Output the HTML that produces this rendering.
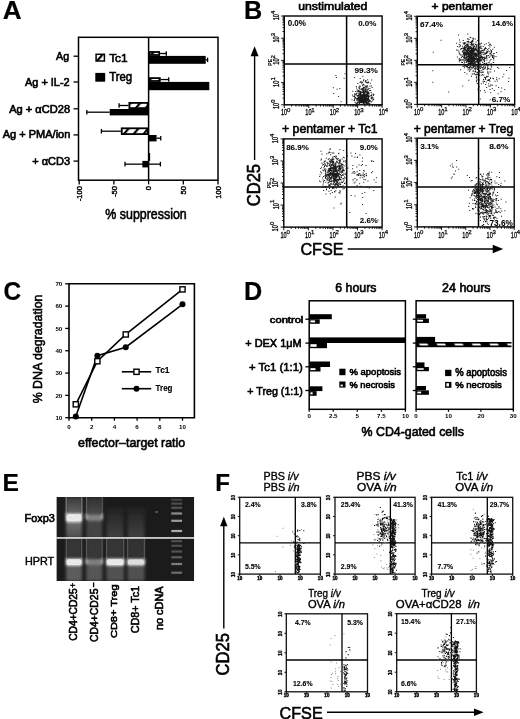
<!DOCTYPE html>
<html><head><meta charset="utf-8"><style>
html,body{margin:0;padding:0;background:#fff;}
svg{display:block;filter:blur(0.35px);}
text{font-family:"Liberation Sans", sans-serif;fill:#000;}
</style></head><body>
<svg width="520" height="719" viewBox="0 0 520 719">
<rect width="520" height="719" fill="#fff"/>
<defs>
<pattern id="hat" width="7.5" height="7.5" patternUnits="userSpaceOnUse" patternTransform="rotate(40)">
<rect width="7.5" height="7.5" fill="#fff"/><rect width="2.2" height="7.5" fill="#000"/></pattern>
<pattern id="hat2" x="415.6" y="342.0" width="17.6" height="5.2" patternUnits="userSpaceOnUse">
<rect width="17.6" height="5.2" fill="#000"/><path d="M3.2 1.5H11.5L13 3.4H4.5Z" fill="#fff"/></pattern>
</defs>
<text x="2.65" y="19.20" font-size="25.80" textLength="18.86" lengthAdjust="spacingAndGlyphs" font-weight="bold" stroke="#000" stroke-width="0.2">A</text>
<text x="244.06" y="18.80" font-size="25.22" textLength="18.23" lengthAdjust="spacingAndGlyphs" font-weight="bold" stroke="#000" stroke-width="0.2">B</text>
<text x="3.42" y="300.20" font-size="25.29" textLength="17.64" lengthAdjust="spacingAndGlyphs" font-weight="bold" stroke="#000" stroke-width="0.2">C</text>
<text x="244.06" y="299.80" font-size="26.23" textLength="18.20" lengthAdjust="spacingAndGlyphs" font-weight="bold" stroke="#000" stroke-width="0.2">D</text>
<text x="2.50" y="491.40" font-size="24.20" textLength="16.41" lengthAdjust="spacingAndGlyphs" font-weight="bold" stroke="#000" stroke-width="0.2">E</text>
<text x="215.33" y="490.60" font-size="23.04" textLength="14.73" lengthAdjust="spacingAndGlyphs" font-weight="bold" stroke="#000" stroke-width="0.2">F</text>
<rect x="78.5" y="37.3" width="139.5" height="142.89999999999998" fill="none" stroke="#000" stroke-width="1.5"/>
<line x1="148.60" y1="37.30" x2="148.60" y2="180.20" stroke="#000" stroke-width="1.5"/>
<line x1="73.50" y1="56.20" x2="78.50" y2="56.20" stroke="#000" stroke-width="1.3"/>
<text x="56.10" y="60.10" font-size="11.16" textLength="13.13" lengthAdjust="spacingAndGlyphs" stroke="#000" stroke-width="0.6">Ag</text>
<line x1="73.50" y1="82.00" x2="78.50" y2="82.00" stroke="#000" stroke-width="1.3"/>
<text x="25.00" y="86.20" font-size="10.86" textLength="44.66" lengthAdjust="spacingAndGlyphs" stroke="#000" stroke-width="0.6">Ag + IL-2</text>
<line x1="73.50" y1="108.80" x2="78.50" y2="108.80" stroke="#000" stroke-width="1.3"/>
<text x="9.20" y="112.60" font-size="10.29" textLength="60.87" lengthAdjust="spacingAndGlyphs" stroke="#000" stroke-width="0.6">Ag + αCD28</text>
<line x1="73.50" y1="134.90" x2="78.50" y2="134.90" stroke="#000" stroke-width="1.3"/>
<text x="2.70" y="138.30" font-size="10.43" textLength="67.64" lengthAdjust="spacingAndGlyphs" stroke="#000" stroke-width="0.6">Ag + PMA/ion</text>
<line x1="73.50" y1="161.10" x2="78.50" y2="161.10" stroke="#000" stroke-width="1.3"/>
<text x="32.15" y="164.50" font-size="10.29" textLength="37.90" lengthAdjust="spacingAndGlyphs" stroke="#000" stroke-width="0.6">+ αCD3</text>
<line x1="79.20" y1="180.20" x2="79.20" y2="184.40" stroke="#000" stroke-width="1.3"/>
<text x="82.00" y="186.00" font-size="7.6" text-anchor="end" transform="rotate(-90 81.99999999999999 186.0)" stroke="#000" stroke-width="0.4">-100</text>
<line x1="113.90" y1="180.20" x2="113.90" y2="184.40" stroke="#000" stroke-width="1.3"/>
<text x="116.70" y="186.00" font-size="7.6" text-anchor="end" transform="rotate(-90 116.69999999999999 186.0)" stroke="#000" stroke-width="0.4">-50</text>
<line x1="148.60" y1="180.20" x2="148.60" y2="184.40" stroke="#000" stroke-width="1.3"/>
<text x="151.40" y="186.00" font-size="7.6" text-anchor="end" transform="rotate(-90 151.4 186.0)" stroke="#000" stroke-width="0.4">0</text>
<line x1="183.30" y1="180.20" x2="183.30" y2="184.40" stroke="#000" stroke-width="1.3"/>
<text x="186.10" y="186.00" font-size="7.6" text-anchor="end" transform="rotate(-90 186.10000000000002 186.0)" stroke="#000" stroke-width="0.4">50</text>
<line x1="218.00" y1="180.20" x2="218.00" y2="184.40" stroke="#000" stroke-width="1.3"/>
<text x="220.80" y="186.00" font-size="7.6" text-anchor="end" transform="rotate(-90 220.8 186.0)" stroke="#000" stroke-width="0.4">100</text>
<text x="105.37" y="219.20" font-size="14.53" textLength="81.33" lengthAdjust="spacingAndGlyphs" stroke="#000" stroke-width="0.6">% suppression</text>
<rect x="149.50" y="52.00" width="9.65" height="3.00" fill="url(#hat)" stroke="#000" stroke-width="1.8"/>
<line x1="160.05" y1="53.50" x2="166.30" y2="53.50" stroke="#000" stroke-width="1.3"/>
<line x1="166.30" y1="51.20" x2="166.30" y2="55.80" stroke="#000" stroke-width="1.3"/>
<rect x="148.60" y="55.90" width="57.12" height="7.90" fill="#000"/>
<line x1="205.72" y1="59.85" x2="207.59" y2="59.85" stroke="#000" stroke-width="1.3"/>
<line x1="207.59" y1="57.55" x2="207.59" y2="62.15" stroke="#000" stroke-width="1.3"/>
<rect x="149.50" y="78.10" width="10.35" height="2.90" fill="url(#hat)" stroke="#000" stroke-width="1.8"/>
<line x1="160.75" y1="79.55" x2="168.73" y2="79.55" stroke="#000" stroke-width="1.3"/>
<line x1="168.73" y1="77.25" x2="168.73" y2="81.85" stroke="#000" stroke-width="1.3"/>
<rect x="148.60" y="81.90" width="60.72" height="8.30" fill="#000"/>
<rect x="129.37" y="102.90" width="18.33" height="5.20" fill="url(#hat)" stroke="#000" stroke-width="1.8"/>
<line x1="128.47" y1="105.50" x2="119.10" y2="105.50" stroke="#000" stroke-width="1.3"/>
<line x1="119.10" y1="103.20" x2="119.10" y2="107.80" stroke="#000" stroke-width="1.3"/>
<rect x="109.74" y="109.00" width="38.86" height="6.40" fill="#000"/>
<line x1="109.74" y1="112.20" x2="86.83" y2="112.20" stroke="#000" stroke-width="1.3"/>
<line x1="86.83" y1="109.90" x2="86.83" y2="114.50" stroke="#000" stroke-width="1.3"/>
<rect x="121.74" y="128.30" width="25.96" height="5.80" fill="url(#hat)" stroke="#000" stroke-width="1.8"/>
<line x1="120.84" y1="131.20" x2="101.41" y2="131.20" stroke="#000" stroke-width="1.3"/>
<line x1="101.41" y1="128.90" x2="101.41" y2="133.50" stroke="#000" stroke-width="1.3"/>
<rect x="148.60" y="135.00" width="7.98" height="6.40" fill="#000"/>
<line x1="156.58" y1="138.20" x2="160.75" y2="138.20" stroke="#000" stroke-width="1.3"/>
<line x1="160.75" y1="135.90" x2="160.75" y2="140.50" stroke="#000" stroke-width="1.3"/>
<rect x="148.60" y="153.00" width="1.53" height="7.90" fill="#000"/>
<rect x="142.35" y="160.90" width="6.25" height="6.50" fill="#000"/>
<line x1="142.35" y1="164.15" x2="125.00" y2="164.15" stroke="#000" stroke-width="1.3"/>
<line x1="125.00" y1="161.85" x2="125.00" y2="166.45" stroke="#000" stroke-width="1.3"/>
<line x1="142.35" y1="164.15" x2="160.40" y2="164.15" stroke="#000" stroke-width="1.3"/>
<line x1="160.40" y1="161.85" x2="160.40" y2="166.45" stroke="#000" stroke-width="1.3"/>
<rect x="96.10" y="54.30" width="8.30" height="6.70" fill="url(#hat)" stroke="#000" stroke-width="1.5"/>
<text x="109.16" y="61.50" font-size="11.74" textLength="18.49" lengthAdjust="spacingAndGlyphs" stroke="#000" stroke-width="0.6">Tc1</text>
<rect x="95.30" y="72.90" width="9.90" height="8.80" fill="#000"/>
<text x="109.17" y="81.30" font-size="12.17" textLength="22.96" lengthAdjust="spacingAndGlyphs" stroke="#000" stroke-width="0.6">Treg</text>
<rect x="284.3" y="16.0" width="97.80000000000001" height="88.8" fill="none" stroke="#000" stroke-width="1.4"/>
<line x1="346.60" y1="16.00" x2="346.60" y2="104.80" stroke="#000" stroke-width="1.5"/>
<line x1="284.30" y1="64.00" x2="382.10" y2="64.00" stroke="#000" stroke-width="1.5"/>
<path d="M284.30 104.8v3.2M284.3 104.80h-3.2M291.66 104.8v1.8M284.3 98.12h-1.8M295.97 104.8v1.8M284.3 94.21h-1.8M299.02 104.8v1.8M284.3 91.43h-1.8M301.39 104.8v1.8M284.3 89.28h-1.8M303.33 104.8v1.8M284.3 87.53h-1.8M304.96 104.8v1.8M284.3 86.04h-1.8M306.38 104.8v1.8M284.3 84.75h-1.8M307.63 104.8v1.8M284.3 83.62h-1.8M308.75 104.8v3.2M284.3 82.60h-3.2M316.11 104.8v1.8M284.3 75.92h-1.8M320.42 104.8v1.8M284.3 72.01h-1.8M323.47 104.8v1.8M284.3 69.23h-1.8M325.84 104.8v1.8M284.3 67.08h-1.8M327.78 104.8v1.8M284.3 65.33h-1.8M329.41 104.8v1.8M284.3 63.84h-1.8M330.83 104.8v1.8M284.3 62.55h-1.8M332.08 104.8v1.8M284.3 61.42h-1.8M333.20 104.8v3.2M284.3 60.40h-3.2M340.56 104.8v1.8M284.3 53.72h-1.8M344.87 104.8v1.8M284.3 49.81h-1.8M347.92 104.8v1.8M284.3 47.03h-1.8M350.29 104.8v1.8M284.3 44.88h-1.8M352.23 104.8v1.8M284.3 43.13h-1.8M353.86 104.8v1.8M284.3 41.64h-1.8M355.28 104.8v1.8M284.3 40.35h-1.8M356.53 104.8v1.8M284.3 39.22h-1.8M357.65 104.8v3.2M284.3 38.20h-3.2M365.01 104.8v1.8M284.3 31.52h-1.8M369.32 104.8v1.8M284.3 27.61h-1.8M372.37 104.8v1.8M284.3 24.83h-1.8M374.74 104.8v1.8M284.3 22.68h-1.8M376.68 104.8v1.8M284.3 20.93h-1.8M378.31 104.8v1.8M284.3 19.44h-1.8M379.73 104.8v1.8M284.3 18.15h-1.8M380.98 104.8v1.8M284.3 17.02h-1.8M382.1 104.8v3.2M284.3 16.0h-3.2" stroke="#000" stroke-width="0.9" fill="none"/>
<text x="284.00" y="115.40" font-size="8.4" text-anchor="middle" textLength="6.2" lengthAdjust="spacingAndGlyphs" stroke="#000" stroke-width="0.3">10</text>
<text x="286.90" y="111.80" font-size="6" stroke="#000" stroke-width="0.25">0</text>
<text x="279.00" y="106.00" font-size="8.4" text-anchor="middle" textLength="6.2" lengthAdjust="spacingAndGlyphs" transform="rotate(-90 279.00 106.00)" stroke="#000" stroke-width="0.3">10</text>
<text x="274.80" y="102.80" font-size="6" transform="rotate(-90 274.80 102.80)" stroke="#000" stroke-width="0.25">0</text>
<text x="308.45" y="115.40" font-size="8.4" text-anchor="middle" textLength="6.2" lengthAdjust="spacingAndGlyphs" stroke="#000" stroke-width="0.3">10</text>
<text x="311.35" y="111.80" font-size="6" stroke="#000" stroke-width="0.25">1</text>
<text x="279.00" y="83.80" font-size="8.4" text-anchor="middle" textLength="6.2" lengthAdjust="spacingAndGlyphs" transform="rotate(-90 279.00 83.80)" stroke="#000" stroke-width="0.3">10</text>
<text x="274.80" y="80.60" font-size="6" transform="rotate(-90 274.80 80.60)" stroke="#000" stroke-width="0.25">1</text>
<text x="332.90" y="115.40" font-size="8.4" text-anchor="middle" textLength="6.2" lengthAdjust="spacingAndGlyphs" stroke="#000" stroke-width="0.3">10</text>
<text x="335.80" y="111.80" font-size="6" stroke="#000" stroke-width="0.25">2</text>
<text x="279.00" y="61.60" font-size="8.4" text-anchor="middle" textLength="6.2" lengthAdjust="spacingAndGlyphs" transform="rotate(-90 279.00 61.60)" stroke="#000" stroke-width="0.3">10</text>
<text x="274.80" y="58.40" font-size="6" transform="rotate(-90 274.80 58.40)" stroke="#000" stroke-width="0.25">2</text>
<text x="357.35" y="115.40" font-size="8.4" text-anchor="middle" textLength="6.2" lengthAdjust="spacingAndGlyphs" stroke="#000" stroke-width="0.3">10</text>
<text x="360.25" y="111.80" font-size="6" stroke="#000" stroke-width="0.25">3</text>
<text x="279.00" y="39.40" font-size="8.4" text-anchor="middle" textLength="6.2" lengthAdjust="spacingAndGlyphs" transform="rotate(-90 279.00 39.40)" stroke="#000" stroke-width="0.3">10</text>
<text x="274.80" y="36.20" font-size="6" transform="rotate(-90 274.80 36.20)" stroke="#000" stroke-width="0.25">3</text>
<text x="381.80" y="115.40" font-size="8.4" text-anchor="middle" textLength="6.2" lengthAdjust="spacingAndGlyphs" stroke="#000" stroke-width="0.3">10</text>
<text x="384.70" y="111.80" font-size="6" stroke="#000" stroke-width="0.25">4</text>
<text x="279.00" y="17.20" font-size="8.4" text-anchor="middle" textLength="6.2" lengthAdjust="spacingAndGlyphs" transform="rotate(-90 279.00 17.20)" stroke="#000" stroke-width="0.3">10</text>
<text x="274.80" y="14.00" font-size="6" transform="rotate(-90 274.80 14.00)" stroke="#000" stroke-width="0.25">4</text>
<text x="271.70" y="62.20" font-size="5.2" font-weight="bold" text-anchor="middle" transform="rotate(-90 271.70 62.20)">PE</text>
<text x="298.31" y="9.60" font-size="10.62" textLength="69.08" lengthAdjust="spacingAndGlyphs" stroke="#000" stroke-width="0.6">unstimulated</text>
<path d="M362.0 100.5h1.0v1.0h-1.0zM362.1 96.5h1.0v1.0h-1.0zM359.5 97.0h1.0v1.0h-1.0zM367.2 100.0h1.0v1.0h-1.0zM366.9 99.2h1.0v1.0h-1.0zM364.5 98.9h1.0v1.0h-1.0zM356.7 102.1h1.0v1.0h-1.0zM364.9 100.4h1.0v1.0h-1.0zM356.6 89.6h1.0v1.0h-1.0zM359.6 95.8h1.0v1.0h-1.0zM364.2 97.8h1.0v1.0h-1.0zM365.0 94.9h1.0v1.0h-1.0zM364.2 99.9h1.0v1.0h-1.0zM358.3 94.6h1.0v1.0h-1.0zM359.7 102.3h1.0v1.0h-1.0zM364.2 98.6h1.0v1.0h-1.0zM359.9 99.2h1.0v1.0h-1.0zM364.6 90.8h1.0v1.0h-1.0zM367.3 92.5h1.0v1.0h-1.0zM357.4 102.0h1.0v1.0h-1.0zM365.5 102.5h1.0v1.0h-1.0zM368.5 99.7h1.0v1.0h-1.0zM363.5 91.8h1.0v1.0h-1.0zM365.3 95.1h1.0v1.0h-1.0zM361.3 91.9h1.0v1.0h-1.0zM359.3 95.5h1.0v1.0h-1.0zM367.9 88.2h1.0v1.0h-1.0zM357.5 99.1h1.0v1.0h-1.0zM368.5 100.8h1.0v1.0h-1.0zM355.8 85.9h1.0v1.0h-1.0zM364.4 94.5h1.0v1.0h-1.0zM358.7 102.7h1.0v1.0h-1.0zM367.2 98.8h1.0v1.0h-1.0zM363.9 100.1h1.0v1.0h-1.0zM369.1 101.0h1.0v1.0h-1.0zM365.0 100.6h1.0v1.0h-1.0zM358.4 99.9h1.0v1.0h-1.0zM368.2 92.1h1.0v1.0h-1.0zM365.0 95.1h1.0v1.0h-1.0zM359.9 100.3h1.0v1.0h-1.0zM370.1 90.0h1.0v1.0h-1.0zM364.4 100.4h1.0v1.0h-1.0zM363.3 101.5h1.0v1.0h-1.0zM358.0 98.6h1.0v1.0h-1.0zM363.0 98.4h1.0v1.0h-1.0zM359.8 100.2h1.0v1.0h-1.0zM354.4 93.2h1.0v1.0h-1.0zM361.3 92.6h1.0v1.0h-1.0zM358.8 93.1h1.0v1.0h-1.0zM370.7 101.4h1.0v1.0h-1.0zM364.4 88.4h1.0v1.0h-1.0zM364.1 93.4h1.0v1.0h-1.0zM361.6 99.3h1.0v1.0h-1.0zM362.1 96.7h1.0v1.0h-1.0zM365.4 99.3h1.0v1.0h-1.0zM364.8 101.7h1.0v1.0h-1.0zM363.1 98.0h1.0v1.0h-1.0zM364.0 99.8h1.0v1.0h-1.0zM362.4 98.8h1.0v1.0h-1.0zM366.7 93.3h1.0v1.0h-1.0zM364.7 100.9h1.0v1.0h-1.0zM360.9 101.7h1.0v1.0h-1.0zM368.3 102.5h1.0v1.0h-1.0zM358.7 99.2h1.0v1.0h-1.0zM364.5 99.1h1.0v1.0h-1.0zM361.4 101.1h1.0v1.0h-1.0zM364.1 95.5h1.0v1.0h-1.0zM372.2 99.7h1.0v1.0h-1.0zM360.9 97.5h1.0v1.0h-1.0zM362.1 97.7h1.0v1.0h-1.0zM352.6 95.7h1.0v1.0h-1.0zM366.8 92.4h1.0v1.0h-1.0zM362.7 102.6h1.0v1.0h-1.0zM363.6 93.8h1.0v1.0h-1.0zM364.2 102.5h1.0v1.0h-1.0zM367.1 91.1h1.0v1.0h-1.0zM365.6 90.8h1.0v1.0h-1.0zM362.4 98.9h1.0v1.0h-1.0zM366.0 98.7h1.0v1.0h-1.0zM362.7 102.6h1.0v1.0h-1.0zM354.6 101.7h1.0v1.0h-1.0zM372.4 97.1h1.0v1.0h-1.0zM361.2 100.5h1.0v1.0h-1.0zM363.4 101.1h1.0v1.0h-1.0zM364.5 102.6h1.0v1.0h-1.0zM365.3 93.4h1.0v1.0h-1.0zM359.1 90.9h1.0v1.0h-1.0zM367.8 101.6h1.0v1.0h-1.0zM368.6 93.5h1.0v1.0h-1.0zM363.0 92.5h1.0v1.0h-1.0zM366.2 85.8h1.0v1.0h-1.0zM359.9 101.0h1.0v1.0h-1.0zM368.8 95.5h1.0v1.0h-1.0zM364.0 100.2h1.0v1.0h-1.0zM367.8 102.8h1.0v1.0h-1.0zM367.3 102.5h1.0v1.0h-1.0zM361.1 94.3h1.0v1.0h-1.0zM361.1 97.2h1.0v1.0h-1.0zM373.1 99.1h1.0v1.0h-1.0zM360.3 93.3h1.0v1.0h-1.0zM366.7 95.9h1.0v1.0h-1.0zM367.9 91.5h1.0v1.0h-1.0zM363.7 101.5h1.0v1.0h-1.0zM362.2 101.4h1.0v1.0h-1.0zM360.5 96.1h1.0v1.0h-1.0zM361.2 99.2h1.0v1.0h-1.0zM366.0 95.6h1.0v1.0h-1.0zM358.1 99.7h1.0v1.0h-1.0zM366.3 95.2h1.0v1.0h-1.0zM366.9 95.2h1.0v1.0h-1.0zM358.5 96.8h1.0v1.0h-1.0zM367.1 98.6h1.0v1.0h-1.0zM363.1 98.4h1.0v1.0h-1.0zM363.7 95.2h1.0v1.0h-1.0zM357.0 99.3h1.0v1.0h-1.0zM359.8 96.5h1.0v1.0h-1.0zM358.2 97.3h1.0v1.0h-1.0zM363.4 95.8h1.0v1.0h-1.0zM360.3 96.7h1.0v1.0h-1.0zM357.1 94.9h1.0v1.0h-1.0zM366.5 95.3h1.0v1.0h-1.0zM359.6 94.3h1.0v1.0h-1.0zM357.2 97.4h1.0v1.0h-1.0zM358.5 99.7h1.0v1.0h-1.0zM354.0 99.6h1.0v1.0h-1.0zM360.6 88.7h1.0v1.0h-1.0zM365.8 96.7h1.0v1.0h-1.0zM354.5 93.8h1.0v1.0h-1.0zM364.1 95.8h1.0v1.0h-1.0zM366.0 101.6h1.0v1.0h-1.0zM365.5 99.6h1.0v1.0h-1.0zM368.1 101.2h1.0v1.0h-1.0zM364.7 88.0h1.0v1.0h-1.0zM367.9 102.5h1.0v1.0h-1.0zM351.5 99.2h1.0v1.0h-1.0zM364.1 95.5h1.0v1.0h-1.0zM358.8 100.4h1.0v1.0h-1.0zM361.7 100.7h1.0v1.0h-1.0zM359.1 96.3h1.0v1.0h-1.0zM366.4 98.5h1.0v1.0h-1.0zM359.8 94.0h1.0v1.0h-1.0zM365.4 85.6h1.0v1.0h-1.0zM365.4 100.3h1.0v1.0h-1.0zM369.4 100.1h1.0v1.0h-1.0zM362.7 100.5h1.0v1.0h-1.0zM355.6 103.0h1.0v1.0h-1.0zM364.2 94.6h1.0v1.0h-1.0zM362.5 96.0h1.0v1.0h-1.0zM368.4 100.6h1.0v1.0h-1.0zM361.7 98.8h1.0v1.0h-1.0zM368.0 95.4h1.0v1.0h-1.0zM363.5 96.1h1.0v1.0h-1.0zM363.9 96.6h1.0v1.0h-1.0zM365.7 94.0h1.0v1.0h-1.0zM365.7 96.3h1.0v1.0h-1.0zM366.2 102.3h1.0v1.0h-1.0zM363.1 100.3h1.0v1.0h-1.0zM363.6 99.3h1.0v1.0h-1.0zM364.0 102.0h1.0v1.0h-1.0zM360.6 98.0h1.0v1.0h-1.0zM362.6 98.8h1.0v1.0h-1.0zM363.0 98.8h1.0v1.0h-1.0zM362.5 92.0h1.0v1.0h-1.0zM364.7 97.1h1.0v1.0h-1.0zM364.7 93.4h1.0v1.0h-1.0zM355.8 98.3h1.0v1.0h-1.0zM359.5 101.6h1.0v1.0h-1.0zM358.9 85.4h1.0v1.0h-1.0zM359.0 102.9h1.0v1.0h-1.0zM360.5 94.3h1.0v1.0h-1.0zM362.3 99.3h1.0v1.0h-1.0zM364.0 99.3h1.0v1.0h-1.0zM362.8 94.3h1.0v1.0h-1.0zM363.8 99.7h1.0v1.0h-1.0zM367.2 89.8h1.0v1.0h-1.0zM361.5 94.6h1.0v1.0h-1.0zM363.2 102.0h1.0v1.0h-1.0zM360.8 98.7h1.0v1.0h-1.0zM360.2 99.3h1.0v1.0h-1.0zM372.9 94.9h1.0v1.0h-1.0zM360.3 97.0h1.0v1.0h-1.0zM366.2 97.1h1.0v1.0h-1.0zM362.9 98.2h1.0v1.0h-1.0zM359.8 101.7h1.0v1.0h-1.0zM360.5 97.9h1.0v1.0h-1.0zM362.6 98.0h1.0v1.0h-1.0zM362.9 100.1h1.0v1.0h-1.0zM362.1 98.8h1.0v1.0h-1.0zM366.2 98.6h1.0v1.0h-1.0zM363.0 91.0h1.0v1.0h-1.0zM361.3 88.4h1.0v1.0h-1.0zM360.4 100.7h1.0v1.0h-1.0zM365.2 97.7h1.0v1.0h-1.0zM362.1 91.2h1.0v1.0h-1.0zM369.9 100.5h1.0v1.0h-1.0zM367.2 93.8h1.0v1.0h-1.0zM362.3 89.3h1.0v1.0h-1.0zM366.0 102.5h1.0v1.0h-1.0zM355.8 97.7h1.0v1.0h-1.0zM365.4 89.5h1.0v1.0h-1.0zM356.1 92.9h1.0v1.0h-1.0zM360.6 91.3h1.0v1.0h-1.0zM363.1 99.2h1.0v1.0h-1.0zM365.4 101.4h1.0v1.0h-1.0zM358.0 95.6h1.0v1.0h-1.0zM359.0 92.8h1.0v1.0h-1.0zM362.7 98.0h1.0v1.0h-1.0zM364.9 90.4h1.0v1.0h-1.0zM358.3 97.9h1.0v1.0h-1.0zM362.2 96.5h1.0v1.0h-1.0zM362.8 94.4h1.0v1.0h-1.0zM365.7 99.7h1.0v1.0h-1.0zM362.7 94.8h1.0v1.0h-1.0zM362.3 84.9h1.0v1.0h-1.0zM359.3 98.2h1.0v1.0h-1.0zM357.3 99.0h1.0v1.0h-1.0zM363.6 91.4h1.0v1.0h-1.0zM362.0 96.5h1.0v1.0h-1.0zM364.7 100.9h1.0v1.0h-1.0zM362.9 93.9h1.0v1.0h-1.0zM362.5 97.7h1.0v1.0h-1.0zM365.8 99.4h1.0v1.0h-1.0zM360.3 91.5h1.0v1.0h-1.0zM361.6 94.4h1.0v1.0h-1.0zM358.8 97.4h1.0v1.0h-1.0zM361.1 98.5h1.0v1.0h-1.0zM365.0 96.0h1.0v1.0h-1.0zM371.8 96.5h1.0v1.0h-1.0zM367.2 98.6h1.0v1.0h-1.0zM367.2 86.6h1.0v1.0h-1.0zM360.1 99.2h1.0v1.0h-1.0zM361.2 96.7h1.0v1.0h-1.0zM353.7 96.2h1.0v1.0h-1.0zM367.5 93.1h1.0v1.0h-1.0zM363.3 98.1h1.0v1.0h-1.0zM358.8 98.3h1.0v1.0h-1.0zM362.3 100.5h1.0v1.0h-1.0zM361.2 101.5h1.0v1.0h-1.0zM363.1 97.8h1.0v1.0h-1.0zM363.0 88.8h1.0v1.0h-1.0zM369.3 102.9h1.0v1.0h-1.0zM365.6 95.7h1.0v1.0h-1.0zM360.4 101.4h1.0v1.0h-1.0zM368.1 98.0h1.0v1.0h-1.0zM360.4 101.9h1.0v1.0h-1.0zM362.8 99.5h1.0v1.0h-1.0zM364.4 102.3h1.0v1.0h-1.0zM370.6 95.3h1.0v1.0h-1.0zM365.0 91.7h1.0v1.0h-1.0zM370.7 92.1h1.0v1.0h-1.0zM357.2 95.7h1.0v1.0h-1.0zM368.9 100.4h1.0v1.0h-1.0zM356.9 100.4h1.0v1.0h-1.0zM361.1 94.9h1.0v1.0h-1.0zM371.3 101.3h1.0v1.0h-1.0zM366.0 101.9h1.0v1.0h-1.0zM361.2 101.4h1.0v1.0h-1.0zM362.3 84.9h1.0v1.0h-1.0zM359.4 96.3h1.0v1.0h-1.0zM364.1 100.5h1.0v1.0h-1.0zM364.5 102.5h1.0v1.0h-1.0zM361.0 98.8h1.0v1.0h-1.0zM363.6 100.0h1.0v1.0h-1.0zM362.1 99.8h1.0v1.0h-1.0zM363.2 101.7h1.0v1.0h-1.0zM355.8 93.8h1.0v1.0h-1.0zM363.0 93.0h1.0v1.0h-1.0zM359.0 101.0h1.0v1.0h-1.0zM360.5 101.0h1.0v1.0h-1.0zM365.8 99.5h1.0v1.0h-1.0zM364.9 97.5h1.0v1.0h-1.0zM357.6 97.9h1.0v1.0h-1.0zM364.7 95.5h1.0v1.0h-1.0zM362.6 101.6h1.0v1.0h-1.0zM359.7 101.1h1.0v1.0h-1.0zM370.1 95.3h1.0v1.0h-1.0zM363.6 97.3h1.0v1.0h-1.0zM368.9 99.5h1.0v1.0h-1.0zM366.4 94.7h1.0v1.0h-1.0zM362.9 98.0h1.0v1.0h-1.0zM356.3 102.8h1.0v1.0h-1.0zM369.3 87.9h1.0v1.0h-1.0zM363.0 100.3h1.0v1.0h-1.0zM365.6 102.8h1.0v1.0h-1.0zM359.3 87.6h1.0v1.0h-1.0zM362.0 91.2h1.0v1.0h-1.0zM363.4 92.7h1.0v1.0h-1.0zM362.0 97.6h1.0v1.0h-1.0zM363.6 94.6h1.0v1.0h-1.0zM367.8 94.7h1.0v1.0h-1.0zM362.3 100.4h1.0v1.0h-1.0zM362.9 103.0h1.0v1.0h-1.0zM364.1 99.2h1.0v1.0h-1.0zM358.0 97.0h1.0v1.0h-1.0zM360.9 100.2h1.0v1.0h-1.0zM362.6 97.6h1.0v1.0h-1.0zM368.3 96.2h1.0v1.0h-1.0zM366.2 94.4h1.0v1.0h-1.0zM363.3 101.6h1.0v1.0h-1.0zM368.8 96.2h1.0v1.0h-1.0zM362.7 98.9h1.0v1.0h-1.0zM357.3 98.1h1.0v1.0h-1.0zM360.4 99.8h1.0v1.0h-1.0zM358.7 88.5h1.0v1.0h-1.0zM363.1 99.3h1.0v1.0h-1.0zM360.9 102.3h1.0v1.0h-1.0zM362.0 95.1h1.0v1.0h-1.0zM364.8 90.5h1.0v1.0h-1.0zM360.4 97.9h1.0v1.0h-1.0zM366.2 97.2h1.0v1.0h-1.0zM364.2 94.9h1.0v1.0h-1.0zM367.2 96.3h1.0v1.0h-1.0zM364.0 101.2h1.0v1.0h-1.0zM358.1 101.5h1.0v1.0h-1.0zM365.0 97.1h1.0v1.0h-1.0zM360.9 100.1h1.0v1.0h-1.0zM365.1 97.6h1.0v1.0h-1.0zM364.3 98.5h1.0v1.0h-1.0zM356.6 102.7h1.0v1.0h-1.0zM361.6 81.5h1.0v1.0h-1.0zM366.1 96.2h1.0v1.0h-1.0zM366.5 102.9h1.0v1.0h-1.0zM368.5 99.4h1.0v1.0h-1.0zM360.3 101.2h1.0v1.0h-1.0zM361.9 100.5h1.0v1.0h-1.0zM366.1 98.1h1.0v1.0h-1.0zM365.5 97.3h1.0v1.0h-1.0zM358.6 102.8h1.0v1.0h-1.0zM361.9 98.6h1.0v1.0h-1.0zM359.4 98.8h1.0v1.0h-1.0zM365.2 96.5h1.0v1.0h-1.0zM357.1 102.7h1.0v1.0h-1.0zM363.1 96.6h1.0v1.0h-1.0zM364.3 98.4h1.0v1.0h-1.0zM365.6 96.2h1.0v1.0h-1.0zM362.9 87.7h1.0v1.0h-1.0zM361.4 101.2h1.0v1.0h-1.0zM368.1 96.3h1.0v1.0h-1.0zM362.9 98.4h1.0v1.0h-1.0zM363.3 87.3h1.0v1.0h-1.0zM356.9 89.4h1.0v1.0h-1.0zM365.7 98.5h1.0v1.0h-1.0zM353.6 99.9h1.0v1.0h-1.0zM366.6 96.6h1.0v1.0h-1.0zM354.3 98.5h1.0v1.0h-1.0zM365.8 102.9h1.0v1.0h-1.0zM365.9 90.6h1.0v1.0h-1.0zM360.4 95.3h1.0v1.0h-1.0zM361.5 102.1h1.0v1.0h-1.0zM363.3 96.1h1.0v1.0h-1.0zM363.9 98.5h1.0v1.0h-1.0zM359.8 96.6h1.0v1.0h-1.0zM370.8 96.8h1.0v1.0h-1.0zM366.0 97.7h1.0v1.0h-1.0zM364.5 99.1h1.0v1.0h-1.0zM357.0 98.1h1.0v1.0h-1.0zM360.4 99.1h1.0v1.0h-1.0zM358.4 101.3h1.0v1.0h-1.0zM360.1 90.9h1.0v1.0h-1.0zM366.2 92.2h1.0v1.0h-1.0zM359.6 96.1h1.0v1.0h-1.0zM362.8 94.8h1.0v1.0h-1.0zM363.0 101.6h1.0v1.0h-1.0zM361.2 102.3h1.0v1.0h-1.0zM367.5 97.7h1.0v1.0h-1.0zM364.8 97.9h1.0v1.0h-1.0zM356.1 99.4h1.0v1.0h-1.0zM367.5 89.0h1.0v1.0h-1.0zM366.1 99.0h1.0v1.0h-1.0zM364.8 100.1h1.0v1.0h-1.0zM368.0 96.9h1.0v1.0h-1.0zM366.3 96.0h1.0v1.0h-1.0zM365.8 94.1h1.0v1.0h-1.0zM362.6 102.6h1.0v1.0h-1.0zM367.0 102.0h1.0v1.0h-1.0zM361.1 95.7h1.0v1.0h-1.0zM361.6 99.9h1.0v1.0h-1.0zM363.8 101.5h1.0v1.0h-1.0zM358.5 93.9h1.0v1.0h-1.0zM363.2 98.7h1.0v1.0h-1.0zM362.0 101.0h1.0v1.0h-1.0zM364.3 92.2h1.0v1.0h-1.0zM364.6 98.9h1.0v1.0h-1.0zM359.2 101.7h1.0v1.0h-1.0zM361.9 96.4h1.0v1.0h-1.0zM362.3 102.0h1.0v1.0h-1.0zM366.1 96.8h1.0v1.0h-1.0zM359.7 96.2h1.0v1.0h-1.0zM356.4 102.8h1.0v1.0h-1.0zM366.6 97.9h1.0v1.0h-1.0zM371.2 98.4h1.0v1.0h-1.0zM356.8 102.1h1.0v1.0h-1.0zM360.8 98.7h1.0v1.0h-1.0zM367.8 98.6h1.0v1.0h-1.0zM357.7 89.9h1.0v1.0h-1.0zM367.5 101.6h1.0v1.0h-1.0zM359.9 102.1h1.0v1.0h-1.0zM364.9 101.1h1.0v1.0h-1.0zM354.4 96.5h1.0v1.0h-1.0zM366.4 101.5h1.0v1.0h-1.0zM366.3 86.2h1.0v1.0h-1.0zM363.6 100.4h1.0v1.0h-1.0zM372.7 93.4h1.0v1.0h-1.0zM361.7 98.2h1.0v1.0h-1.0zM366.4 95.9h1.0v1.0h-1.0zM367.4 94.2h1.0v1.0h-1.0zM364.0 95.5h1.0v1.0h-1.0zM363.6 94.7h1.0v1.0h-1.0zM364.2 95.3h1.0v1.0h-1.0zM363.8 102.8h1.0v1.0h-1.0zM359.3 97.5h1.0v1.0h-1.0zM365.0 100.5h1.0v1.0h-1.0zM361.7 87.9h1.0v1.0h-1.0zM367.7 99.6h1.0v1.0h-1.0zM363.0 96.7h1.0v1.0h-1.0zM364.0 96.0h1.0v1.0h-1.0zM359.1 94.4h1.0v1.0h-1.0zM360.7 95.1h1.0v1.0h-1.0zM358.6 101.1h1.0v1.0h-1.0zM358.0 101.2h1.0v1.0h-1.0zM359.1 99.7h1.0v1.0h-1.0zM368.2 99.0h1.0v1.0h-1.0zM360.2 98.2h1.0v1.0h-1.0zM363.6 89.7h1.0v1.0h-1.0zM360.7 98.8h1.0v1.0h-1.0zM361.2 98.4h1.0v1.0h-1.0zM365.8 101.7h1.0v1.0h-1.0zM366.4 100.8h1.0v1.0h-1.0zM361.9 97.9h1.0v1.0h-1.0zM362.0 96.5h1.0v1.0h-1.0zM362.3 89.7h1.0v1.0h-1.0zM361.7 97.9h1.0v1.0h-1.0zM359.3 97.9h1.0v1.0h-1.0zM365.0 97.2h1.0v1.0h-1.0zM370.9 85.5h1.0v1.0h-1.0zM362.2 89.2h1.0v1.0h-1.0zM371.1 95.1h1.0v1.0h-1.0zM366.4 102.6h1.0v1.0h-1.0zM366.2 99.8h1.0v1.0h-1.0zM363.1 95.2h1.0v1.0h-1.0zM365.4 95.7h1.0v1.0h-1.0zM363.8 95.6h1.0v1.0h-1.0zM354.5 97.8h1.0v1.0h-1.0zM363.8 101.6h1.0v1.0h-1.0zM359.7 97.8h1.0v1.0h-1.0zM365.3 98.7h1.0v1.0h-1.0zM367.7 103.0h1.0v1.0h-1.0zM364.8 96.2h1.0v1.0h-1.0zM363.4 95.7h1.0v1.0h-1.0zM357.7 96.7h1.0v1.0h-1.0zM356.1 93.2h1.0v1.0h-1.0zM364.2 94.7h1.0v1.0h-1.0zM356.0 87.4h1.0v1.0h-1.0zM358.2 94.4h1.0v1.0h-1.0zM362.9 98.3h1.0v1.0h-1.0zM365.1 98.6h1.0v1.0h-1.0zM360.0 94.6h1.0v1.0h-1.0zM354.9 97.2h1.0v1.0h-1.0zM364.8 100.5h1.0v1.0h-1.0zM362.5 97.2h1.0v1.0h-1.0zM366.6 98.1h1.0v1.0h-1.0zM365.8 100.8h1.0v1.0h-1.0zM364.0 99.7h1.0v1.0h-1.0zM358.0 90.6h1.0v1.0h-1.0zM363.8 93.2h1.0v1.0h-1.0zM362.9 98.7h1.0v1.0h-1.0zM360.0 93.1h1.0v1.0h-1.0zM354.6 101.9h1.0v1.0h-1.0zM362.7 94.4h1.0v1.0h-1.0zM363.9 97.2h1.0v1.0h-1.0zM359.2 97.0h1.0v1.0h-1.0zM363.1 99.7h1.0v1.0h-1.0zM363.1 97.3h1.0v1.0h-1.0zM354.4 94.4h1.0v1.0h-1.0zM364.6 100.5h1.0v1.0h-1.0zM359.5 94.4h1.0v1.0h-1.0zM358.6 91.2h1.0v1.0h-1.0zM364.5 101.7h1.0v1.0h-1.0zM362.6 99.4h1.0v1.0h-1.0zM368.1 92.6h1.0v1.0h-1.0zM362.9 90.2h1.0v1.0h-1.0zM368.1 81.4h1.0v1.0h-1.0zM354.2 93.5h1.0v1.0h-1.0zM359.2 92.5h1.0v1.0h-1.0zM366.2 94.1h1.0v1.0h-1.0zM367.8 92.5h1.0v1.0h-1.0zM363.0 80.2h1.0v1.0h-1.0zM367.9 81.9h1.0v1.0h-1.0zM362.3 99.8h1.0v1.0h-1.0zM354.1 95.8h1.0v1.0h-1.0zM358.7 90.2h1.0v1.0h-1.0zM354.1 76.9h1.0v1.0h-1.0zM367.3 91.5h1.0v1.0h-1.0zM363.8 102.5h1.0v1.0h-1.0zM371.6 87.1h1.0v1.0h-1.0zM361.1 95.6h1.0v1.0h-1.0zM369.5 85.6h1.0v1.0h-1.0zM360.1 81.3h1.0v1.0h-1.0zM369.1 90.0h1.0v1.0h-1.0zM367.5 81.8h1.0v1.0h-1.0zM366.7 85.1h1.0v1.0h-1.0zM361.9 82.0h1.0v1.0h-1.0zM361.7 95.5h1.0v1.0h-1.0zM361.4 89.0h1.0v1.0h-1.0zM365.6 88.9h1.0v1.0h-1.0zM365.6 91.6h1.0v1.0h-1.0zM367.6 88.2h1.0v1.0h-1.0zM363.8 92.3h1.0v1.0h-1.0zM371.2 93.8h1.0v1.0h-1.0zM357.3 82.9h1.0v1.0h-1.0zM362.8 88.4h1.0v1.0h-1.0zM358.6 87.4h1.0v1.0h-1.0zM367.2 79.2h1.0v1.0h-1.0zM364.6 89.4h1.0v1.0h-1.0zM371.2 79.5h1.0v1.0h-1.0zM365.5 89.9h1.0v1.0h-1.0zM363.7 94.3h1.0v1.0h-1.0zM373.4 93.9h1.0v1.0h-1.0zM366.0 81.8h1.0v1.0h-1.0zM366.5 82.2h1.0v1.0h-1.0zM362.4 94.1h1.0v1.0h-1.0zM370.6 97.8h1.0v1.0h-1.0zM364.3 96.9h1.0v1.0h-1.0zM362.0 91.7h1.0v1.0h-1.0zM362.8 96.7h1.0v1.0h-1.0zM361.9 84.4h1.0v1.0h-1.0zM352.3 90.7h1.0v1.0h-1.0zM362.0 89.8h1.0v1.0h-1.0zM358.0 94.9h1.0v1.0h-1.0zM363.7 84.6h1.0v1.0h-1.0zM361.1 82.7h1.0v1.0h-1.0zM371.6 98.0h1.0v1.0h-1.0zM363.1 91.3h1.0v1.0h-1.0zM365.8 102.3h1.0v1.0h-1.0zM363.5 90.9h1.0v1.0h-1.0zM356.6 91.5h1.0v1.0h-1.0zM364.0 86.7h1.0v1.0h-1.0zM357.9 91.2h1.0v1.0h-1.0zM365.1 86.3h1.0v1.0h-1.0zM367.2 89.0h1.0v1.0h-1.0zM364.9 101.6h1.0v1.0h-1.0zM360.3 91.0h1.0v1.0h-1.0zM361.5 88.8h1.0v1.0h-1.0zM365.0 80.5h1.0v1.0h-1.0zM364.8 81.4h1.0v1.0h-1.0zM359.6 96.6h1.0v1.0h-1.0zM353.9 100.1h1.0v1.0h-1.0zM372.9 98.6h1.0v1.0h-1.0zM366.7 91.7h1.0v1.0h-1.0zM357.6 90.9h1.0v1.0h-1.0zM366.0 87.6h1.0v1.0h-1.0zM356.4 93.1h1.0v1.0h-1.0zM363.3 79.3h1.0v1.0h-1.0zM359.9 85.8h1.0v1.0h-1.0zM361.5 94.6h1.0v1.0h-1.0zM367.5 82.4h1.0v1.0h-1.0zM362.8 86.7h1.0v1.0h-1.0zM354.2 95.5h1.0v1.0h-1.0zM360.5 89.3h1.0v1.0h-1.0zM351.9 94.4h1.0v1.0h-1.0zM363.3 95.6h1.0v1.0h-1.0zM360.3 101.3h1.0v1.0h-1.0zM364.8 87.6h1.0v1.0h-1.0zM365.3 95.4h1.0v1.0h-1.0zM359.9 98.5h1.0v1.0h-1.0zM365.6 96.3h1.0v1.0h-1.0zM362.7 87.8h1.0v1.0h-1.0zM365.5 90.2h1.0v1.0h-1.0zM365.5 80.1h1.0v1.0h-1.0zM359.7 92.8h1.0v1.0h-1.0zM361.3 88.5h1.0v1.0h-1.0zM364.5 97.7h1.0v1.0h-1.0zM368.4 92.5h1.0v1.0h-1.0zM365.2 80.6h1.0v1.0h-1.0zM355.2 91.0h1.0v1.0h-1.0zM360.0 91.9h1.0v1.0h-1.0zM358.5 86.7h1.0v1.0h-1.0zM362.3 75.7h1.0v1.0h-1.0zM356.5 94.9h1.0v1.0h-1.0zM363.0 83.7h1.0v1.0h-1.0zM364.2 102.1h1.0v1.0h-1.0zM369.9 82.7h1.0v1.0h-1.0zM359.7 78.0h1.0v1.0h-1.0zM359.6 81.9h1.0v1.0h-1.0zM358.4 92.7h1.0v1.0h-1.0zM361.3 88.7h1.0v1.0h-1.0zM354.6 96.9h1.0v1.0h-1.0zM361.2 81.4h1.0v1.0h-1.0zM363.0 98.3h1.0v1.0h-1.0zM355.6 93.7h1.0v1.0h-1.0zM333.2 92.9h1.0v1.0h-1.0zM343.6 77.7h1.0v1.0h-1.0zM338.1 96.1h1.0v1.0h-1.0zM332.8 87.2h1.0v1.0h-1.0zM344.5 73.2h1.0v1.0h-1.0zM335.9 77.0h1.0v1.0h-1.0zM340.6 101.2h1.0v1.0h-1.0zM335.4 75.1h1.0v1.0h-1.0zM336.5 88.8h1.0v1.0h-1.0zM339.3 87.9h1.0v1.0h-1.0z" fill="#1a1a1a"/>
<rect x="417.3" y="16.3" width="97.40000000000003" height="88.10000000000001" fill="none" stroke="#000" stroke-width="1.4"/>
<line x1="478.70" y1="16.30" x2="478.70" y2="104.40" stroke="#000" stroke-width="1.5"/>
<line x1="417.30" y1="64.70" x2="514.70" y2="64.70" stroke="#000" stroke-width="1.5"/>
<path d="M417.30 104.4v3.2M417.3 104.40h-3.2M424.63 104.4v1.8M417.3 97.77h-1.8M428.92 104.4v1.8M417.3 93.89h-1.8M431.96 104.4v1.8M417.3 91.14h-1.8M434.32 104.4v1.8M417.3 89.01h-1.8M436.25 104.4v1.8M417.3 87.26h-1.8M437.88 104.4v1.8M417.3 85.79h-1.8M439.29 104.4v1.8M417.3 84.51h-1.8M440.54 104.4v1.8M417.3 83.38h-1.8M441.65 104.4v3.2M417.3 82.38h-3.2M448.98 104.4v1.8M417.3 75.74h-1.8M453.27 104.4v1.8M417.3 71.87h-1.8M456.31 104.4v1.8M417.3 69.11h-1.8M458.67 104.4v1.8M417.3 66.98h-1.8M460.60 104.4v1.8M417.3 65.24h-1.8M462.23 104.4v1.8M417.3 63.76h-1.8M463.64 104.4v1.8M417.3 62.48h-1.8M464.89 104.4v1.8M417.3 61.36h-1.8M466.00 104.4v3.2M417.3 60.35h-3.2M473.33 104.4v1.8M417.3 53.72h-1.8M477.62 104.4v1.8M417.3 49.84h-1.8M480.66 104.4v1.8M417.3 47.09h-1.8M483.02 104.4v1.8M417.3 44.96h-1.8M484.95 104.4v1.8M417.3 43.21h-1.8M486.58 104.4v1.8M417.3 41.74h-1.8M487.99 104.4v1.8M417.3 40.46h-1.8M489.24 104.4v1.8M417.3 39.33h-1.8M490.35 104.4v3.2M417.3 38.33h-3.2M497.68 104.4v1.8M417.3 31.69h-1.8M501.97 104.4v1.8M417.3 27.82h-1.8M505.01 104.4v1.8M417.3 25.06h-1.8M507.37 104.4v1.8M417.3 22.93h-1.8M509.30 104.4v1.8M417.3 21.19h-1.8M510.93 104.4v1.8M417.3 19.71h-1.8M512.34 104.4v1.8M417.3 18.43h-1.8M513.59 104.4v1.8M417.3 17.31h-1.8M514.7 104.4v3.2M417.3 16.3h-3.2" stroke="#000" stroke-width="0.9" fill="none"/>
<text x="417.00" y="115.00" font-size="8.4" text-anchor="middle" textLength="6.2" lengthAdjust="spacingAndGlyphs" stroke="#000" stroke-width="0.3">10</text>
<text x="419.90" y="111.40" font-size="6" stroke="#000" stroke-width="0.25">0</text>
<text x="412.00" y="105.60" font-size="8.4" text-anchor="middle" textLength="6.2" lengthAdjust="spacingAndGlyphs" transform="rotate(-90 412.00 105.60)" stroke="#000" stroke-width="0.3">10</text>
<text x="407.80" y="102.40" font-size="6" transform="rotate(-90 407.80 102.40)" stroke="#000" stroke-width="0.25">0</text>
<text x="441.35" y="115.00" font-size="8.4" text-anchor="middle" textLength="6.2" lengthAdjust="spacingAndGlyphs" stroke="#000" stroke-width="0.3">10</text>
<text x="444.25" y="111.40" font-size="6" stroke="#000" stroke-width="0.25">1</text>
<text x="412.00" y="83.58" font-size="8.4" text-anchor="middle" textLength="6.2" lengthAdjust="spacingAndGlyphs" transform="rotate(-90 412.00 83.58)" stroke="#000" stroke-width="0.3">10</text>
<text x="407.80" y="80.38" font-size="6" transform="rotate(-90 407.80 80.38)" stroke="#000" stroke-width="0.25">1</text>
<text x="465.70" y="115.00" font-size="8.4" text-anchor="middle" textLength="6.2" lengthAdjust="spacingAndGlyphs" stroke="#000" stroke-width="0.3">10</text>
<text x="468.60" y="111.40" font-size="6" stroke="#000" stroke-width="0.25">2</text>
<text x="412.00" y="61.55" font-size="8.4" text-anchor="middle" textLength="6.2" lengthAdjust="spacingAndGlyphs" transform="rotate(-90 412.00 61.55)" stroke="#000" stroke-width="0.3">10</text>
<text x="407.80" y="58.35" font-size="6" transform="rotate(-90 407.80 58.35)" stroke="#000" stroke-width="0.25">2</text>
<text x="490.05" y="115.00" font-size="8.4" text-anchor="middle" textLength="6.2" lengthAdjust="spacingAndGlyphs" stroke="#000" stroke-width="0.3">10</text>
<text x="492.95" y="111.40" font-size="6" stroke="#000" stroke-width="0.25">3</text>
<text x="412.00" y="39.53" font-size="8.4" text-anchor="middle" textLength="6.2" lengthAdjust="spacingAndGlyphs" transform="rotate(-90 412.00 39.53)" stroke="#000" stroke-width="0.3">10</text>
<text x="407.80" y="36.33" font-size="6" transform="rotate(-90 407.80 36.33)" stroke="#000" stroke-width="0.25">3</text>
<text x="514.40" y="115.00" font-size="8.4" text-anchor="middle" textLength="6.2" lengthAdjust="spacingAndGlyphs" stroke="#000" stroke-width="0.3">10</text>
<text x="517.30" y="111.40" font-size="6" stroke="#000" stroke-width="0.25">4</text>
<text x="412.00" y="17.50" font-size="8.4" text-anchor="middle" textLength="6.2" lengthAdjust="spacingAndGlyphs" transform="rotate(-90 412.00 17.50)" stroke="#000" stroke-width="0.3">10</text>
<text x="407.80" y="14.30" font-size="6" transform="rotate(-90 407.80 14.30)" stroke="#000" stroke-width="0.25">4</text>
<text x="404.70" y="62.15" font-size="5.2" font-weight="bold" text-anchor="middle" transform="rotate(-90 404.70 62.15)">PE</text>
<text x="431.60" y="9.60" font-size="10.77" textLength="60.90" lengthAdjust="spacingAndGlyphs" stroke="#000" stroke-width="0.6">+ pentamer</text>
<path d="M464.0 42.4h1.0v1.0h-1.0zM465.0 52.3h1.0v1.0h-1.0zM473.7 53.6h1.0v1.0h-1.0zM468.2 47.3h1.0v1.0h-1.0zM470.5 50.8h1.0v1.0h-1.0zM475.2 54.9h1.0v1.0h-1.0zM474.2 57.4h1.0v1.0h-1.0zM469.6 55.1h1.0v1.0h-1.0zM465.6 57.3h1.0v1.0h-1.0zM468.8 47.6h1.0v1.0h-1.0zM469.9 59.7h1.0v1.0h-1.0zM469.6 36.8h1.0v1.0h-1.0zM466.7 52.8h1.0v1.0h-1.0zM471.9 47.8h1.0v1.0h-1.0zM470.9 58.4h1.0v1.0h-1.0zM471.9 41.5h1.0v1.0h-1.0zM466.4 47.4h1.0v1.0h-1.0zM466.9 51.7h1.0v1.0h-1.0zM475.0 54.0h1.0v1.0h-1.0zM464.1 42.7h1.0v1.0h-1.0zM472.7 47.4h1.0v1.0h-1.0zM468.5 63.1h1.0v1.0h-1.0zM477.3 65.9h1.0v1.0h-1.0zM464.1 64.6h1.0v1.0h-1.0zM469.7 61.5h1.0v1.0h-1.0zM470.2 62.3h1.0v1.0h-1.0zM470.4 55.0h1.0v1.0h-1.0zM469.6 48.4h1.0v1.0h-1.0zM470.4 60.8h1.0v1.0h-1.0zM464.8 54.3h1.0v1.0h-1.0zM465.3 45.2h1.0v1.0h-1.0zM462.5 65.8h1.0v1.0h-1.0zM471.4 52.7h1.0v1.0h-1.0zM475.6 41.4h1.0v1.0h-1.0zM470.9 50.6h1.0v1.0h-1.0zM473.9 46.1h1.0v1.0h-1.0zM471.1 54.8h1.0v1.0h-1.0zM477.6 52.8h1.0v1.0h-1.0zM470.3 57.9h1.0v1.0h-1.0zM472.7 59.2h1.0v1.0h-1.0zM471.1 47.9h1.0v1.0h-1.0zM476.8 69.0h1.0v1.0h-1.0zM471.1 50.3h1.0v1.0h-1.0zM475.8 49.3h1.0v1.0h-1.0zM471.8 44.0h1.0v1.0h-1.0zM477.5 48.0h1.0v1.0h-1.0zM472.1 50.7h1.0v1.0h-1.0zM468.0 45.5h1.0v1.0h-1.0zM470.0 46.5h1.0v1.0h-1.0zM475.2 49.2h1.0v1.0h-1.0zM470.0 59.8h1.0v1.0h-1.0zM474.2 62.0h1.0v1.0h-1.0zM475.7 58.7h1.0v1.0h-1.0zM474.0 62.1h1.0v1.0h-1.0zM463.8 53.2h1.0v1.0h-1.0zM470.7 53.9h1.0v1.0h-1.0zM473.5 48.2h1.0v1.0h-1.0zM463.2 48.8h1.0v1.0h-1.0zM473.0 49.0h1.0v1.0h-1.0zM458.8 61.2h1.0v1.0h-1.0zM476.9 60.7h1.0v1.0h-1.0zM469.5 53.0h1.0v1.0h-1.0zM464.2 46.0h1.0v1.0h-1.0zM474.5 52.6h1.0v1.0h-1.0zM476.5 54.8h1.0v1.0h-1.0zM459.3 53.6h1.0v1.0h-1.0zM478.4 58.7h1.0v1.0h-1.0zM467.0 49.0h1.0v1.0h-1.0zM473.5 49.8h1.0v1.0h-1.0zM464.0 54.6h1.0v1.0h-1.0zM470.8 49.5h1.0v1.0h-1.0zM465.3 56.5h1.0v1.0h-1.0zM461.1 47.9h1.0v1.0h-1.0zM467.7 67.3h1.0v1.0h-1.0zM465.2 58.4h1.0v1.0h-1.0zM469.5 63.0h1.0v1.0h-1.0zM477.8 54.4h1.0v1.0h-1.0zM471.5 48.3h1.0v1.0h-1.0zM468.5 59.8h1.0v1.0h-1.0zM464.0 47.7h1.0v1.0h-1.0zM470.6 52.5h1.0v1.0h-1.0zM468.5 38.9h1.0v1.0h-1.0zM468.7 53.5h1.0v1.0h-1.0zM470.1 55.2h1.0v1.0h-1.0zM474.6 71.0h1.0v1.0h-1.0zM464.4 46.4h1.0v1.0h-1.0zM473.1 39.3h1.0v1.0h-1.0zM464.8 46.7h1.0v1.0h-1.0zM464.7 45.1h1.0v1.0h-1.0zM463.8 46.7h1.0v1.0h-1.0zM472.1 65.6h1.0v1.0h-1.0zM461.8 55.9h1.0v1.0h-1.0zM472.9 57.9h1.0v1.0h-1.0zM479.0 59.3h1.0v1.0h-1.0zM476.8 50.3h1.0v1.0h-1.0zM463.7 63.2h1.0v1.0h-1.0zM471.8 45.5h1.0v1.0h-1.0zM470.1 60.7h1.0v1.0h-1.0zM466.3 56.7h1.0v1.0h-1.0zM463.5 57.5h1.0v1.0h-1.0zM471.9 53.8h1.0v1.0h-1.0zM469.0 53.3h1.0v1.0h-1.0zM477.3 65.2h1.0v1.0h-1.0zM459.9 44.7h1.0v1.0h-1.0zM469.5 54.7h1.0v1.0h-1.0zM465.0 59.8h1.0v1.0h-1.0zM483.8 49.5h1.0v1.0h-1.0zM465.0 54.5h1.0v1.0h-1.0zM476.3 62.2h1.0v1.0h-1.0zM471.0 58.8h1.0v1.0h-1.0zM470.8 54.7h1.0v1.0h-1.0zM469.2 50.8h1.0v1.0h-1.0zM472.5 54.3h1.0v1.0h-1.0zM472.2 52.1h1.0v1.0h-1.0zM478.5 57.6h1.0v1.0h-1.0zM470.7 66.6h1.0v1.0h-1.0zM470.9 56.8h1.0v1.0h-1.0zM471.5 43.2h1.0v1.0h-1.0zM475.5 46.2h1.0v1.0h-1.0zM476.6 61.1h1.0v1.0h-1.0zM468.8 46.2h1.0v1.0h-1.0zM473.9 52.9h1.0v1.0h-1.0zM478.4 53.6h1.0v1.0h-1.0zM471.2 54.8h1.0v1.0h-1.0zM464.7 42.2h1.0v1.0h-1.0zM474.2 58.4h1.0v1.0h-1.0zM469.9 50.0h1.0v1.0h-1.0zM474.2 48.8h1.0v1.0h-1.0zM474.9 58.1h1.0v1.0h-1.0zM465.3 49.8h1.0v1.0h-1.0zM469.0 50.5h1.0v1.0h-1.0zM471.7 48.1h1.0v1.0h-1.0zM465.8 45.3h1.0v1.0h-1.0zM465.8 57.1h1.0v1.0h-1.0zM473.1 37.7h1.0v1.0h-1.0zM471.8 45.4h1.0v1.0h-1.0zM469.8 56.9h1.0v1.0h-1.0zM478.3 54.3h1.0v1.0h-1.0zM472.5 49.1h1.0v1.0h-1.0zM459.0 39.5h1.0v1.0h-1.0zM473.7 46.5h1.0v1.0h-1.0zM468.3 61.4h1.0v1.0h-1.0zM474.2 50.7h1.0v1.0h-1.0zM467.5 44.7h1.0v1.0h-1.0zM477.8 47.9h1.0v1.0h-1.0zM470.2 54.9h1.0v1.0h-1.0zM469.9 62.1h1.0v1.0h-1.0zM462.1 45.7h1.0v1.0h-1.0zM471.5 53.3h1.0v1.0h-1.0zM475.0 43.8h1.0v1.0h-1.0zM474.8 48.3h1.0v1.0h-1.0zM468.8 68.5h1.0v1.0h-1.0zM473.1 44.5h1.0v1.0h-1.0zM474.4 51.9h1.0v1.0h-1.0zM476.0 60.5h1.0v1.0h-1.0zM471.3 50.0h1.0v1.0h-1.0zM470.3 37.3h1.0v1.0h-1.0zM471.0 64.7h1.0v1.0h-1.0zM467.7 46.5h1.0v1.0h-1.0zM471.4 60.2h1.0v1.0h-1.0zM470.4 41.4h1.0v1.0h-1.0zM468.1 54.8h1.0v1.0h-1.0zM473.4 43.2h1.0v1.0h-1.0zM471.0 64.4h1.0v1.0h-1.0zM478.9 47.1h1.0v1.0h-1.0zM464.4 52.1h1.0v1.0h-1.0zM467.4 51.3h1.0v1.0h-1.0zM471.5 59.1h1.0v1.0h-1.0zM468.8 47.5h1.0v1.0h-1.0zM465.4 50.5h1.0v1.0h-1.0zM467.4 53.4h1.0v1.0h-1.0zM487.4 65.2h1.0v1.0h-1.0zM468.6 56.6h1.0v1.0h-1.0zM464.2 43.5h1.0v1.0h-1.0zM474.2 63.7h1.0v1.0h-1.0zM466.8 61.2h1.0v1.0h-1.0zM471.6 55.0h1.0v1.0h-1.0zM480.7 55.9h1.0v1.0h-1.0zM463.6 53.9h1.0v1.0h-1.0zM469.6 67.2h1.0v1.0h-1.0zM459.1 60.1h1.0v1.0h-1.0zM471.3 41.1h1.0v1.0h-1.0zM474.2 54.0h1.0v1.0h-1.0zM473.7 56.4h1.0v1.0h-1.0zM471.2 57.5h1.0v1.0h-1.0zM476.6 58.8h1.0v1.0h-1.0zM474.3 49.4h1.0v1.0h-1.0zM481.1 51.5h1.0v1.0h-1.0zM476.8 59.8h1.0v1.0h-1.0zM468.2 56.3h1.0v1.0h-1.0zM474.2 53.9h1.0v1.0h-1.0zM463.5 48.8h1.0v1.0h-1.0zM477.8 53.1h1.0v1.0h-1.0zM465.9 58.6h1.0v1.0h-1.0zM477.6 72.3h1.0v1.0h-1.0zM474.0 55.0h1.0v1.0h-1.0zM474.2 56.7h1.0v1.0h-1.0zM463.6 65.9h1.0v1.0h-1.0zM478.5 48.3h1.0v1.0h-1.0zM479.0 60.2h1.0v1.0h-1.0zM468.4 43.7h1.0v1.0h-1.0zM472.1 54.6h1.0v1.0h-1.0zM475.7 65.5h1.0v1.0h-1.0zM477.6 51.9h1.0v1.0h-1.0zM468.2 63.5h1.0v1.0h-1.0zM470.4 51.0h1.0v1.0h-1.0zM468.5 59.2h1.0v1.0h-1.0zM474.5 61.4h1.0v1.0h-1.0zM472.2 59.7h1.0v1.0h-1.0zM475.2 64.3h1.0v1.0h-1.0zM478.5 57.2h1.0v1.0h-1.0zM470.8 56.5h1.0v1.0h-1.0zM473.6 52.9h1.0v1.0h-1.0zM479.9 50.6h1.0v1.0h-1.0zM472.5 52.4h1.0v1.0h-1.0zM468.1 55.1h1.0v1.0h-1.0zM479.3 50.3h1.0v1.0h-1.0zM466.4 47.8h1.0v1.0h-1.0zM465.1 65.0h1.0v1.0h-1.0zM463.1 54.4h1.0v1.0h-1.0zM472.6 59.1h1.0v1.0h-1.0zM478.0 60.3h1.0v1.0h-1.0zM467.6 52.5h1.0v1.0h-1.0zM473.1 50.9h1.0v1.0h-1.0zM467.7 56.2h1.0v1.0h-1.0zM469.0 68.3h1.0v1.0h-1.0zM468.7 58.0h1.0v1.0h-1.0zM465.8 53.9h1.0v1.0h-1.0zM472.4 52.9h1.0v1.0h-1.0zM472.1 54.5h1.0v1.0h-1.0zM476.4 49.1h1.0v1.0h-1.0zM471.7 63.0h1.0v1.0h-1.0zM469.4 59.9h1.0v1.0h-1.0zM471.8 61.6h1.0v1.0h-1.0zM488.7 57.0h1.0v1.0h-1.0zM472.4 53.4h1.0v1.0h-1.0zM467.6 69.2h1.0v1.0h-1.0zM478.1 60.4h1.0v1.0h-1.0zM466.4 73.5h1.0v1.0h-1.0zM479.7 57.9h1.0v1.0h-1.0zM468.8 57.6h1.0v1.0h-1.0zM480.1 56.8h1.0v1.0h-1.0zM467.0 53.0h1.0v1.0h-1.0zM459.8 58.7h1.0v1.0h-1.0zM471.6 64.3h1.0v1.0h-1.0zM472.4 58.5h1.0v1.0h-1.0zM471.4 43.1h1.0v1.0h-1.0zM471.0 57.5h1.0v1.0h-1.0zM476.4 61.1h1.0v1.0h-1.0zM466.1 53.8h1.0v1.0h-1.0zM472.3 64.7h1.0v1.0h-1.0zM467.8 40.9h1.0v1.0h-1.0zM467.3 51.4h1.0v1.0h-1.0zM478.0 61.0h1.0v1.0h-1.0zM463.3 59.5h1.0v1.0h-1.0zM479.2 61.0h1.0v1.0h-1.0zM465.2 65.6h1.0v1.0h-1.0zM474.3 48.9h1.0v1.0h-1.0zM481.7 58.5h1.0v1.0h-1.0zM459.9 54.4h1.0v1.0h-1.0zM470.0 59.2h1.0v1.0h-1.0zM472.7 48.8h1.0v1.0h-1.0zM472.9 61.2h1.0v1.0h-1.0zM469.9 54.0h1.0v1.0h-1.0zM464.7 52.3h1.0v1.0h-1.0zM467.7 53.6h1.0v1.0h-1.0zM468.2 40.7h1.0v1.0h-1.0zM473.3 50.3h1.0v1.0h-1.0zM469.1 47.2h1.0v1.0h-1.0zM470.3 51.9h1.0v1.0h-1.0zM479.3 43.3h1.0v1.0h-1.0zM464.1 53.4h1.0v1.0h-1.0zM464.0 51.4h1.0v1.0h-1.0zM483.8 59.9h1.0v1.0h-1.0zM470.8 59.3h1.0v1.0h-1.0zM473.5 58.6h1.0v1.0h-1.0zM470.8 52.9h1.0v1.0h-1.0zM476.9 62.5h1.0v1.0h-1.0zM470.6 55.9h1.0v1.0h-1.0zM464.8 47.6h1.0v1.0h-1.0zM462.3 51.1h1.0v1.0h-1.0zM478.7 65.3h1.0v1.0h-1.0zM470.0 52.2h1.0v1.0h-1.0zM474.6 61.5h1.0v1.0h-1.0zM466.1 53.6h1.0v1.0h-1.0zM474.1 60.6h1.0v1.0h-1.0zM474.8 63.0h1.0v1.0h-1.0zM472.2 51.7h1.0v1.0h-1.0zM462.6 47.4h1.0v1.0h-1.0zM475.3 67.5h1.0v1.0h-1.0zM475.1 52.7h1.0v1.0h-1.0zM461.6 59.4h1.0v1.0h-1.0zM465.1 52.2h1.0v1.0h-1.0zM478.7 51.7h1.0v1.0h-1.0zM468.3 58.7h1.0v1.0h-1.0zM467.5 60.7h1.0v1.0h-1.0zM479.6 54.9h1.0v1.0h-1.0zM478.5 49.2h1.0v1.0h-1.0zM471.3 52.7h1.0v1.0h-1.0zM457.3 49.7h1.0v1.0h-1.0zM473.9 53.0h1.0v1.0h-1.0zM463.8 58.0h1.0v1.0h-1.0zM466.1 60.5h1.0v1.0h-1.0zM475.3 58.9h1.0v1.0h-1.0zM469.2 54.2h1.0v1.0h-1.0zM479.1 71.5h1.0v1.0h-1.0zM472.3 37.7h1.0v1.0h-1.0zM464.0 43.1h1.0v1.0h-1.0zM478.4 46.0h1.0v1.0h-1.0zM477.6 58.4h1.0v1.0h-1.0zM469.5 65.4h1.0v1.0h-1.0zM469.3 63.5h1.0v1.0h-1.0zM476.7 51.2h1.0v1.0h-1.0zM470.3 63.5h1.0v1.0h-1.0zM458.6 59.3h1.0v1.0h-1.0zM469.3 60.4h1.0v1.0h-1.0zM468.7 51.2h1.0v1.0h-1.0zM459.5 41.8h1.0v1.0h-1.0zM466.2 53.1h1.0v1.0h-1.0zM464.0 55.1h1.0v1.0h-1.0zM471.9 57.9h1.0v1.0h-1.0zM473.2 59.7h1.0v1.0h-1.0zM466.7 57.1h1.0v1.0h-1.0zM470.4 57.7h1.0v1.0h-1.0zM460.8 48.4h1.0v1.0h-1.0zM465.1 47.2h1.0v1.0h-1.0zM468.3 50.0h1.0v1.0h-1.0zM468.9 46.2h1.0v1.0h-1.0zM463.5 50.0h1.0v1.0h-1.0zM465.9 54.8h1.0v1.0h-1.0zM470.5 59.8h1.0v1.0h-1.0zM465.2 52.8h1.0v1.0h-1.0zM469.6 53.8h1.0v1.0h-1.0zM464.1 64.9h1.0v1.0h-1.0zM470.8 64.0h1.0v1.0h-1.0zM466.0 53.9h1.0v1.0h-1.0zM474.6 55.0h1.0v1.0h-1.0zM470.7 50.3h1.0v1.0h-1.0zM479.9 62.7h1.0v1.0h-1.0zM468.6 55.1h1.0v1.0h-1.0zM466.0 58.7h1.0v1.0h-1.0zM470.1 50.9h1.0v1.0h-1.0zM472.3 73.5h1.0v1.0h-1.0zM470.1 50.2h1.0v1.0h-1.0zM467.8 59.9h1.0v1.0h-1.0zM467.0 44.6h1.0v1.0h-1.0zM476.0 44.6h1.0v1.0h-1.0zM461.8 51.3h1.0v1.0h-1.0zM469.9 41.9h1.0v1.0h-1.0zM461.3 54.6h1.0v1.0h-1.0zM467.3 38.0h1.0v1.0h-1.0zM477.6 66.8h1.0v1.0h-1.0zM479.2 56.8h1.0v1.0h-1.0zM465.1 48.9h1.0v1.0h-1.0zM476.9 53.7h1.0v1.0h-1.0zM462.4 59.2h1.0v1.0h-1.0zM475.3 48.3h1.0v1.0h-1.0zM466.2 59.2h1.0v1.0h-1.0zM462.3 55.9h1.0v1.0h-1.0zM468.9 61.3h1.0v1.0h-1.0zM465.5 51.0h1.0v1.0h-1.0zM466.3 65.4h1.0v1.0h-1.0zM473.9 48.2h1.0v1.0h-1.0zM467.2 55.5h1.0v1.0h-1.0zM469.3 58.2h1.0v1.0h-1.0zM464.2 48.7h1.0v1.0h-1.0zM480.3 65.4h1.0v1.0h-1.0zM465.8 66.3h1.0v1.0h-1.0zM477.2 40.1h1.0v1.0h-1.0zM471.9 62.3h1.0v1.0h-1.0zM470.9 54.1h1.0v1.0h-1.0zM476.7 58.7h1.0v1.0h-1.0zM458.6 52.2h1.0v1.0h-1.0zM471.3 45.6h1.0v1.0h-1.0zM476.6 55.8h1.0v1.0h-1.0zM462.4 51.6h1.0v1.0h-1.0zM466.5 58.2h1.0v1.0h-1.0zM466.3 49.8h1.0v1.0h-1.0zM477.7 52.5h1.0v1.0h-1.0zM468.0 53.5h1.0v1.0h-1.0zM466.6 59.0h1.0v1.0h-1.0zM464.0 49.5h1.0v1.0h-1.0zM480.1 43.5h1.0v1.0h-1.0zM464.7 54.0h1.0v1.0h-1.0zM458.0 34.4h1.0v1.0h-1.0zM466.8 61.3h1.0v1.0h-1.0zM471.6 50.6h1.0v1.0h-1.0zM464.3 71.9h1.0v1.0h-1.0zM473.2 47.2h1.0v1.0h-1.0zM478.8 66.4h1.0v1.0h-1.0zM466.7 41.0h1.0v1.0h-1.0zM481.2 55.9h1.0v1.0h-1.0zM467.6 56.0h1.0v1.0h-1.0zM468.8 62.8h1.0v1.0h-1.0zM466.9 53.6h1.0v1.0h-1.0zM473.3 64.7h1.0v1.0h-1.0zM466.4 49.5h1.0v1.0h-1.0zM477.7 55.7h1.0v1.0h-1.0zM475.5 57.6h1.0v1.0h-1.0zM471.3 48.6h1.0v1.0h-1.0zM470.1 53.9h1.0v1.0h-1.0zM466.9 67.2h1.0v1.0h-1.0zM463.7 47.4h1.0v1.0h-1.0zM472.3 63.2h1.0v1.0h-1.0zM466.4 51.7h1.0v1.0h-1.0zM466.4 46.4h1.0v1.0h-1.0zM477.1 55.8h1.0v1.0h-1.0zM468.1 56.0h1.0v1.0h-1.0zM475.2 66.0h1.0v1.0h-1.0zM472.2 57.0h1.0v1.0h-1.0zM473.3 63.1h1.0v1.0h-1.0zM473.5 46.0h1.0v1.0h-1.0zM470.9 52.2h1.0v1.0h-1.0zM479.2 57.4h1.0v1.0h-1.0zM466.7 64.3h1.0v1.0h-1.0zM468.4 57.7h1.0v1.0h-1.0zM470.1 57.8h1.0v1.0h-1.0zM476.0 50.2h1.0v1.0h-1.0zM467.0 60.4h1.0v1.0h-1.0zM469.0 55.9h1.0v1.0h-1.0zM475.6 49.4h1.0v1.0h-1.0zM475.7 53.7h1.0v1.0h-1.0zM467.4 50.0h1.0v1.0h-1.0zM481.9 61.7h1.0v1.0h-1.0zM473.1 50.0h1.0v1.0h-1.0zM478.0 48.1h1.0v1.0h-1.0zM468.0 63.5h1.0v1.0h-1.0zM476.2 53.6h1.0v1.0h-1.0zM474.0 53.6h1.0v1.0h-1.0zM463.9 60.7h1.0v1.0h-1.0zM471.1 60.9h1.0v1.0h-1.0zM474.5 49.4h1.0v1.0h-1.0zM471.3 49.4h1.0v1.0h-1.0zM472.6 61.2h1.0v1.0h-1.0zM475.7 73.9h1.0v1.0h-1.0zM468.6 63.3h1.0v1.0h-1.0zM475.1 61.6h1.0v1.0h-1.0zM466.3 58.6h1.0v1.0h-1.0zM472.7 56.5h1.0v1.0h-1.0zM472.5 48.9h1.0v1.0h-1.0zM470.4 59.4h1.0v1.0h-1.0zM469.5 59.7h1.0v1.0h-1.0zM477.8 58.5h1.0v1.0h-1.0zM468.7 57.8h1.0v1.0h-1.0zM469.7 51.2h1.0v1.0h-1.0zM469.1 68.2h1.0v1.0h-1.0zM474.2 61.1h1.0v1.0h-1.0zM475.2 44.1h1.0v1.0h-1.0zM472.9 60.9h1.0v1.0h-1.0zM469.4 47.2h1.0v1.0h-1.0zM473.7 53.9h1.0v1.0h-1.0zM476.2 53.1h1.0v1.0h-1.0zM471.1 62.7h1.0v1.0h-1.0zM475.8 64.2h1.0v1.0h-1.0zM469.5 70.2h1.0v1.0h-1.0zM466.1 49.9h1.0v1.0h-1.0zM470.5 64.7h1.0v1.0h-1.0zM472.8 69.7h1.0v1.0h-1.0zM474.8 61.7h1.0v1.0h-1.0zM466.3 52.1h1.0v1.0h-1.0zM471.0 47.4h1.0v1.0h-1.0zM466.6 45.7h1.0v1.0h-1.0zM468.4 60.9h1.0v1.0h-1.0zM473.1 57.5h1.0v1.0h-1.0zM473.0 49.8h1.0v1.0h-1.0zM469.0 51.2h1.0v1.0h-1.0zM465.7 50.8h1.0v1.0h-1.0zM465.9 53.5h1.0v1.0h-1.0zM474.4 58.0h1.0v1.0h-1.0zM470.7 58.4h1.0v1.0h-1.0zM469.4 48.4h1.0v1.0h-1.0zM461.0 61.7h1.0v1.0h-1.0zM472.0 39.7h1.0v1.0h-1.0zM472.1 51.9h1.0v1.0h-1.0zM470.1 56.2h1.0v1.0h-1.0zM467.0 43.9h1.0v1.0h-1.0zM467.1 60.0h1.0v1.0h-1.0zM465.9 43.9h1.0v1.0h-1.0zM470.4 68.9h1.0v1.0h-1.0zM465.9 61.9h1.0v1.0h-1.0zM471.4 58.1h1.0v1.0h-1.0zM477.5 49.8h1.0v1.0h-1.0zM470.0 52.4h1.0v1.0h-1.0zM473.3 56.2h1.0v1.0h-1.0zM471.7 60.8h1.0v1.0h-1.0zM469.2 55.7h1.0v1.0h-1.0zM467.5 63.7h1.0v1.0h-1.0zM474.6 68.2h1.0v1.0h-1.0zM462.8 47.9h1.0v1.0h-1.0zM470.1 62.4h1.0v1.0h-1.0zM468.4 47.8h1.0v1.0h-1.0zM480.2 56.7h1.0v1.0h-1.0zM471.0 48.6h1.0v1.0h-1.0zM480.1 60.5h1.0v1.0h-1.0zM469.0 52.8h1.0v1.0h-1.0zM470.4 58.1h1.0v1.0h-1.0zM471.2 49.8h1.0v1.0h-1.0zM477.7 49.8h1.0v1.0h-1.0zM477.2 61.9h1.0v1.0h-1.0zM463.5 60.7h1.0v1.0h-1.0zM472.3 49.6h1.0v1.0h-1.0zM480.9 66.4h1.0v1.0h-1.0zM459.6 60.1h1.0v1.0h-1.0zM467.2 42.5h1.0v1.0h-1.0zM473.8 46.1h1.0v1.0h-1.0zM468.6 54.9h1.0v1.0h-1.0zM468.5 46.7h1.0v1.0h-1.0zM458.4 50.7h1.0v1.0h-1.0zM476.4 64.9h1.0v1.0h-1.0zM478.1 59.3h1.0v1.0h-1.0zM471.7 49.4h1.0v1.0h-1.0zM457.1 46.0h1.0v1.0h-1.0zM466.1 46.5h1.0v1.0h-1.0zM470.3 57.1h1.0v1.0h-1.0zM466.9 59.7h1.0v1.0h-1.0zM471.6 60.9h1.0v1.0h-1.0zM475.6 64.4h1.0v1.0h-1.0zM468.5 49.3h1.0v1.0h-1.0zM470.6 63.5h1.0v1.0h-1.0zM458.8 57.9h1.0v1.0h-1.0zM467.7 59.0h1.0v1.0h-1.0zM472.5 52.2h1.0v1.0h-1.0zM466.0 51.0h1.0v1.0h-1.0zM472.9 46.5h1.0v1.0h-1.0zM470.5 50.0h1.0v1.0h-1.0zM466.8 45.1h1.0v1.0h-1.0zM461.7 55.7h1.0v1.0h-1.0zM471.6 51.6h1.0v1.0h-1.0zM469.1 61.0h1.0v1.0h-1.0zM470.8 57.1h1.0v1.0h-1.0zM469.6 59.2h1.0v1.0h-1.0zM468.6 46.4h1.0v1.0h-1.0zM473.8 59.5h1.0v1.0h-1.0zM465.5 54.8h1.0v1.0h-1.0zM471.3 57.2h1.0v1.0h-1.0zM486.4 59.6h1.0v1.0h-1.0zM470.3 51.4h1.0v1.0h-1.0zM467.3 33.5h1.0v1.0h-1.0zM468.0 52.6h1.0v1.0h-1.0zM464.8 53.9h1.0v1.0h-1.0zM472.7 63.6h1.0v1.0h-1.0zM482.0 57.9h1.0v1.0h-1.0zM465.8 45.3h1.0v1.0h-1.0zM477.2 51.7h1.0v1.0h-1.0zM470.3 60.1h1.0v1.0h-1.0zM471.1 56.0h1.0v1.0h-1.0zM471.8 40.8h1.0v1.0h-1.0zM469.3 58.8h1.0v1.0h-1.0zM463.8 42.2h1.0v1.0h-1.0zM473.1 53.1h1.0v1.0h-1.0zM472.4 41.3h1.0v1.0h-1.0zM470.1 47.9h1.0v1.0h-1.0zM474.2 68.0h1.0v1.0h-1.0zM468.2 60.5h1.0v1.0h-1.0zM465.6 51.2h1.0v1.0h-1.0zM472.2 50.1h1.0v1.0h-1.0zM476.8 58.4h1.0v1.0h-1.0zM463.6 43.2h1.0v1.0h-1.0zM467.2 38.4h1.0v1.0h-1.0zM476.0 52.8h1.0v1.0h-1.0zM467.3 53.9h1.0v1.0h-1.0zM468.2 63.4h1.0v1.0h-1.0zM477.2 61.5h1.0v1.0h-1.0zM473.2 62.0h1.0v1.0h-1.0zM472.5 54.4h1.0v1.0h-1.0zM475.7 57.7h1.0v1.0h-1.0zM473.3 66.2h1.0v1.0h-1.0zM480.3 56.9h1.0v1.0h-1.0zM475.9 45.4h1.0v1.0h-1.0zM466.5 56.4h1.0v1.0h-1.0zM467.0 46.2h1.0v1.0h-1.0zM466.1 56.8h1.0v1.0h-1.0zM463.2 57.1h1.0v1.0h-1.0zM475.5 41.4h1.0v1.0h-1.0zM472.5 60.3h1.0v1.0h-1.0zM464.0 56.5h1.0v1.0h-1.0zM468.3 58.1h1.0v1.0h-1.0zM474.3 58.7h1.0v1.0h-1.0zM456.9 56.5h1.0v1.0h-1.0zM479.0 48.3h1.0v1.0h-1.0zM483.4 54.3h1.0v1.0h-1.0zM463.4 43.7h1.0v1.0h-1.0zM477.6 60.2h1.0v1.0h-1.0zM466.9 49.8h1.0v1.0h-1.0zM458.7 44.1h1.0v1.0h-1.0zM462.8 54.2h1.0v1.0h-1.0zM468.8 60.7h1.0v1.0h-1.0zM471.2 53.5h1.0v1.0h-1.0zM473.2 65.5h1.0v1.0h-1.0zM468.2 55.1h1.0v1.0h-1.0zM467.6 47.9h1.0v1.0h-1.0zM465.6 49.7h1.0v1.0h-1.0zM463.7 51.3h1.0v1.0h-1.0zM468.3 56.3h1.0v1.0h-1.0zM474.9 69.6h1.0v1.0h-1.0zM467.9 52.9h1.0v1.0h-1.0zM472.9 50.7h1.0v1.0h-1.0zM475.6 60.8h1.0v1.0h-1.0zM470.2 63.1h1.0v1.0h-1.0zM466.8 52.0h1.0v1.0h-1.0zM468.0 52.4h1.0v1.0h-1.0zM463.4 52.2h1.0v1.0h-1.0zM475.0 59.2h1.0v1.0h-1.0zM475.3 59.1h1.0v1.0h-1.0zM474.6 48.3h1.0v1.0h-1.0zM468.4 41.9h1.0v1.0h-1.0zM482.3 72.0h1.0v1.0h-1.0zM469.9 51.0h1.0v1.0h-1.0zM472.8 48.6h1.0v1.0h-1.0zM476.6 72.4h1.0v1.0h-1.0zM462.0 47.8h1.0v1.0h-1.0zM476.2 65.5h1.0v1.0h-1.0zM473.9 57.2h1.0v1.0h-1.0zM469.7 55.3h1.0v1.0h-1.0zM467.3 51.0h1.0v1.0h-1.0zM467.8 65.0h1.0v1.0h-1.0zM460.6 59.4h1.0v1.0h-1.0zM462.7 42.5h1.0v1.0h-1.0zM459.6 45.8h1.0v1.0h-1.0zM472.5 51.7h1.0v1.0h-1.0zM470.2 47.7h1.0v1.0h-1.0zM471.0 43.5h1.0v1.0h-1.0zM471.5 51.4h1.0v1.0h-1.0zM464.4 61.9h1.0v1.0h-1.0zM478.2 52.4h1.0v1.0h-1.0zM477.1 58.7h1.0v1.0h-1.0zM475.6 61.1h1.0v1.0h-1.0zM471.1 51.2h1.0v1.0h-1.0zM477.3 51.0h1.0v1.0h-1.0zM470.2 59.3h1.0v1.0h-1.0zM460.9 57.1h1.0v1.0h-1.0zM468.1 52.2h1.0v1.0h-1.0zM472.8 55.5h1.0v1.0h-1.0zM471.3 50.2h1.0v1.0h-1.0zM466.2 51.6h1.0v1.0h-1.0zM468.3 47.4h1.0v1.0h-1.0zM476.8 67.8h1.0v1.0h-1.0zM462.6 50.1h1.0v1.0h-1.0zM474.8 38.6h1.0v1.0h-1.0zM475.0 56.1h1.0v1.0h-1.0zM473.9 62.4h1.0v1.0h-1.0zM476.8 46.4h1.0v1.0h-1.0zM473.5 56.2h1.0v1.0h-1.0zM473.6 45.0h1.0v1.0h-1.0zM465.7 58.8h1.0v1.0h-1.0zM475.8 67.7h1.0v1.0h-1.0zM462.0 62.1h1.0v1.0h-1.0zM468.7 52.3h1.0v1.0h-1.0zM468.6 58.7h1.0v1.0h-1.0zM475.8 49.6h1.0v1.0h-1.0zM473.4 56.4h1.0v1.0h-1.0zM466.5 60.1h1.0v1.0h-1.0zM465.7 50.1h1.0v1.0h-1.0zM470.0 55.1h1.0v1.0h-1.0zM466.2 50.4h1.0v1.0h-1.0zM476.0 56.8h1.0v1.0h-1.0zM471.9 54.6h1.0v1.0h-1.0zM475.0 64.3h1.0v1.0h-1.0zM469.7 60.2h1.0v1.0h-1.0zM466.2 53.6h1.0v1.0h-1.0zM464.5 49.4h1.0v1.0h-1.0zM485.9 51.7h1.0v1.0h-1.0zM476.8 57.9h1.0v1.0h-1.0zM471.7 39.9h1.0v1.0h-1.0zM471.4 44.4h1.0v1.0h-1.0zM467.0 48.5h1.0v1.0h-1.0zM468.5 67.1h1.0v1.0h-1.0zM478.9 43.8h1.0v1.0h-1.0zM468.4 48.4h1.0v1.0h-1.0zM471.0 42.5h1.0v1.0h-1.0zM462.9 52.3h1.0v1.0h-1.0zM466.4 61.2h1.0v1.0h-1.0zM468.8 55.6h1.0v1.0h-1.0zM467.9 59.6h1.0v1.0h-1.0zM476.2 55.2h1.0v1.0h-1.0zM467.7 58.0h1.0v1.0h-1.0zM470.8 61.4h1.0v1.0h-1.0zM470.7 55.3h1.0v1.0h-1.0zM474.2 49.4h1.0v1.0h-1.0zM463.9 56.4h1.0v1.0h-1.0zM469.3 58.5h1.0v1.0h-1.0zM474.3 57.9h1.0v1.0h-1.0zM467.3 65.0h1.0v1.0h-1.0zM458.7 46.5h1.0v1.0h-1.0zM464.0 67.2h1.0v1.0h-1.0zM468.5 52.6h1.0v1.0h-1.0zM473.3 64.0h1.0v1.0h-1.0zM475.2 55.0h1.0v1.0h-1.0zM471.1 46.9h1.0v1.0h-1.0zM471.6 52.7h1.0v1.0h-1.0zM459.2 53.6h1.0v1.0h-1.0zM469.7 60.0h1.0v1.0h-1.0zM473.4 55.8h1.0v1.0h-1.0zM469.4 65.8h1.0v1.0h-1.0zM471.3 62.1h1.0v1.0h-1.0zM472.5 64.6h1.0v1.0h-1.0zM475.2 47.5h1.0v1.0h-1.0zM473.1 66.5h1.0v1.0h-1.0zM477.2 53.7h1.0v1.0h-1.0zM478.6 62.8h1.0v1.0h-1.0zM473.7 50.5h1.0v1.0h-1.0zM472.5 58.6h1.0v1.0h-1.0zM460.0 48.8h1.0v1.0h-1.0zM462.8 39.9h1.0v1.0h-1.0zM471.4 61.1h1.0v1.0h-1.0zM470.3 43.8h1.0v1.0h-1.0zM463.8 59.4h1.0v1.0h-1.0zM469.4 56.5h1.0v1.0h-1.0zM468.9 55.4h1.0v1.0h-1.0zM467.0 49.0h1.0v1.0h-1.0zM463.3 53.3h1.0v1.0h-1.0zM470.0 62.7h1.0v1.0h-1.0zM482.1 58.5h1.0v1.0h-1.0zM456.1 42.8h1.0v1.0h-1.0zM477.0 59.5h1.0v1.0h-1.0zM469.5 47.8h1.0v1.0h-1.0zM472.8 57.4h1.0v1.0h-1.0zM475.8 65.6h1.0v1.0h-1.0zM478.4 63.5h1.0v1.0h-1.0zM464.6 57.5h1.0v1.0h-1.0zM464.7 48.3h1.0v1.0h-1.0zM466.4 45.3h1.0v1.0h-1.0zM466.1 64.3h1.0v1.0h-1.0zM469.9 66.1h1.0v1.0h-1.0zM471.1 41.9h1.0v1.0h-1.0zM467.0 65.7h1.0v1.0h-1.0zM476.0 54.6h1.0v1.0h-1.0zM469.2 63.1h1.0v1.0h-1.0zM472.9 53.6h1.0v1.0h-1.0zM476.2 56.3h1.0v1.0h-1.0zM465.3 42.8h1.0v1.0h-1.0zM460.1 69.3h1.0v1.0h-1.0zM471.5 67.1h1.0v1.0h-1.0zM471.3 55.7h1.0v1.0h-1.0zM471.5 56.7h1.0v1.0h-1.0zM463.7 53.0h1.0v1.0h-1.0zM475.4 71.6h1.0v1.0h-1.0zM468.3 57.2h1.0v1.0h-1.0zM474.0 66.2h1.0v1.0h-1.0zM473.0 53.0h1.0v1.0h-1.0zM479.2 58.8h1.0v1.0h-1.0zM471.0 75.7h1.0v1.0h-1.0zM462.9 53.0h1.0v1.0h-1.0zM465.1 64.4h1.0v1.0h-1.0zM465.8 55.2h1.0v1.0h-1.0zM472.3 52.9h1.0v1.0h-1.0zM470.1 51.7h1.0v1.0h-1.0zM467.1 47.9h1.0v1.0h-1.0zM471.5 52.8h1.0v1.0h-1.0zM465.4 50.4h1.0v1.0h-1.0zM481.2 48.2h1.0v1.0h-1.0zM467.7 50.2h1.0v1.0h-1.0zM470.3 60.3h1.0v1.0h-1.0zM466.8 55.9h1.0v1.0h-1.0zM472.8 67.0h1.0v1.0h-1.0zM467.6 49.0h1.0v1.0h-1.0zM473.9 55.1h1.0v1.0h-1.0zM467.5 52.1h1.0v1.0h-1.0zM477.1 44.6h1.0v1.0h-1.0zM469.4 66.6h1.0v1.0h-1.0zM472.2 49.5h1.0v1.0h-1.0zM467.4 61.3h1.0v1.0h-1.0zM472.7 52.2h1.0v1.0h-1.0zM467.4 44.8h1.0v1.0h-1.0zM463.8 55.9h1.0v1.0h-1.0zM472.9 51.7h1.0v1.0h-1.0zM474.0 50.6h1.0v1.0h-1.0zM472.2 40.4h1.0v1.0h-1.0zM474.6 68.9h1.0v1.0h-1.0zM474.7 55.2h1.0v1.0h-1.0zM472.8 55.6h1.0v1.0h-1.0zM471.0 54.5h1.0v1.0h-1.0zM472.8 52.8h1.0v1.0h-1.0zM470.1 51.1h1.0v1.0h-1.0zM474.2 65.1h1.0v1.0h-1.0zM474.3 59.0h1.0v1.0h-1.0zM477.5 50.3h1.0v1.0h-1.0zM481.0 42.8h1.0v1.0h-1.0zM474.0 56.4h1.0v1.0h-1.0zM472.4 44.0h1.0v1.0h-1.0zM476.3 57.9h1.0v1.0h-1.0zM470.9 62.5h1.0v1.0h-1.0zM471.1 55.6h1.0v1.0h-1.0zM474.8 55.1h1.0v1.0h-1.0zM472.2 52.3h1.0v1.0h-1.0zM467.5 54.2h1.0v1.0h-1.0zM467.4 55.9h1.0v1.0h-1.0zM469.1 50.4h1.0v1.0h-1.0zM469.8 45.7h1.0v1.0h-1.0zM474.0 59.8h1.0v1.0h-1.0zM458.7 52.4h1.0v1.0h-1.0zM468.2 58.2h1.0v1.0h-1.0zM480.9 53.7h1.0v1.0h-1.0zM469.8 48.5h1.0v1.0h-1.0zM472.1 60.1h1.0v1.0h-1.0zM471.7 55.7h1.0v1.0h-1.0zM465.0 52.9h1.0v1.0h-1.0zM465.7 51.0h1.0v1.0h-1.0zM478.2 57.0h1.0v1.0h-1.0zM466.6 46.1h1.0v1.0h-1.0zM478.7 50.7h1.0v1.0h-1.0zM496.1 51.9h1.0v1.0h-1.0zM485.0 48.1h1.0v1.0h-1.0zM483.8 57.7h1.0v1.0h-1.0zM490.9 52.2h1.0v1.0h-1.0zM482.1 56.4h1.0v1.0h-1.0zM497.1 67.0h1.0v1.0h-1.0zM492.8 53.2h1.0v1.0h-1.0zM489.4 51.3h1.0v1.0h-1.0zM482.3 49.9h1.0v1.0h-1.0zM486.2 56.3h1.0v1.0h-1.0zM493.2 59.4h1.0v1.0h-1.0zM488.3 42.3h1.0v1.0h-1.0zM493.3 55.4h1.0v1.0h-1.0zM482.8 59.4h1.0v1.0h-1.0zM481.8 51.7h1.0v1.0h-1.0zM486.2 53.0h1.0v1.0h-1.0zM485.8 43.2h1.0v1.0h-1.0zM479.3 52.6h1.0v1.0h-1.0zM489.7 52.9h1.0v1.0h-1.0zM480.3 47.0h1.0v1.0h-1.0zM480.3 58.4h1.0v1.0h-1.0zM481.2 56.8h1.0v1.0h-1.0zM480.3 48.1h1.0v1.0h-1.0zM482.9 59.3h1.0v1.0h-1.0zM482.6 52.0h1.0v1.0h-1.0zM483.0 50.5h1.0v1.0h-1.0zM490.8 49.9h1.0v1.0h-1.0zM484.9 47.0h1.0v1.0h-1.0zM482.5 53.5h1.0v1.0h-1.0zM493.2 61.9h1.0v1.0h-1.0zM480.0 51.9h1.0v1.0h-1.0zM477.0 51.4h1.0v1.0h-1.0zM486.2 56.1h1.0v1.0h-1.0zM488.4 48.0h1.0v1.0h-1.0zM480.0 45.8h1.0v1.0h-1.0zM493.9 46.8h1.0v1.0h-1.0zM490.7 54.3h1.0v1.0h-1.0zM490.6 45.0h1.0v1.0h-1.0zM488.1 55.0h1.0v1.0h-1.0zM486.0 55.3h1.0v1.0h-1.0zM480.4 60.1h1.0v1.0h-1.0zM480.6 52.3h1.0v1.0h-1.0zM490.3 55.6h1.0v1.0h-1.0zM493.7 52.9h1.0v1.0h-1.0zM480.6 54.8h1.0v1.0h-1.0zM488.5 45.0h1.0v1.0h-1.0zM490.4 59.1h1.0v1.0h-1.0zM481.9 57.5h1.0v1.0h-1.0zM486.4 57.8h1.0v1.0h-1.0zM483.4 57.1h1.0v1.0h-1.0zM489.3 53.4h1.0v1.0h-1.0zM484.4 52.3h1.0v1.0h-1.0zM489.5 60.2h1.0v1.0h-1.0zM485.3 57.4h1.0v1.0h-1.0zM486.5 62.5h1.0v1.0h-1.0zM492.0 56.9h1.0v1.0h-1.0zM488.1 50.4h1.0v1.0h-1.0zM478.1 57.1h1.0v1.0h-1.0zM482.4 49.7h1.0v1.0h-1.0zM491.2 54.5h1.0v1.0h-1.0zM480.7 58.9h1.0v1.0h-1.0zM484.6 57.9h1.0v1.0h-1.0zM480.6 45.7h1.0v1.0h-1.0zM483.0 56.9h1.0v1.0h-1.0zM476.0 47.6h1.0v1.0h-1.0zM490.8 65.4h1.0v1.0h-1.0zM484.9 48.3h1.0v1.0h-1.0zM483.7 49.1h1.0v1.0h-1.0zM493.6 56.6h1.0v1.0h-1.0zM481.6 57.2h1.0v1.0h-1.0zM475.2 53.2h1.0v1.0h-1.0zM486.1 51.9h1.0v1.0h-1.0zM481.3 49.9h1.0v1.0h-1.0zM476.7 55.3h1.0v1.0h-1.0zM481.1 55.9h1.0v1.0h-1.0zM490.2 49.6h1.0v1.0h-1.0zM480.0 53.3h1.0v1.0h-1.0zM489.4 46.4h1.0v1.0h-1.0zM485.7 47.9h1.0v1.0h-1.0zM493.3 54.9h1.0v1.0h-1.0zM477.9 50.2h1.0v1.0h-1.0zM486.3 50.5h1.0v1.0h-1.0zM486.4 55.0h1.0v1.0h-1.0zM487.0 50.9h1.0v1.0h-1.0zM493.1 57.4h1.0v1.0h-1.0zM484.5 52.3h1.0v1.0h-1.0zM482.7 45.9h1.0v1.0h-1.0zM484.3 53.2h1.0v1.0h-1.0zM484.1 48.2h1.0v1.0h-1.0zM470.7 44.1h1.0v1.0h-1.0zM490.1 43.7h1.0v1.0h-1.0zM488.8 56.6h1.0v1.0h-1.0zM485.5 52.9h1.0v1.0h-1.0zM490.0 52.7h1.0v1.0h-1.0zM485.7 57.3h1.0v1.0h-1.0zM485.7 62.9h1.0v1.0h-1.0zM480.4 50.9h1.0v1.0h-1.0zM484.6 53.8h1.0v1.0h-1.0zM482.6 62.5h1.0v1.0h-1.0zM489.2 43.7h1.0v1.0h-1.0zM485.9 56.4h1.0v1.0h-1.0zM491.9 55.0h1.0v1.0h-1.0zM482.1 57.0h1.0v1.0h-1.0zM479.4 53.5h1.0v1.0h-1.0zM480.0 59.7h1.0v1.0h-1.0zM489.4 63.7h1.0v1.0h-1.0zM484.5 52.4h1.0v1.0h-1.0zM483.6 58.7h1.0v1.0h-1.0zM480.6 56.5h1.0v1.0h-1.0zM484.2 56.6h1.0v1.0h-1.0zM487.2 49.0h1.0v1.0h-1.0zM483.8 44.3h1.0v1.0h-1.0zM481.4 50.0h1.0v1.0h-1.0zM491.0 50.8h1.0v1.0h-1.0zM487.2 51.8h1.0v1.0h-1.0zM479.5 55.9h1.0v1.0h-1.0zM495.5 56.0h1.0v1.0h-1.0zM492.1 55.9h1.0v1.0h-1.0zM490.8 63.2h1.0v1.0h-1.0zM477.7 49.6h1.0v1.0h-1.0zM478.5 53.1h1.0v1.0h-1.0zM484.1 49.3h1.0v1.0h-1.0zM488.3 62.3h1.0v1.0h-1.0zM492.8 61.9h1.0v1.0h-1.0zM486.6 55.2h1.0v1.0h-1.0zM493.2 57.9h1.0v1.0h-1.0zM490.9 51.4h1.0v1.0h-1.0zM483.9 49.8h1.0v1.0h-1.0zM492.3 48.8h1.0v1.0h-1.0zM483.2 74.6h1.0v1.0h-1.0zM481.4 69.7h1.0v1.0h-1.0zM484.6 67.6h1.0v1.0h-1.0zM482.9 82.4h1.0v1.0h-1.0zM478.8 79.6h1.0v1.0h-1.0zM489.5 88.9h1.0v1.0h-1.0zM476.8 83.0h1.0v1.0h-1.0zM488.2 85.6h1.0v1.0h-1.0zM487.9 73.4h1.0v1.0h-1.0zM487.7 75.8h1.0v1.0h-1.0zM479.3 66.7h1.0v1.0h-1.0zM479.4 70.0h1.0v1.0h-1.0zM472.6 71.0h1.0v1.0h-1.0zM473.8 73.6h1.0v1.0h-1.0zM490.5 84.8h1.0v1.0h-1.0zM491.8 87.9h1.0v1.0h-1.0zM496.2 77.2h1.0v1.0h-1.0zM477.1 69.0h1.0v1.0h-1.0zM476.2 80.1h1.0v1.0h-1.0zM468.2 66.9h1.0v1.0h-1.0zM487.8 79.2h1.0v1.0h-1.0zM487.3 66.4h1.0v1.0h-1.0zM479.5 70.2h1.0v1.0h-1.0zM485.0 77.9h1.0v1.0h-1.0zM491.1 66.5h1.0v1.0h-1.0zM483.9 90.0h1.0v1.0h-1.0zM489.9 77.3h1.0v1.0h-1.0zM487.4 72.7h1.0v1.0h-1.0zM490.2 71.5h1.0v1.0h-1.0zM487.1 76.2h1.0v1.0h-1.0zM477.7 72.1h1.0v1.0h-1.0zM481.8 67.1h1.0v1.0h-1.0zM483.2 66.2h1.0v1.0h-1.0zM489.0 78.9h1.0v1.0h-1.0zM488.3 80.0h1.0v1.0h-1.0zM483.9 62.8h1.0v1.0h-1.0zM480.5 71.9h1.0v1.0h-1.0zM479.3 70.6h1.0v1.0h-1.0zM480.1 68.0h1.0v1.0h-1.0zM477.1 66.7h1.0v1.0h-1.0zM475.8 77.5h1.0v1.0h-1.0zM483.9 76.7h1.0v1.0h-1.0zM487.0 71.6h1.0v1.0h-1.0zM488.7 61.7h1.0v1.0h-1.0zM478.6 71.2h1.0v1.0h-1.0zM492.2 84.8h1.0v1.0h-1.0zM487.2 80.1h1.0v1.0h-1.0zM479.1 70.0h1.0v1.0h-1.0zM478.5 71.5h1.0v1.0h-1.0zM475.0 67.2h1.0v1.0h-1.0zM479.3 74.7h1.0v1.0h-1.0zM478.7 73.6h1.0v1.0h-1.0zM485.1 77.3h1.0v1.0h-1.0zM486.9 67.5h1.0v1.0h-1.0zM482.8 71.5h1.0v1.0h-1.0zM488.5 71.5h1.0v1.0h-1.0zM484.0 63.2h1.0v1.0h-1.0zM480.4 66.2h1.0v1.0h-1.0zM482.0 67.6h1.0v1.0h-1.0zM481.9 73.9h1.0v1.0h-1.0zM476.3 75.5h1.0v1.0h-1.0zM478.7 86.2h1.0v1.0h-1.0zM488.8 79.8h1.0v1.0h-1.0zM482.8 82.5h1.0v1.0h-1.0zM484.0 61.1h1.0v1.0h-1.0zM486.2 75.8h1.0v1.0h-1.0zM468.1 53.7h1.0v1.0h-1.0zM490.0 77.9h1.0v1.0h-1.0zM478.1 57.3h1.0v1.0h-1.0zM476.0 81.3h1.0v1.0h-1.0zM468.9 70.8h1.0v1.0h-1.0zM496.2 78.9h1.0v1.0h-1.0zM476.8 74.0h1.0v1.0h-1.0zM485.8 76.5h1.0v1.0h-1.0zM481.1 60.2h1.0v1.0h-1.0zM485.2 79.0h1.0v1.0h-1.0zM484.5 76.9h1.0v1.0h-1.0zM483.0 79.1h1.0v1.0h-1.0zM502.4 76.2h1.0v1.0h-1.0zM483.8 64.3h1.0v1.0h-1.0zM471.6 68.1h1.0v1.0h-1.0zM490.4 68.4h1.0v1.0h-1.0zM479.4 67.1h1.0v1.0h-1.0zM473.8 58.3h1.0v1.0h-1.0zM482.6 69.0h1.0v1.0h-1.0zM480.9 64.6h1.0v1.0h-1.0zM490.2 92.2h1.0v1.0h-1.0zM477.4 59.0h1.0v1.0h-1.0zM489.5 85.7h1.0v1.0h-1.0zM494.0 70.4h1.0v1.0h-1.0zM481.6 57.4h1.0v1.0h-1.0zM484.6 63.4h1.0v1.0h-1.0zM471.7 73.5h1.0v1.0h-1.0zM484.6 58.0h1.0v1.0h-1.0zM477.4 88.7h1.0v1.0h-1.0zM467.8 62.7h1.0v1.0h-1.0zM493.8 90.1h1.0v1.0h-1.0zM483.1 66.8h1.0v1.0h-1.0zM484.3 68.2h1.0v1.0h-1.0zM484.1 80.9h1.0v1.0h-1.0zM482.6 81.1h1.0v1.0h-1.0zM489.6 68.7h1.0v1.0h-1.0zM480.5 64.0h1.0v1.0h-1.0zM484.2 59.6h1.0v1.0h-1.0zM476.1 53.1h1.0v1.0h-1.0zM484.8 66.2h1.0v1.0h-1.0zM489.4 80.8h1.0v1.0h-1.0zM484.8 67.2h1.0v1.0h-1.0zM472.6 60.1h1.0v1.0h-1.0zM482.2 71.4h1.0v1.0h-1.0zM480.9 71.7h1.0v1.0h-1.0zM490.4 84.3h1.0v1.0h-1.0zM474.9 74.2h1.0v1.0h-1.0zM476.8 71.7h1.0v1.0h-1.0zM483.3 79.5h1.0v1.0h-1.0zM486.7 65.1h1.0v1.0h-1.0zM481.3 74.9h1.0v1.0h-1.0zM480.8 83.3h1.0v1.0h-1.0zM473.8 72.7h1.0v1.0h-1.0zM483.1 68.8h1.0v1.0h-1.0zM481.3 69.7h1.0v1.0h-1.0zM483.7 68.3h1.0v1.0h-1.0zM480.0 90.2h1.0v1.0h-1.0zM479.2 75.0h1.0v1.0h-1.0zM488.3 67.9h1.0v1.0h-1.0zM486.7 69.2h1.0v1.0h-1.0zM467.0 66.0h1.0v1.0h-1.0zM464.1 63.9h1.0v1.0h-1.0zM486.2 87.0h1.0v1.0h-1.0zM485.8 81.5h1.0v1.0h-1.0zM475.0 71.1h1.0v1.0h-1.0zM508.1 80.9h1.0v1.0h-1.0zM503.3 73.8h1.0v1.0h-1.0zM487.3 68.5h1.0v1.0h-1.0zM493.0 78.2h1.0v1.0h-1.0zM498.3 67.7h1.0v1.0h-1.0zM496.8 80.5h1.0v1.0h-1.0zM508.5 77.7h1.0v1.0h-1.0zM498.1 87.1h1.0v1.0h-1.0zM488.2 83.3h1.0v1.0h-1.0zM492.4 77.7h1.0v1.0h-1.0zM509.2 67.0h1.0v1.0h-1.0zM504.2 88.9h1.0v1.0h-1.0zM494.5 80.7h1.0v1.0h-1.0zM500.5 91.2h1.0v1.0h-1.0zM476.2 76.4h1.0v1.0h-1.0zM479.8 98.4h1.0v1.0h-1.0zM506.2 70.1h1.0v1.0h-1.0zM495.6 85.2h1.0v1.0h-1.0zM476.6 78.7h1.0v1.0h-1.0zM501.2 87.5h1.0v1.0h-1.0zM484.8 91.7h1.0v1.0h-1.0zM485.2 84.1h1.0v1.0h-1.0zM489.7 99.2h1.0v1.0h-1.0zM497.7 93.2h1.0v1.0h-1.0zM498.7 78.3h1.0v1.0h-1.0zM468.3 79.7h1.0v1.0h-1.0zM456.1 49.4h1.0v1.0h-1.0zM432.3 70.3h1.0v1.0h-1.0zM462.2 85.6h1.0v1.0h-1.0zM440.6 39.8h1.0v1.0h-1.0zM448.2 91.4h1.0v1.0h-1.0zM432.3 81.7h1.0v1.0h-1.0zM432.7 51.8h1.0v1.0h-1.0z" fill="#1a1a1a"/>
<rect x="283.8" y="138.9" width="98.30000000000001" height="88.19999999999999" fill="none" stroke="#000" stroke-width="1.4"/>
<line x1="346.70" y1="138.90" x2="346.70" y2="227.10" stroke="#000" stroke-width="1.5"/>
<line x1="283.80" y1="187.00" x2="382.10" y2="187.00" stroke="#000" stroke-width="1.5"/>
<path d="M283.80 227.1v3.2M283.8 227.10h-3.2M291.20 227.1v1.8M283.8 220.46h-1.8M295.53 227.1v1.8M283.8 216.58h-1.8M298.60 227.1v1.8M283.8 213.82h-1.8M300.98 227.1v1.8M283.8 211.69h-1.8M302.92 227.1v1.8M283.8 209.94h-1.8M304.57 227.1v1.8M283.8 208.47h-1.8M305.99 227.1v1.8M283.8 207.19h-1.8M307.25 227.1v1.8M283.8 206.06h-1.8M308.38 227.1v3.2M283.8 205.05h-3.2M315.77 227.1v1.8M283.8 198.41h-1.8M320.10 227.1v1.8M283.8 194.53h-1.8M323.17 227.1v1.8M283.8 191.77h-1.8M325.55 227.1v1.8M283.8 189.64h-1.8M327.50 227.1v1.8M283.8 187.89h-1.8M329.14 227.1v1.8M283.8 186.42h-1.8M330.57 227.1v1.8M283.8 185.14h-1.8M331.83 227.1v1.8M283.8 184.01h-1.8M332.95 227.1v3.2M283.8 183.00h-3.2M340.35 227.1v1.8M283.8 176.36h-1.8M344.68 227.1v1.8M283.8 172.48h-1.8M347.75 227.1v1.8M283.8 169.72h-1.8M350.13 227.1v1.8M283.8 167.59h-1.8M352.07 227.1v1.8M283.8 165.84h-1.8M353.72 227.1v1.8M283.8 164.37h-1.8M355.14 227.1v1.8M283.8 163.09h-1.8M356.40 227.1v1.8M283.8 161.96h-1.8M357.53 227.1v3.2M283.8 160.95h-3.2M364.92 227.1v1.8M283.8 154.31h-1.8M369.25 227.1v1.8M283.8 150.43h-1.8M372.32 227.1v1.8M283.8 147.67h-1.8M374.70 227.1v1.8M283.8 145.54h-1.8M376.65 227.1v1.8M283.8 143.79h-1.8M378.29 227.1v1.8M283.8 142.32h-1.8M379.72 227.1v1.8M283.8 141.04h-1.8M380.98 227.1v1.8M283.8 139.91h-1.8M382.1 227.1v3.2M283.8 138.9h-3.2" stroke="#000" stroke-width="0.9" fill="none"/>
<text x="283.50" y="237.70" font-size="8.4" text-anchor="middle" textLength="6.2" lengthAdjust="spacingAndGlyphs" stroke="#000" stroke-width="0.3">10</text>
<text x="286.40" y="234.10" font-size="6" stroke="#000" stroke-width="0.25">0</text>
<text x="278.50" y="228.30" font-size="8.4" text-anchor="middle" textLength="6.2" lengthAdjust="spacingAndGlyphs" transform="rotate(-90 278.50 228.30)" stroke="#000" stroke-width="0.3">10</text>
<text x="274.30" y="225.10" font-size="6" transform="rotate(-90 274.30 225.10)" stroke="#000" stroke-width="0.25">0</text>
<text x="308.07" y="237.70" font-size="8.4" text-anchor="middle" textLength="6.2" lengthAdjust="spacingAndGlyphs" stroke="#000" stroke-width="0.3">10</text>
<text x="310.98" y="234.10" font-size="6" stroke="#000" stroke-width="0.25">1</text>
<text x="278.50" y="206.25" font-size="8.4" text-anchor="middle" textLength="6.2" lengthAdjust="spacingAndGlyphs" transform="rotate(-90 278.50 206.25)" stroke="#000" stroke-width="0.3">10</text>
<text x="274.30" y="203.05" font-size="6" transform="rotate(-90 274.30 203.05)" stroke="#000" stroke-width="0.25">1</text>
<text x="332.65" y="237.70" font-size="8.4" text-anchor="middle" textLength="6.2" lengthAdjust="spacingAndGlyphs" stroke="#000" stroke-width="0.3">10</text>
<text x="335.55" y="234.10" font-size="6" stroke="#000" stroke-width="0.25">2</text>
<text x="278.50" y="184.20" font-size="8.4" text-anchor="middle" textLength="6.2" lengthAdjust="spacingAndGlyphs" transform="rotate(-90 278.50 184.20)" stroke="#000" stroke-width="0.3">10</text>
<text x="274.30" y="181.00" font-size="6" transform="rotate(-90 274.30 181.00)" stroke="#000" stroke-width="0.25">2</text>
<text x="357.23" y="237.70" font-size="8.4" text-anchor="middle" textLength="6.2" lengthAdjust="spacingAndGlyphs" stroke="#000" stroke-width="0.3">10</text>
<text x="360.13" y="234.10" font-size="6" stroke="#000" stroke-width="0.25">3</text>
<text x="278.50" y="162.15" font-size="8.4" text-anchor="middle" textLength="6.2" lengthAdjust="spacingAndGlyphs" transform="rotate(-90 278.50 162.15)" stroke="#000" stroke-width="0.3">10</text>
<text x="274.30" y="158.95" font-size="6" transform="rotate(-90 274.30 158.95)" stroke="#000" stroke-width="0.25">3</text>
<text x="381.80" y="237.70" font-size="8.4" text-anchor="middle" textLength="6.2" lengthAdjust="spacingAndGlyphs" stroke="#000" stroke-width="0.3">10</text>
<text x="384.70" y="234.10" font-size="6" stroke="#000" stroke-width="0.25">4</text>
<text x="278.50" y="140.10" font-size="8.4" text-anchor="middle" textLength="6.2" lengthAdjust="spacingAndGlyphs" transform="rotate(-90 278.50 140.10)" stroke="#000" stroke-width="0.3">10</text>
<text x="274.30" y="136.90" font-size="6" transform="rotate(-90 274.30 136.90)" stroke="#000" stroke-width="0.25">4</text>
<text x="271.20" y="184.80" font-size="5.2" font-weight="bold" text-anchor="middle" transform="rotate(-90 271.20 184.80)">PE</text>
<text x="281.98" y="133.10" font-size="12.17" textLength="95.56" lengthAdjust="spacingAndGlyphs" stroke="#000" stroke-width="0.6">+ pentamer + Tc1</text>
<path d="M338.1 174.8h1.0v1.0h-1.0zM322.3 186.9h1.0v1.0h-1.0zM337.1 171.3h1.0v1.0h-1.0zM328.4 190.8h1.0v1.0h-1.0zM335.2 179.3h1.0v1.0h-1.0zM330.9 174.0h1.0v1.0h-1.0zM333.1 180.7h1.0v1.0h-1.0zM322.3 186.4h1.0v1.0h-1.0zM333.1 178.0h1.0v1.0h-1.0zM338.8 167.6h1.0v1.0h-1.0zM337.8 162.5h1.0v1.0h-1.0zM334.4 165.5h1.0v1.0h-1.0zM339.1 183.8h1.0v1.0h-1.0zM326.2 174.5h1.0v1.0h-1.0zM328.9 160.5h1.0v1.0h-1.0zM332.6 180.2h1.0v1.0h-1.0zM339.7 167.5h1.0v1.0h-1.0zM331.5 183.7h1.0v1.0h-1.0zM332.9 186.6h1.0v1.0h-1.0zM344.0 176.4h1.0v1.0h-1.0zM328.5 169.4h1.0v1.0h-1.0zM337.7 170.1h1.0v1.0h-1.0zM333.6 175.6h1.0v1.0h-1.0zM324.2 168.4h1.0v1.0h-1.0zM330.9 164.9h1.0v1.0h-1.0zM334.5 168.8h1.0v1.0h-1.0zM330.6 183.6h1.0v1.0h-1.0zM341.5 170.1h1.0v1.0h-1.0zM329.9 159.3h1.0v1.0h-1.0zM322.6 184.5h1.0v1.0h-1.0zM333.2 165.0h1.0v1.0h-1.0zM325.3 181.8h1.0v1.0h-1.0zM331.3 176.8h1.0v1.0h-1.0zM338.4 165.2h1.0v1.0h-1.0zM324.9 170.9h1.0v1.0h-1.0zM336.0 170.0h1.0v1.0h-1.0zM332.4 175.1h1.0v1.0h-1.0zM327.6 177.5h1.0v1.0h-1.0zM338.6 162.7h1.0v1.0h-1.0zM328.3 168.6h1.0v1.0h-1.0zM329.3 169.6h1.0v1.0h-1.0zM339.2 160.5h1.0v1.0h-1.0zM335.3 168.5h1.0v1.0h-1.0zM328.9 160.4h1.0v1.0h-1.0zM321.1 172.4h1.0v1.0h-1.0zM341.2 164.5h1.0v1.0h-1.0zM337.1 161.8h1.0v1.0h-1.0zM335.7 169.5h1.0v1.0h-1.0zM330.9 160.2h1.0v1.0h-1.0zM330.0 168.2h1.0v1.0h-1.0zM340.7 177.1h1.0v1.0h-1.0zM335.6 166.7h1.0v1.0h-1.0zM334.4 178.2h1.0v1.0h-1.0zM340.7 179.3h1.0v1.0h-1.0zM343.8 170.2h1.0v1.0h-1.0zM327.8 182.3h1.0v1.0h-1.0zM343.5 179.4h1.0v1.0h-1.0zM333.3 173.1h1.0v1.0h-1.0zM331.3 169.2h1.0v1.0h-1.0zM333.2 175.3h1.0v1.0h-1.0zM326.5 176.0h1.0v1.0h-1.0zM334.1 170.3h1.0v1.0h-1.0zM334.8 169.0h1.0v1.0h-1.0zM334.8 183.9h1.0v1.0h-1.0zM330.7 178.7h1.0v1.0h-1.0zM329.8 170.1h1.0v1.0h-1.0zM334.6 167.1h1.0v1.0h-1.0zM339.1 159.9h1.0v1.0h-1.0zM332.1 172.0h1.0v1.0h-1.0zM333.7 170.6h1.0v1.0h-1.0zM327.4 172.2h1.0v1.0h-1.0zM341.0 177.0h1.0v1.0h-1.0zM332.3 161.8h1.0v1.0h-1.0zM327.9 178.3h1.0v1.0h-1.0zM330.0 169.4h1.0v1.0h-1.0zM346.4 152.5h1.0v1.0h-1.0zM338.4 152.8h1.0v1.0h-1.0zM325.4 193.6h1.0v1.0h-1.0zM339.5 176.6h1.0v1.0h-1.0zM337.8 179.2h1.0v1.0h-1.0zM329.8 160.8h1.0v1.0h-1.0zM328.4 174.6h1.0v1.0h-1.0zM335.7 180.2h1.0v1.0h-1.0zM332.7 177.8h1.0v1.0h-1.0zM332.9 162.7h1.0v1.0h-1.0zM329.9 174.5h1.0v1.0h-1.0zM332.4 167.3h1.0v1.0h-1.0zM332.8 183.0h1.0v1.0h-1.0zM328.8 151.5h1.0v1.0h-1.0zM333.3 152.5h1.0v1.0h-1.0zM341.6 166.2h1.0v1.0h-1.0zM333.1 169.6h1.0v1.0h-1.0zM333.8 173.8h1.0v1.0h-1.0zM339.6 162.6h1.0v1.0h-1.0zM330.4 167.8h1.0v1.0h-1.0zM331.4 176.4h1.0v1.0h-1.0zM321.4 153.8h1.0v1.0h-1.0zM332.9 174.8h1.0v1.0h-1.0zM336.0 179.3h1.0v1.0h-1.0zM341.9 163.7h1.0v1.0h-1.0zM330.9 173.6h1.0v1.0h-1.0zM336.1 175.4h1.0v1.0h-1.0zM334.6 163.4h1.0v1.0h-1.0zM346.3 171.4h1.0v1.0h-1.0zM335.3 163.5h1.0v1.0h-1.0zM334.8 168.6h1.0v1.0h-1.0zM339.3 179.2h1.0v1.0h-1.0zM329.5 172.2h1.0v1.0h-1.0zM333.5 174.2h1.0v1.0h-1.0zM341.2 165.5h1.0v1.0h-1.0zM332.9 164.5h1.0v1.0h-1.0zM337.7 157.9h1.0v1.0h-1.0zM334.1 173.5h1.0v1.0h-1.0zM335.2 183.1h1.0v1.0h-1.0zM332.9 173.3h1.0v1.0h-1.0zM338.4 159.9h1.0v1.0h-1.0zM331.8 173.1h1.0v1.0h-1.0zM339.0 166.0h1.0v1.0h-1.0zM338.1 175.6h1.0v1.0h-1.0zM324.9 160.5h1.0v1.0h-1.0zM325.3 173.6h1.0v1.0h-1.0zM334.7 178.4h1.0v1.0h-1.0zM338.2 168.0h1.0v1.0h-1.0zM339.7 179.2h1.0v1.0h-1.0zM336.2 176.4h1.0v1.0h-1.0zM326.1 175.4h1.0v1.0h-1.0zM327.5 162.8h1.0v1.0h-1.0zM331.5 173.6h1.0v1.0h-1.0zM333.2 169.8h1.0v1.0h-1.0zM327.7 174.0h1.0v1.0h-1.0zM329.2 161.0h1.0v1.0h-1.0zM334.0 184.4h1.0v1.0h-1.0zM331.2 163.8h1.0v1.0h-1.0zM341.5 186.5h1.0v1.0h-1.0zM331.8 170.8h1.0v1.0h-1.0zM334.7 196.6h1.0v1.0h-1.0zM334.3 180.6h1.0v1.0h-1.0zM336.1 157.7h1.0v1.0h-1.0zM327.1 162.4h1.0v1.0h-1.0zM336.0 173.4h1.0v1.0h-1.0zM343.8 170.3h1.0v1.0h-1.0zM335.3 173.1h1.0v1.0h-1.0zM334.3 191.4h1.0v1.0h-1.0zM335.1 184.5h1.0v1.0h-1.0zM341.0 167.5h1.0v1.0h-1.0zM337.5 169.4h1.0v1.0h-1.0zM334.1 173.8h1.0v1.0h-1.0zM333.6 168.7h1.0v1.0h-1.0zM342.5 170.3h1.0v1.0h-1.0zM337.6 186.2h1.0v1.0h-1.0zM337.1 180.9h1.0v1.0h-1.0zM341.5 181.4h1.0v1.0h-1.0zM343.4 160.8h1.0v1.0h-1.0zM344.8 172.7h1.0v1.0h-1.0zM323.4 167.3h1.0v1.0h-1.0zM325.4 172.3h1.0v1.0h-1.0zM324.9 164.3h1.0v1.0h-1.0zM335.2 173.8h1.0v1.0h-1.0zM328.9 170.6h1.0v1.0h-1.0zM332.9 173.1h1.0v1.0h-1.0zM333.5 170.7h1.0v1.0h-1.0zM338.6 159.4h1.0v1.0h-1.0zM330.6 173.6h1.0v1.0h-1.0zM331.2 168.0h1.0v1.0h-1.0zM331.0 174.2h1.0v1.0h-1.0zM340.7 171.0h1.0v1.0h-1.0zM332.0 175.4h1.0v1.0h-1.0zM332.1 156.7h1.0v1.0h-1.0zM335.1 169.4h1.0v1.0h-1.0zM330.2 177.6h1.0v1.0h-1.0zM333.8 167.9h1.0v1.0h-1.0zM320.9 158.4h1.0v1.0h-1.0zM333.6 171.5h1.0v1.0h-1.0zM336.0 174.3h1.0v1.0h-1.0zM330.7 162.1h1.0v1.0h-1.0zM327.2 171.4h1.0v1.0h-1.0zM326.8 178.7h1.0v1.0h-1.0zM325.8 157.8h1.0v1.0h-1.0zM332.4 158.0h1.0v1.0h-1.0zM342.9 164.4h1.0v1.0h-1.0zM333.2 170.5h1.0v1.0h-1.0zM328.7 158.0h1.0v1.0h-1.0zM322.7 179.6h1.0v1.0h-1.0zM339.4 190.2h1.0v1.0h-1.0zM325.0 177.1h1.0v1.0h-1.0zM333.4 179.4h1.0v1.0h-1.0zM330.5 178.4h1.0v1.0h-1.0zM338.7 177.5h1.0v1.0h-1.0zM341.9 171.1h1.0v1.0h-1.0zM342.5 166.8h1.0v1.0h-1.0zM343.2 150.0h1.0v1.0h-1.0zM333.6 165.9h1.0v1.0h-1.0zM333.5 181.0h1.0v1.0h-1.0zM337.7 173.3h1.0v1.0h-1.0zM343.4 160.4h1.0v1.0h-1.0zM328.8 184.9h1.0v1.0h-1.0zM335.4 155.5h1.0v1.0h-1.0zM335.5 162.8h1.0v1.0h-1.0zM342.1 181.9h1.0v1.0h-1.0zM330.3 183.1h1.0v1.0h-1.0zM328.7 180.0h1.0v1.0h-1.0zM336.9 171.5h1.0v1.0h-1.0zM325.3 170.2h1.0v1.0h-1.0zM320.2 167.9h1.0v1.0h-1.0zM322.8 182.5h1.0v1.0h-1.0zM327.9 152.6h1.0v1.0h-1.0zM336.9 175.5h1.0v1.0h-1.0zM330.6 189.9h1.0v1.0h-1.0zM338.0 173.0h1.0v1.0h-1.0zM329.8 148.3h1.0v1.0h-1.0zM336.3 180.4h1.0v1.0h-1.0zM330.1 160.9h1.0v1.0h-1.0zM333.3 158.8h1.0v1.0h-1.0zM333.5 178.8h1.0v1.0h-1.0zM342.3 174.7h1.0v1.0h-1.0zM334.6 178.6h1.0v1.0h-1.0zM341.6 169.9h1.0v1.0h-1.0zM326.4 166.0h1.0v1.0h-1.0zM326.2 165.2h1.0v1.0h-1.0zM332.8 175.3h1.0v1.0h-1.0zM334.4 173.1h1.0v1.0h-1.0zM331.4 176.0h1.0v1.0h-1.0zM338.6 178.7h1.0v1.0h-1.0zM342.2 170.1h1.0v1.0h-1.0zM332.0 186.4h1.0v1.0h-1.0zM334.7 175.9h1.0v1.0h-1.0zM331.5 180.4h1.0v1.0h-1.0zM331.2 164.2h1.0v1.0h-1.0zM333.1 168.9h1.0v1.0h-1.0zM338.3 169.4h1.0v1.0h-1.0zM334.2 170.7h1.0v1.0h-1.0zM335.5 167.3h1.0v1.0h-1.0zM339.9 160.8h1.0v1.0h-1.0zM331.3 166.7h1.0v1.0h-1.0zM337.3 172.8h1.0v1.0h-1.0zM336.3 169.8h1.0v1.0h-1.0zM329.3 163.3h1.0v1.0h-1.0zM331.6 168.1h1.0v1.0h-1.0zM335.1 175.4h1.0v1.0h-1.0zM339.2 171.6h1.0v1.0h-1.0zM329.2 163.8h1.0v1.0h-1.0zM333.9 175.5h1.0v1.0h-1.0zM344.8 174.0h1.0v1.0h-1.0zM343.7 187.9h1.0v1.0h-1.0zM327.4 182.4h1.0v1.0h-1.0zM340.1 183.5h1.0v1.0h-1.0zM333.4 180.3h1.0v1.0h-1.0zM330.7 171.9h1.0v1.0h-1.0zM333.6 187.1h1.0v1.0h-1.0zM332.3 180.3h1.0v1.0h-1.0zM333.9 166.7h1.0v1.0h-1.0zM334.9 177.9h1.0v1.0h-1.0zM329.4 177.7h1.0v1.0h-1.0zM329.4 165.3h1.0v1.0h-1.0zM334.8 170.6h1.0v1.0h-1.0zM327.8 159.1h1.0v1.0h-1.0zM333.6 174.5h1.0v1.0h-1.0zM330.8 174.0h1.0v1.0h-1.0zM324.6 175.7h1.0v1.0h-1.0zM335.9 174.8h1.0v1.0h-1.0zM329.9 173.2h1.0v1.0h-1.0zM334.3 181.3h1.0v1.0h-1.0zM335.1 174.6h1.0v1.0h-1.0zM329.3 179.6h1.0v1.0h-1.0zM340.3 168.5h1.0v1.0h-1.0zM337.2 175.0h1.0v1.0h-1.0zM333.2 162.0h1.0v1.0h-1.0zM343.7 157.2h1.0v1.0h-1.0zM335.3 169.4h1.0v1.0h-1.0zM340.1 169.0h1.0v1.0h-1.0zM333.7 177.5h1.0v1.0h-1.0zM336.1 168.2h1.0v1.0h-1.0zM337.4 175.7h1.0v1.0h-1.0zM339.2 168.3h1.0v1.0h-1.0zM333.2 169.3h1.0v1.0h-1.0zM328.6 174.6h1.0v1.0h-1.0zM335.9 184.1h1.0v1.0h-1.0zM331.6 175.7h1.0v1.0h-1.0zM340.1 171.6h1.0v1.0h-1.0zM333.9 173.6h1.0v1.0h-1.0zM329.5 164.4h1.0v1.0h-1.0zM340.0 173.9h1.0v1.0h-1.0zM333.1 162.3h1.0v1.0h-1.0zM334.2 182.1h1.0v1.0h-1.0zM326.8 165.2h1.0v1.0h-1.0zM339.9 184.2h1.0v1.0h-1.0zM342.5 168.0h1.0v1.0h-1.0zM337.0 166.4h1.0v1.0h-1.0zM336.5 169.5h1.0v1.0h-1.0zM334.6 183.5h1.0v1.0h-1.0zM335.5 170.5h1.0v1.0h-1.0zM333.8 174.7h1.0v1.0h-1.0zM330.5 174.2h1.0v1.0h-1.0zM337.0 185.2h1.0v1.0h-1.0zM321.6 162.8h1.0v1.0h-1.0zM326.4 179.6h1.0v1.0h-1.0zM326.6 173.9h1.0v1.0h-1.0zM339.9 169.5h1.0v1.0h-1.0zM341.6 171.9h1.0v1.0h-1.0zM335.8 187.7h1.0v1.0h-1.0zM340.3 203.4h1.0v1.0h-1.0zM329.5 174.1h1.0v1.0h-1.0zM338.5 170.8h1.0v1.0h-1.0zM329.1 176.6h1.0v1.0h-1.0zM332.9 171.0h1.0v1.0h-1.0zM331.1 176.0h1.0v1.0h-1.0zM333.5 172.4h1.0v1.0h-1.0zM330.0 168.5h1.0v1.0h-1.0zM326.4 175.5h1.0v1.0h-1.0zM332.7 168.2h1.0v1.0h-1.0zM333.7 176.6h1.0v1.0h-1.0zM336.7 171.3h1.0v1.0h-1.0zM338.1 180.1h1.0v1.0h-1.0zM322.9 164.1h1.0v1.0h-1.0zM337.5 174.6h1.0v1.0h-1.0zM337.3 182.0h1.0v1.0h-1.0zM327.8 175.0h1.0v1.0h-1.0zM340.0 164.7h1.0v1.0h-1.0zM342.8 156.7h1.0v1.0h-1.0zM331.9 191.9h1.0v1.0h-1.0zM331.9 174.0h1.0v1.0h-1.0zM335.8 170.5h1.0v1.0h-1.0zM338.3 173.2h1.0v1.0h-1.0zM329.8 193.3h1.0v1.0h-1.0zM337.7 166.3h1.0v1.0h-1.0zM322.4 169.6h1.0v1.0h-1.0zM336.5 161.3h1.0v1.0h-1.0zM330.6 172.2h1.0v1.0h-1.0zM333.8 184.5h1.0v1.0h-1.0zM324.6 164.9h1.0v1.0h-1.0zM345.5 160.0h1.0v1.0h-1.0zM334.3 175.6h1.0v1.0h-1.0zM339.5 166.1h1.0v1.0h-1.0zM337.2 183.9h1.0v1.0h-1.0zM333.3 178.5h1.0v1.0h-1.0zM328.8 179.9h1.0v1.0h-1.0zM332.5 169.6h1.0v1.0h-1.0zM333.1 161.0h1.0v1.0h-1.0zM325.0 174.7h1.0v1.0h-1.0zM333.7 171.4h1.0v1.0h-1.0zM324.9 174.4h1.0v1.0h-1.0zM331.4 161.0h1.0v1.0h-1.0zM339.7 191.2h1.0v1.0h-1.0zM334.4 166.7h1.0v1.0h-1.0zM320.3 181.2h1.0v1.0h-1.0zM335.1 180.6h1.0v1.0h-1.0zM345.6 168.3h1.0v1.0h-1.0zM334.5 185.8h1.0v1.0h-1.0zM328.1 181.8h1.0v1.0h-1.0zM333.8 168.2h1.0v1.0h-1.0zM334.2 178.1h1.0v1.0h-1.0zM333.3 174.7h1.0v1.0h-1.0zM337.4 178.8h1.0v1.0h-1.0zM331.4 174.1h1.0v1.0h-1.0zM321.5 162.8h1.0v1.0h-1.0zM328.7 168.9h1.0v1.0h-1.0zM331.7 164.1h1.0v1.0h-1.0zM336.5 180.9h1.0v1.0h-1.0zM342.2 173.9h1.0v1.0h-1.0zM336.5 179.2h1.0v1.0h-1.0zM343.1 169.2h1.0v1.0h-1.0zM337.8 162.4h1.0v1.0h-1.0zM327.5 162.9h1.0v1.0h-1.0zM337.2 171.4h1.0v1.0h-1.0zM334.0 165.6h1.0v1.0h-1.0zM333.1 187.7h1.0v1.0h-1.0zM324.4 163.0h1.0v1.0h-1.0zM339.0 164.8h1.0v1.0h-1.0zM333.8 173.9h1.0v1.0h-1.0zM324.4 169.6h1.0v1.0h-1.0zM333.2 175.6h1.0v1.0h-1.0zM337.1 172.7h1.0v1.0h-1.0zM333.3 171.8h1.0v1.0h-1.0zM334.1 178.9h1.0v1.0h-1.0zM329.4 149.0h1.0v1.0h-1.0zM336.3 173.0h1.0v1.0h-1.0zM329.9 181.1h1.0v1.0h-1.0zM330.9 180.2h1.0v1.0h-1.0zM329.1 173.3h1.0v1.0h-1.0zM335.8 173.7h1.0v1.0h-1.0zM334.8 175.6h1.0v1.0h-1.0zM327.1 163.6h1.0v1.0h-1.0zM332.7 187.0h1.0v1.0h-1.0zM332.8 165.1h1.0v1.0h-1.0zM329.8 172.8h1.0v1.0h-1.0zM340.2 168.0h1.0v1.0h-1.0zM336.7 174.0h1.0v1.0h-1.0zM331.5 164.9h1.0v1.0h-1.0zM332.6 166.7h1.0v1.0h-1.0zM336.5 158.4h1.0v1.0h-1.0zM339.9 178.6h1.0v1.0h-1.0zM336.8 184.5h1.0v1.0h-1.0zM336.9 158.8h1.0v1.0h-1.0zM333.8 176.1h1.0v1.0h-1.0zM329.6 163.4h1.0v1.0h-1.0zM336.0 176.6h1.0v1.0h-1.0zM331.1 170.6h1.0v1.0h-1.0zM330.6 168.0h1.0v1.0h-1.0zM333.2 181.1h1.0v1.0h-1.0zM324.4 169.8h1.0v1.0h-1.0zM342.6 175.0h1.0v1.0h-1.0zM334.4 179.2h1.0v1.0h-1.0zM327.8 162.8h1.0v1.0h-1.0zM324.1 160.8h1.0v1.0h-1.0zM334.9 179.3h1.0v1.0h-1.0zM331.1 167.1h1.0v1.0h-1.0zM335.8 177.4h1.0v1.0h-1.0zM335.0 157.3h1.0v1.0h-1.0zM330.4 152.3h1.0v1.0h-1.0zM334.9 165.7h1.0v1.0h-1.0zM329.8 184.5h1.0v1.0h-1.0zM341.0 176.4h1.0v1.0h-1.0zM335.1 173.9h1.0v1.0h-1.0zM330.2 172.1h1.0v1.0h-1.0zM344.3 165.5h1.0v1.0h-1.0zM329.8 173.8h1.0v1.0h-1.0zM338.5 179.2h1.0v1.0h-1.0zM328.0 171.5h1.0v1.0h-1.0zM332.0 162.7h1.0v1.0h-1.0zM333.9 168.7h1.0v1.0h-1.0zM338.7 176.0h1.0v1.0h-1.0zM329.1 173.1h1.0v1.0h-1.0zM331.5 167.4h1.0v1.0h-1.0zM330.8 181.0h1.0v1.0h-1.0zM331.2 158.8h1.0v1.0h-1.0zM329.1 178.9h1.0v1.0h-1.0zM345.6 164.1h1.0v1.0h-1.0zM331.5 169.9h1.0v1.0h-1.0zM325.6 175.7h1.0v1.0h-1.0zM333.2 174.7h1.0v1.0h-1.0zM346.1 170.4h1.0v1.0h-1.0zM338.0 179.2h1.0v1.0h-1.0zM329.9 167.8h1.0v1.0h-1.0zM342.3 178.2h1.0v1.0h-1.0zM334.3 163.8h1.0v1.0h-1.0zM338.5 176.7h1.0v1.0h-1.0zM345.9 184.3h1.0v1.0h-1.0zM338.0 174.6h1.0v1.0h-1.0zM333.9 168.1h1.0v1.0h-1.0zM335.2 174.4h1.0v1.0h-1.0zM337.2 181.2h1.0v1.0h-1.0zM335.3 168.2h1.0v1.0h-1.0zM338.1 184.9h1.0v1.0h-1.0zM328.8 175.8h1.0v1.0h-1.0zM336.6 176.8h1.0v1.0h-1.0zM336.3 171.8h1.0v1.0h-1.0zM332.9 185.9h1.0v1.0h-1.0zM343.3 161.3h1.0v1.0h-1.0zM319.2 176.0h1.0v1.0h-1.0zM329.7 168.4h1.0v1.0h-1.0zM324.5 175.3h1.0v1.0h-1.0zM333.2 168.2h1.0v1.0h-1.0zM338.6 191.9h1.0v1.0h-1.0zM341.8 181.9h1.0v1.0h-1.0zM331.2 177.8h1.0v1.0h-1.0zM333.3 181.7h1.0v1.0h-1.0zM336.8 172.2h1.0v1.0h-1.0zM336.6 166.8h1.0v1.0h-1.0zM338.0 184.5h1.0v1.0h-1.0zM331.5 176.9h1.0v1.0h-1.0zM324.1 180.0h1.0v1.0h-1.0zM338.4 164.4h1.0v1.0h-1.0zM343.3 173.4h1.0v1.0h-1.0zM323.8 161.6h1.0v1.0h-1.0zM338.4 170.3h1.0v1.0h-1.0zM339.7 160.2h1.0v1.0h-1.0zM332.9 180.3h1.0v1.0h-1.0zM329.7 177.9h1.0v1.0h-1.0zM331.5 175.2h1.0v1.0h-1.0zM335.3 190.3h1.0v1.0h-1.0zM326.5 178.7h1.0v1.0h-1.0zM340.9 163.5h1.0v1.0h-1.0zM334.0 190.9h1.0v1.0h-1.0zM339.4 148.9h1.0v1.0h-1.0zM332.2 158.9h1.0v1.0h-1.0zM335.2 166.7h1.0v1.0h-1.0zM330.3 165.8h1.0v1.0h-1.0zM335.2 168.8h1.0v1.0h-1.0zM328.4 170.7h1.0v1.0h-1.0zM335.8 165.7h1.0v1.0h-1.0zM339.8 159.3h1.0v1.0h-1.0zM335.8 169.4h1.0v1.0h-1.0zM342.4 167.4h1.0v1.0h-1.0zM329.8 161.8h1.0v1.0h-1.0zM344.7 177.4h1.0v1.0h-1.0zM327.4 169.8h1.0v1.0h-1.0zM328.1 184.6h1.0v1.0h-1.0zM335.9 156.3h1.0v1.0h-1.0zM334.7 179.8h1.0v1.0h-1.0zM333.5 176.3h1.0v1.0h-1.0zM332.9 174.2h1.0v1.0h-1.0zM334.7 166.9h1.0v1.0h-1.0zM335.5 173.8h1.0v1.0h-1.0zM333.3 167.1h1.0v1.0h-1.0zM327.8 174.5h1.0v1.0h-1.0zM338.2 153.2h1.0v1.0h-1.0zM330.5 183.3h1.0v1.0h-1.0zM338.7 166.8h1.0v1.0h-1.0zM341.1 164.6h1.0v1.0h-1.0zM329.0 188.0h1.0v1.0h-1.0zM331.0 170.8h1.0v1.0h-1.0zM324.2 164.4h1.0v1.0h-1.0zM326.9 171.4h1.0v1.0h-1.0zM323.2 181.0h1.0v1.0h-1.0zM331.5 167.7h1.0v1.0h-1.0zM329.9 178.4h1.0v1.0h-1.0zM342.1 169.3h1.0v1.0h-1.0zM342.6 185.3h1.0v1.0h-1.0zM341.1 174.9h1.0v1.0h-1.0zM325.1 177.9h1.0v1.0h-1.0zM331.2 174.1h1.0v1.0h-1.0zM322.9 170.2h1.0v1.0h-1.0zM334.8 165.0h1.0v1.0h-1.0zM335.2 185.8h1.0v1.0h-1.0zM334.8 167.0h1.0v1.0h-1.0zM347.0 155.3h1.0v1.0h-1.0zM328.3 175.8h1.0v1.0h-1.0zM330.2 154.2h1.0v1.0h-1.0zM335.0 179.1h1.0v1.0h-1.0zM329.0 184.2h1.0v1.0h-1.0zM336.3 182.0h1.0v1.0h-1.0zM324.9 172.5h1.0v1.0h-1.0zM342.5 188.6h1.0v1.0h-1.0zM340.9 172.5h1.0v1.0h-1.0zM334.5 167.5h1.0v1.0h-1.0zM339.7 166.9h1.0v1.0h-1.0zM334.2 156.0h1.0v1.0h-1.0zM325.0 186.7h1.0v1.0h-1.0zM333.8 174.2h1.0v1.0h-1.0zM321.1 172.2h1.0v1.0h-1.0zM345.2 160.5h1.0v1.0h-1.0zM320.1 171.2h1.0v1.0h-1.0zM330.5 170.8h1.0v1.0h-1.0zM326.4 161.7h1.0v1.0h-1.0zM326.5 177.6h1.0v1.0h-1.0zM333.2 179.1h1.0v1.0h-1.0zM327.4 177.2h1.0v1.0h-1.0zM331.0 173.2h1.0v1.0h-1.0zM338.8 172.8h1.0v1.0h-1.0zM331.5 159.2h1.0v1.0h-1.0zM333.9 178.8h1.0v1.0h-1.0zM329.9 172.0h1.0v1.0h-1.0zM323.5 161.8h1.0v1.0h-1.0zM335.8 182.9h1.0v1.0h-1.0zM331.7 159.1h1.0v1.0h-1.0zM331.3 160.0h1.0v1.0h-1.0zM331.9 188.0h1.0v1.0h-1.0zM335.2 171.3h1.0v1.0h-1.0zM339.4 169.5h1.0v1.0h-1.0zM335.4 174.1h1.0v1.0h-1.0zM336.0 160.7h1.0v1.0h-1.0zM337.5 179.6h1.0v1.0h-1.0zM320.5 150.7h1.0v1.0h-1.0zM328.4 184.5h1.0v1.0h-1.0zM333.6 178.0h1.0v1.0h-1.0zM336.7 179.6h1.0v1.0h-1.0zM329.9 167.8h1.0v1.0h-1.0zM335.6 177.4h1.0v1.0h-1.0zM336.8 175.2h1.0v1.0h-1.0zM330.7 181.4h1.0v1.0h-1.0zM336.2 181.1h1.0v1.0h-1.0zM319.0 180.6h1.0v1.0h-1.0zM319.6 174.2h1.0v1.0h-1.0zM329.7 173.5h1.0v1.0h-1.0zM330.8 170.0h1.0v1.0h-1.0zM334.6 175.3h1.0v1.0h-1.0zM328.9 152.1h1.0v1.0h-1.0zM329.0 176.9h1.0v1.0h-1.0zM328.7 176.0h1.0v1.0h-1.0zM331.4 164.9h1.0v1.0h-1.0zM340.2 185.9h1.0v1.0h-1.0zM332.9 172.1h1.0v1.0h-1.0zM339.0 161.8h1.0v1.0h-1.0zM328.5 181.7h1.0v1.0h-1.0zM338.7 168.5h1.0v1.0h-1.0zM329.1 175.3h1.0v1.0h-1.0zM325.4 168.5h1.0v1.0h-1.0zM332.2 152.6h1.0v1.0h-1.0zM336.9 178.7h1.0v1.0h-1.0zM339.6 160.8h1.0v1.0h-1.0zM326.1 165.9h1.0v1.0h-1.0zM326.0 189.2h1.0v1.0h-1.0zM327.9 170.0h1.0v1.0h-1.0zM334.7 176.2h1.0v1.0h-1.0zM341.8 163.7h1.0v1.0h-1.0zM338.6 173.7h1.0v1.0h-1.0zM326.8 173.7h1.0v1.0h-1.0zM325.4 185.7h1.0v1.0h-1.0zM329.3 180.7h1.0v1.0h-1.0zM341.0 167.5h1.0v1.0h-1.0zM328.3 173.6h1.0v1.0h-1.0zM327.5 179.8h1.0v1.0h-1.0zM334.5 166.3h1.0v1.0h-1.0zM329.6 178.4h1.0v1.0h-1.0zM325.2 186.3h1.0v1.0h-1.0zM329.0 170.9h1.0v1.0h-1.0zM328.2 185.7h1.0v1.0h-1.0zM338.2 183.1h1.0v1.0h-1.0zM337.3 173.2h1.0v1.0h-1.0zM343.3 177.9h1.0v1.0h-1.0zM336.0 177.2h1.0v1.0h-1.0zM337.7 174.8h1.0v1.0h-1.0zM332.5 159.5h1.0v1.0h-1.0zM345.4 161.9h1.0v1.0h-1.0zM321.1 166.7h1.0v1.0h-1.0zM344.7 182.5h1.0v1.0h-1.0zM330.0 174.7h1.0v1.0h-1.0zM333.4 156.3h1.0v1.0h-1.0zM331.6 174.9h1.0v1.0h-1.0zM340.3 162.7h1.0v1.0h-1.0zM320.5 159.6h1.0v1.0h-1.0zM335.4 173.2h1.0v1.0h-1.0zM334.4 173.7h1.0v1.0h-1.0zM331.4 161.3h1.0v1.0h-1.0zM336.1 175.7h1.0v1.0h-1.0zM336.8 182.7h1.0v1.0h-1.0zM326.3 153.3h1.0v1.0h-1.0zM323.2 190.0h1.0v1.0h-1.0zM328.2 175.8h1.0v1.0h-1.0zM333.4 178.5h1.0v1.0h-1.0zM352.1 168.3h1.0v1.0h-1.0zM335.2 177.1h1.0v1.0h-1.0zM336.6 178.7h1.0v1.0h-1.0zM333.3 169.7h1.0v1.0h-1.0zM324.9 170.2h1.0v1.0h-1.0zM339.6 174.3h1.0v1.0h-1.0zM335.4 162.1h1.0v1.0h-1.0zM322.1 177.6h1.0v1.0h-1.0zM329.3 168.1h1.0v1.0h-1.0zM322.5 184.5h1.0v1.0h-1.0zM341.7 158.4h1.0v1.0h-1.0zM330.5 170.8h1.0v1.0h-1.0zM336.1 179.7h1.0v1.0h-1.0zM333.3 171.8h1.0v1.0h-1.0zM336.8 158.9h1.0v1.0h-1.0zM332.9 172.4h1.0v1.0h-1.0zM335.3 164.4h1.0v1.0h-1.0zM329.8 163.2h1.0v1.0h-1.0zM332.7 164.2h1.0v1.0h-1.0zM347.5 167.4h1.0v1.0h-1.0zM329.7 167.8h1.0v1.0h-1.0zM330.2 177.0h1.0v1.0h-1.0zM342.0 164.2h1.0v1.0h-1.0zM336.1 157.7h1.0v1.0h-1.0zM342.3 171.8h1.0v1.0h-1.0zM329.4 185.1h1.0v1.0h-1.0zM332.9 183.7h1.0v1.0h-1.0zM339.7 186.1h1.0v1.0h-1.0zM328.9 173.0h1.0v1.0h-1.0zM335.6 170.9h1.0v1.0h-1.0zM342.3 166.6h1.0v1.0h-1.0zM339.3 183.7h1.0v1.0h-1.0zM322.2 164.6h1.0v1.0h-1.0zM328.3 168.0h1.0v1.0h-1.0zM335.8 171.1h1.0v1.0h-1.0zM334.0 168.7h1.0v1.0h-1.0zM333.0 176.5h1.0v1.0h-1.0zM337.8 166.1h1.0v1.0h-1.0zM332.8 166.3h1.0v1.0h-1.0zM332.5 160.7h1.0v1.0h-1.0zM339.0 178.0h1.0v1.0h-1.0zM332.8 166.9h1.0v1.0h-1.0zM330.9 167.0h1.0v1.0h-1.0zM324.5 185.9h1.0v1.0h-1.0zM324.0 166.0h1.0v1.0h-1.0zM333.8 163.5h1.0v1.0h-1.0zM337.3 166.2h1.0v1.0h-1.0zM339.7 169.6h1.0v1.0h-1.0zM340.6 181.7h1.0v1.0h-1.0zM338.9 182.3h1.0v1.0h-1.0zM333.3 168.2h1.0v1.0h-1.0zM329.8 166.5h1.0v1.0h-1.0zM333.6 187.6h1.0v1.0h-1.0zM340.0 174.4h1.0v1.0h-1.0zM343.2 180.8h1.0v1.0h-1.0zM334.7 171.2h1.0v1.0h-1.0zM327.1 174.5h1.0v1.0h-1.0zM331.7 159.5h1.0v1.0h-1.0zM326.0 188.4h1.0v1.0h-1.0zM334.7 176.6h1.0v1.0h-1.0zM334.7 168.7h1.0v1.0h-1.0zM336.2 181.4h1.0v1.0h-1.0zM331.7 176.7h1.0v1.0h-1.0zM339.4 168.5h1.0v1.0h-1.0zM334.5 166.4h1.0v1.0h-1.0zM337.0 169.5h1.0v1.0h-1.0zM340.1 166.2h1.0v1.0h-1.0zM343.3 170.0h1.0v1.0h-1.0zM328.6 165.1h1.0v1.0h-1.0zM337.3 165.5h1.0v1.0h-1.0zM344.0 183.0h1.0v1.0h-1.0zM336.5 160.8h1.0v1.0h-1.0zM333.4 166.5h1.0v1.0h-1.0zM323.0 176.0h1.0v1.0h-1.0zM346.3 168.1h1.0v1.0h-1.0zM338.2 183.0h1.0v1.0h-1.0zM327.9 169.7h1.0v1.0h-1.0zM335.1 176.4h1.0v1.0h-1.0zM326.9 174.3h1.0v1.0h-1.0zM332.9 180.3h1.0v1.0h-1.0zM353.6 172.7h1.0v1.0h-1.0zM358.0 173.7h1.0v1.0h-1.0zM362.9 172.5h1.0v1.0h-1.0zM371.0 172.2h1.0v1.0h-1.0zM363.4 179.1h1.0v1.0h-1.0zM363.9 174.2h1.0v1.0h-1.0zM356.7 174.0h1.0v1.0h-1.0zM362.7 175.5h1.0v1.0h-1.0zM362.3 177.3h1.0v1.0h-1.0zM356.5 171.3h1.0v1.0h-1.0zM365.8 173.1h1.0v1.0h-1.0zM353.7 182.4h1.0v1.0h-1.0zM356.7 171.3h1.0v1.0h-1.0zM363.9 170.5h1.0v1.0h-1.0zM356.5 179.2h1.0v1.0h-1.0zM356.7 185.0h1.0v1.0h-1.0zM360.4 185.7h1.0v1.0h-1.0zM360.5 175.2h1.0v1.0h-1.0zM357.4 174.1h1.0v1.0h-1.0zM358.0 174.9h1.0v1.0h-1.0zM363.1 169.9h1.0v1.0h-1.0zM356.3 166.6h1.0v1.0h-1.0zM366.0 174.7h1.0v1.0h-1.0zM359.9 174.8h1.0v1.0h-1.0zM364.0 176.3h1.0v1.0h-1.0zM363.4 174.3h1.0v1.0h-1.0zM359.5 174.8h1.0v1.0h-1.0zM352.6 179.4h1.0v1.0h-1.0zM353.7 171.0h1.0v1.0h-1.0zM362.7 175.2h1.0v1.0h-1.0zM363.3 181.8h1.0v1.0h-1.0zM367.4 180.5h1.0v1.0h-1.0zM359.1 183.2h1.0v1.0h-1.0zM356.5 174.7h1.0v1.0h-1.0zM364.0 174.1h1.0v1.0h-1.0zM359.5 173.6h1.0v1.0h-1.0zM365.5 165.1h1.0v1.0h-1.0zM365.1 179.2h1.0v1.0h-1.0zM359.7 177.2h1.0v1.0h-1.0zM356.1 179.4h1.0v1.0h-1.0zM372.2 171.3h1.0v1.0h-1.0zM365.6 174.8h1.0v1.0h-1.0zM358.6 173.1h1.0v1.0h-1.0zM359.2 170.0h1.0v1.0h-1.0zM354.6 181.6h1.0v1.0h-1.0zM357.1 156.4h1.0v1.0h-1.0zM354.4 156.7h1.0v1.0h-1.0zM366.5 186.0h1.0v1.0h-1.0zM354.5 172.6h1.0v1.0h-1.0zM366.1 175.2h1.0v1.0h-1.0zM361.6 174.5h1.0v1.0h-1.0zM350.4 152.6h1.0v1.0h-1.0zM361.8 160.7h1.0v1.0h-1.0zM371.2 160.9h1.0v1.0h-1.0zM373.1 160.9h1.0v1.0h-1.0zM352.6 171.5h1.0v1.0h-1.0zM360.9 165.1h1.0v1.0h-1.0zM371.4 160.0h1.0v1.0h-1.0zM368.8 187.6h1.0v1.0h-1.0zM362.7 172.6h1.0v1.0h-1.0zM375.9 177.2h1.0v1.0h-1.0zM355.1 153.1h1.0v1.0h-1.0zM352.3 164.9h1.0v1.0h-1.0zM352.5 179.2h1.0v1.0h-1.0zM361.9 163.9h1.0v1.0h-1.0zM364.3 192.1h1.0v1.0h-1.0zM356.8 157.0h1.0v1.0h-1.0zM358.5 164.6h1.0v1.0h-1.0zM375.5 181.8h1.0v1.0h-1.0zM362.0 157.5h1.0v1.0h-1.0zM351.3 155.5h1.0v1.0h-1.0zM373.7 179.2h1.0v1.0h-1.0zM354.4 178.1h1.0v1.0h-1.0zM351.6 172.8h1.0v1.0h-1.0zM359.4 154.6h1.0v1.0h-1.0zM365.6 212.9h1.0v1.0h-1.0zM354.5 195.4h1.0v1.0h-1.0zM362.1 203.9h1.0v1.0h-1.0zM361.7 192.9h1.0v1.0h-1.0zM373.3 190.1h1.0v1.0h-1.0zM340.7 202.7h1.0v1.0h-1.0zM339.5 192.8h1.0v1.0h-1.0zM363.0 221.8h1.0v1.0h-1.0zM346.1 198.5h1.0v1.0h-1.0zM362.2 197.1h1.0v1.0h-1.0zM349.2 212.0h1.0v1.0h-1.0zM350.7 195.0h1.0v1.0h-1.0zM333.4 207.4h1.0v1.0h-1.0zM377.5 219.4h1.0v1.0h-1.0z" fill="#1a1a1a"/>
<rect x="417.3" y="138.2" width="96.90000000000003" height="88.70000000000002" fill="none" stroke="#000" stroke-width="1.4"/>
<line x1="478.50" y1="138.20" x2="478.50" y2="226.90" stroke="#000" stroke-width="1.5"/>
<line x1="417.30" y1="187.10" x2="514.20" y2="187.10" stroke="#000" stroke-width="1.5"/>
<path d="M417.30 226.9v3.2M417.3 226.90h-3.2M424.59 226.9v1.8M417.3 220.22h-1.8M428.86 226.9v1.8M417.3 216.32h-1.8M431.88 226.9v1.8M417.3 213.55h-1.8M434.23 226.9v1.8M417.3 211.40h-1.8M436.15 226.9v1.8M417.3 209.64h-1.8M437.77 226.9v1.8M417.3 208.16h-1.8M439.18 226.9v1.8M417.3 206.87h-1.8M440.42 226.9v1.8M417.3 205.74h-1.8M441.53 226.9v3.2M417.3 204.72h-3.2M448.82 226.9v1.8M417.3 198.05h-1.8M453.08 226.9v1.8M417.3 194.14h-1.8M456.11 226.9v1.8M417.3 191.37h-1.8M458.46 226.9v1.8M417.3 189.23h-1.8M460.38 226.9v1.8M417.3 187.47h-1.8M462.00 226.9v1.8M417.3 185.98h-1.8M463.40 226.9v1.8M417.3 184.70h-1.8M464.64 226.9v1.8M417.3 183.56h-1.8M465.75 226.9v3.2M417.3 182.55h-3.2M473.04 226.9v1.8M417.3 175.87h-1.8M477.31 226.9v1.8M417.3 171.97h-1.8M480.33 226.9v1.8M417.3 169.20h-1.8M482.68 226.9v1.8M417.3 167.05h-1.8M484.60 226.9v1.8M417.3 165.29h-1.8M486.22 226.9v1.8M417.3 163.81h-1.8M487.63 226.9v1.8M417.3 162.52h-1.8M488.87 226.9v1.8M417.3 161.39h-1.8M489.98 226.9v3.2M417.3 160.38h-3.2M497.27 226.9v1.8M417.3 153.70h-1.8M501.53 226.9v1.8M417.3 149.79h-1.8M504.56 226.9v1.8M417.3 147.02h-1.8M506.91 226.9v1.8M417.3 144.88h-1.8M508.83 226.9v1.8M417.3 143.12h-1.8M510.45 226.9v1.8M417.3 141.63h-1.8M511.85 226.9v1.8M417.3 140.35h-1.8M513.09 226.9v1.8M417.3 139.21h-1.8M514.2 226.9v3.2M417.3 138.2h-3.2" stroke="#000" stroke-width="0.9" fill="none"/>
<text x="417.00" y="237.50" font-size="8.4" text-anchor="middle" textLength="6.2" lengthAdjust="spacingAndGlyphs" stroke="#000" stroke-width="0.3">10</text>
<text x="419.90" y="233.90" font-size="6" stroke="#000" stroke-width="0.25">0</text>
<text x="412.00" y="228.10" font-size="8.4" text-anchor="middle" textLength="6.2" lengthAdjust="spacingAndGlyphs" transform="rotate(-90 412.00 228.10)" stroke="#000" stroke-width="0.3">10</text>
<text x="407.80" y="224.90" font-size="6" transform="rotate(-90 407.80 224.90)" stroke="#000" stroke-width="0.25">0</text>
<text x="441.23" y="237.50" font-size="8.4" text-anchor="middle" textLength="6.2" lengthAdjust="spacingAndGlyphs" stroke="#000" stroke-width="0.3">10</text>
<text x="444.13" y="233.90" font-size="6" stroke="#000" stroke-width="0.25">1</text>
<text x="412.00" y="205.92" font-size="8.4" text-anchor="middle" textLength="6.2" lengthAdjust="spacingAndGlyphs" transform="rotate(-90 412.00 205.92)" stroke="#000" stroke-width="0.3">10</text>
<text x="407.80" y="202.72" font-size="6" transform="rotate(-90 407.80 202.72)" stroke="#000" stroke-width="0.25">1</text>
<text x="465.45" y="237.50" font-size="8.4" text-anchor="middle" textLength="6.2" lengthAdjust="spacingAndGlyphs" stroke="#000" stroke-width="0.3">10</text>
<text x="468.35" y="233.90" font-size="6" stroke="#000" stroke-width="0.25">2</text>
<text x="412.00" y="183.75" font-size="8.4" text-anchor="middle" textLength="6.2" lengthAdjust="spacingAndGlyphs" transform="rotate(-90 412.00 183.75)" stroke="#000" stroke-width="0.3">10</text>
<text x="407.80" y="180.55" font-size="6" transform="rotate(-90 407.80 180.55)" stroke="#000" stroke-width="0.25">2</text>
<text x="489.68" y="237.50" font-size="8.4" text-anchor="middle" textLength="6.2" lengthAdjust="spacingAndGlyphs" stroke="#000" stroke-width="0.3">10</text>
<text x="492.58" y="233.90" font-size="6" stroke="#000" stroke-width="0.25">3</text>
<text x="412.00" y="161.57" font-size="8.4" text-anchor="middle" textLength="6.2" lengthAdjust="spacingAndGlyphs" transform="rotate(-90 412.00 161.57)" stroke="#000" stroke-width="0.3">10</text>
<text x="407.80" y="158.38" font-size="6" transform="rotate(-90 407.80 158.38)" stroke="#000" stroke-width="0.25">3</text>
<text x="513.90" y="237.50" font-size="8.4" text-anchor="middle" textLength="6.2" lengthAdjust="spacingAndGlyphs" stroke="#000" stroke-width="0.3">10</text>
<text x="516.80" y="233.90" font-size="6" stroke="#000" stroke-width="0.25">4</text>
<text x="412.00" y="139.40" font-size="8.4" text-anchor="middle" textLength="6.2" lengthAdjust="spacingAndGlyphs" transform="rotate(-90 412.00 139.40)" stroke="#000" stroke-width="0.3">10</text>
<text x="407.80" y="136.20" font-size="6" transform="rotate(-90 407.80 136.20)" stroke="#000" stroke-width="0.25">4</text>
<text x="404.70" y="184.35" font-size="5.2" font-weight="bold" text-anchor="middle" transform="rotate(-90 404.70 184.35)">PE</text>
<text x="413.70" y="133.10" font-size="12.17" textLength="99.42" lengthAdjust="spacingAndGlyphs" stroke="#000" stroke-width="0.6">+ pentamer + Treg</text>
<path d="M491.4 212.4h1.0v1.0h-1.0zM481.4 200.3h1.0v1.0h-1.0zM482.0 189.4h1.0v1.0h-1.0zM487.4 194.9h1.0v1.0h-1.0zM495.9 199.8h1.0v1.0h-1.0zM482.1 201.2h1.0v1.0h-1.0zM482.3 200.8h1.0v1.0h-1.0zM481.7 185.1h1.0v1.0h-1.0zM470.5 180.5h1.0v1.0h-1.0zM494.9 211.7h1.0v1.0h-1.0zM486.5 197.6h1.0v1.0h-1.0zM484.6 204.7h1.0v1.0h-1.0zM476.9 189.0h1.0v1.0h-1.0zM480.0 212.3h1.0v1.0h-1.0zM478.9 210.8h1.0v1.0h-1.0zM482.6 224.8h1.0v1.0h-1.0zM488.2 203.5h1.0v1.0h-1.0zM483.6 180.3h1.0v1.0h-1.0zM483.1 196.1h1.0v1.0h-1.0zM492.3 193.6h1.0v1.0h-1.0zM490.0 211.2h1.0v1.0h-1.0zM485.2 201.1h1.0v1.0h-1.0zM491.1 207.6h1.0v1.0h-1.0zM500.2 184.9h1.0v1.0h-1.0zM479.9 219.9h1.0v1.0h-1.0zM488.3 183.0h1.0v1.0h-1.0zM471.6 180.0h1.0v1.0h-1.0zM476.2 177.0h1.0v1.0h-1.0zM481.7 197.2h1.0v1.0h-1.0zM478.4 196.8h1.0v1.0h-1.0zM482.4 209.0h1.0v1.0h-1.0zM477.3 196.7h1.0v1.0h-1.0zM486.4 210.8h1.0v1.0h-1.0zM478.2 197.9h1.0v1.0h-1.0zM477.5 205.3h1.0v1.0h-1.0zM488.5 215.5h1.0v1.0h-1.0zM483.8 218.8h1.0v1.0h-1.0zM482.4 182.8h1.0v1.0h-1.0zM480.8 198.7h1.0v1.0h-1.0zM492.1 199.9h1.0v1.0h-1.0zM481.9 206.2h1.0v1.0h-1.0zM477.5 207.3h1.0v1.0h-1.0zM488.5 192.6h1.0v1.0h-1.0zM485.0 194.5h1.0v1.0h-1.0zM479.9 202.0h1.0v1.0h-1.0zM483.5 210.2h1.0v1.0h-1.0zM485.8 185.1h1.0v1.0h-1.0zM486.7 210.0h1.0v1.0h-1.0zM487.4 188.1h1.0v1.0h-1.0zM481.6 186.6h1.0v1.0h-1.0zM483.8 193.2h1.0v1.0h-1.0zM490.9 208.6h1.0v1.0h-1.0zM501.0 215.7h1.0v1.0h-1.0zM476.4 194.7h1.0v1.0h-1.0zM496.5 203.9h1.0v1.0h-1.0zM486.2 211.8h1.0v1.0h-1.0zM494.1 218.4h1.0v1.0h-1.0zM484.9 189.6h1.0v1.0h-1.0zM482.2 206.3h1.0v1.0h-1.0zM475.7 198.1h1.0v1.0h-1.0zM495.0 194.6h1.0v1.0h-1.0zM490.0 196.1h1.0v1.0h-1.0zM480.8 203.8h1.0v1.0h-1.0zM489.4 203.0h1.0v1.0h-1.0zM488.3 210.6h1.0v1.0h-1.0zM496.2 198.0h1.0v1.0h-1.0zM479.6 216.7h1.0v1.0h-1.0zM490.6 197.7h1.0v1.0h-1.0zM483.3 204.6h1.0v1.0h-1.0zM491.0 198.4h1.0v1.0h-1.0zM478.8 206.9h1.0v1.0h-1.0zM485.5 204.1h1.0v1.0h-1.0zM480.8 206.0h1.0v1.0h-1.0zM491.5 205.9h1.0v1.0h-1.0zM485.9 192.8h1.0v1.0h-1.0zM481.8 186.7h1.0v1.0h-1.0zM486.0 204.2h1.0v1.0h-1.0zM481.6 187.1h1.0v1.0h-1.0zM484.4 208.2h1.0v1.0h-1.0zM493.8 188.3h1.0v1.0h-1.0zM486.4 216.3h1.0v1.0h-1.0zM480.6 195.2h1.0v1.0h-1.0zM490.9 207.0h1.0v1.0h-1.0zM480.3 188.0h1.0v1.0h-1.0zM482.3 200.0h1.0v1.0h-1.0zM486.7 211.5h1.0v1.0h-1.0zM480.4 204.3h1.0v1.0h-1.0zM488.0 200.3h1.0v1.0h-1.0zM490.1 203.8h1.0v1.0h-1.0zM488.4 197.4h1.0v1.0h-1.0zM480.4 193.9h1.0v1.0h-1.0zM496.2 212.1h1.0v1.0h-1.0zM487.3 195.3h1.0v1.0h-1.0zM486.7 190.8h1.0v1.0h-1.0zM487.6 202.8h1.0v1.0h-1.0zM482.2 205.4h1.0v1.0h-1.0zM477.9 185.1h1.0v1.0h-1.0zM489.8 193.2h1.0v1.0h-1.0zM477.1 209.8h1.0v1.0h-1.0zM489.3 209.0h1.0v1.0h-1.0zM485.6 190.8h1.0v1.0h-1.0zM488.2 203.2h1.0v1.0h-1.0zM481.3 201.5h1.0v1.0h-1.0zM488.2 203.5h1.0v1.0h-1.0zM490.5 210.1h1.0v1.0h-1.0zM478.8 203.6h1.0v1.0h-1.0zM483.1 216.6h1.0v1.0h-1.0zM468.0 189.7h1.0v1.0h-1.0zM489.1 214.9h1.0v1.0h-1.0zM479.5 199.2h1.0v1.0h-1.0zM488.2 197.9h1.0v1.0h-1.0zM489.7 197.4h1.0v1.0h-1.0zM481.1 212.1h1.0v1.0h-1.0zM480.8 196.2h1.0v1.0h-1.0zM483.4 204.7h1.0v1.0h-1.0zM481.3 189.0h1.0v1.0h-1.0zM482.9 208.9h1.0v1.0h-1.0zM488.7 195.8h1.0v1.0h-1.0zM472.0 207.9h1.0v1.0h-1.0zM481.5 208.0h1.0v1.0h-1.0zM490.3 217.7h1.0v1.0h-1.0zM482.1 190.4h1.0v1.0h-1.0zM481.8 204.3h1.0v1.0h-1.0zM487.2 191.7h1.0v1.0h-1.0zM488.5 194.7h1.0v1.0h-1.0zM485.3 199.4h1.0v1.0h-1.0zM482.2 189.3h1.0v1.0h-1.0zM481.4 201.0h1.0v1.0h-1.0zM489.7 217.6h1.0v1.0h-1.0zM483.8 193.5h1.0v1.0h-1.0zM483.4 196.4h1.0v1.0h-1.0zM482.6 196.3h1.0v1.0h-1.0zM480.1 198.6h1.0v1.0h-1.0zM482.3 198.6h1.0v1.0h-1.0zM477.0 199.0h1.0v1.0h-1.0zM489.0 210.6h1.0v1.0h-1.0zM482.1 188.3h1.0v1.0h-1.0zM477.5 185.5h1.0v1.0h-1.0zM481.5 196.7h1.0v1.0h-1.0zM474.6 203.2h1.0v1.0h-1.0zM476.0 189.8h1.0v1.0h-1.0zM481.1 208.3h1.0v1.0h-1.0zM496.8 204.3h1.0v1.0h-1.0zM483.8 197.0h1.0v1.0h-1.0zM484.3 199.6h1.0v1.0h-1.0zM500.7 198.8h1.0v1.0h-1.0zM484.8 193.4h1.0v1.0h-1.0zM487.7 197.8h1.0v1.0h-1.0zM489.0 192.6h1.0v1.0h-1.0zM498.5 211.1h1.0v1.0h-1.0zM474.6 203.5h1.0v1.0h-1.0zM482.6 188.5h1.0v1.0h-1.0zM488.2 198.1h1.0v1.0h-1.0zM490.0 198.7h1.0v1.0h-1.0zM491.0 206.5h1.0v1.0h-1.0zM487.7 204.8h1.0v1.0h-1.0zM483.3 197.1h1.0v1.0h-1.0zM488.3 210.8h1.0v1.0h-1.0zM483.0 223.9h1.0v1.0h-1.0zM495.9 195.6h1.0v1.0h-1.0zM492.2 204.8h1.0v1.0h-1.0zM486.9 194.6h1.0v1.0h-1.0zM495.6 198.9h1.0v1.0h-1.0zM485.0 194.2h1.0v1.0h-1.0zM477.4 193.0h1.0v1.0h-1.0zM487.7 198.7h1.0v1.0h-1.0zM483.3 189.7h1.0v1.0h-1.0zM487.0 191.5h1.0v1.0h-1.0zM485.1 182.0h1.0v1.0h-1.0zM485.6 218.2h1.0v1.0h-1.0zM482.0 204.7h1.0v1.0h-1.0zM478.2 197.3h1.0v1.0h-1.0zM495.7 210.4h1.0v1.0h-1.0zM485.1 180.4h1.0v1.0h-1.0zM482.9 206.2h1.0v1.0h-1.0zM479.7 212.9h1.0v1.0h-1.0zM482.0 191.2h1.0v1.0h-1.0zM482.0 199.2h1.0v1.0h-1.0zM491.6 199.4h1.0v1.0h-1.0zM474.6 195.4h1.0v1.0h-1.0zM478.6 213.6h1.0v1.0h-1.0zM489.6 208.9h1.0v1.0h-1.0zM480.8 190.4h1.0v1.0h-1.0zM479.7 208.5h1.0v1.0h-1.0zM486.8 213.7h1.0v1.0h-1.0zM496.6 208.1h1.0v1.0h-1.0zM485.2 221.6h1.0v1.0h-1.0zM477.5 193.2h1.0v1.0h-1.0zM483.2 196.9h1.0v1.0h-1.0zM486.4 193.9h1.0v1.0h-1.0zM492.6 191.8h1.0v1.0h-1.0zM480.5 182.0h1.0v1.0h-1.0zM476.9 203.5h1.0v1.0h-1.0zM489.3 202.1h1.0v1.0h-1.0zM490.7 211.1h1.0v1.0h-1.0zM482.0 199.8h1.0v1.0h-1.0zM487.7 223.9h1.0v1.0h-1.0zM482.8 204.4h1.0v1.0h-1.0zM488.8 216.3h1.0v1.0h-1.0zM488.1 214.5h1.0v1.0h-1.0zM479.0 195.9h1.0v1.0h-1.0zM473.7 195.3h1.0v1.0h-1.0zM499.7 212.1h1.0v1.0h-1.0zM486.0 205.1h1.0v1.0h-1.0zM486.4 188.9h1.0v1.0h-1.0zM481.3 198.0h1.0v1.0h-1.0zM486.5 193.7h1.0v1.0h-1.0zM484.9 194.2h1.0v1.0h-1.0zM477.5 191.0h1.0v1.0h-1.0zM480.6 208.0h1.0v1.0h-1.0zM493.7 212.4h1.0v1.0h-1.0zM484.2 195.7h1.0v1.0h-1.0zM475.9 191.6h1.0v1.0h-1.0zM486.9 200.3h1.0v1.0h-1.0zM485.5 206.4h1.0v1.0h-1.0zM485.5 206.4h1.0v1.0h-1.0zM480.8 200.0h1.0v1.0h-1.0zM483.4 212.0h1.0v1.0h-1.0zM477.9 211.3h1.0v1.0h-1.0zM485.0 196.6h1.0v1.0h-1.0zM485.6 203.4h1.0v1.0h-1.0zM484.1 205.7h1.0v1.0h-1.0zM482.0 182.9h1.0v1.0h-1.0zM489.7 204.1h1.0v1.0h-1.0zM495.7 211.4h1.0v1.0h-1.0zM473.3 208.3h1.0v1.0h-1.0zM481.3 205.5h1.0v1.0h-1.0zM478.8 197.6h1.0v1.0h-1.0zM475.7 203.7h1.0v1.0h-1.0zM488.9 193.4h1.0v1.0h-1.0zM488.3 213.1h1.0v1.0h-1.0zM490.4 197.8h1.0v1.0h-1.0zM481.3 188.4h1.0v1.0h-1.0zM477.6 201.1h1.0v1.0h-1.0zM485.7 215.5h1.0v1.0h-1.0zM487.2 199.7h1.0v1.0h-1.0zM476.8 213.2h1.0v1.0h-1.0zM486.5 202.3h1.0v1.0h-1.0zM479.4 188.1h1.0v1.0h-1.0zM489.4 194.2h1.0v1.0h-1.0zM489.1 210.4h1.0v1.0h-1.0zM483.2 184.3h1.0v1.0h-1.0zM488.0 217.8h1.0v1.0h-1.0zM480.5 186.5h1.0v1.0h-1.0zM492.1 207.1h1.0v1.0h-1.0zM481.7 212.6h1.0v1.0h-1.0zM483.8 205.8h1.0v1.0h-1.0zM483.1 193.1h1.0v1.0h-1.0zM486.8 194.0h1.0v1.0h-1.0zM474.7 190.8h1.0v1.0h-1.0zM493.0 217.3h1.0v1.0h-1.0zM495.3 209.9h1.0v1.0h-1.0zM482.9 205.4h1.0v1.0h-1.0zM479.7 206.5h1.0v1.0h-1.0zM482.8 203.3h1.0v1.0h-1.0zM480.3 198.0h1.0v1.0h-1.0zM491.5 203.1h1.0v1.0h-1.0zM481.4 202.8h1.0v1.0h-1.0zM490.9 203.1h1.0v1.0h-1.0zM478.4 182.4h1.0v1.0h-1.0zM477.4 208.6h1.0v1.0h-1.0zM485.0 206.7h1.0v1.0h-1.0zM492.0 208.5h1.0v1.0h-1.0zM488.4 198.5h1.0v1.0h-1.0zM475.7 203.3h1.0v1.0h-1.0zM484.9 207.6h1.0v1.0h-1.0zM479.0 197.2h1.0v1.0h-1.0zM497.8 200.1h1.0v1.0h-1.0zM486.1 215.7h1.0v1.0h-1.0zM484.1 202.6h1.0v1.0h-1.0zM472.5 203.1h1.0v1.0h-1.0zM482.8 213.8h1.0v1.0h-1.0zM484.9 198.0h1.0v1.0h-1.0zM488.1 201.1h1.0v1.0h-1.0zM482.4 216.1h1.0v1.0h-1.0zM491.5 206.4h1.0v1.0h-1.0zM490.4 213.1h1.0v1.0h-1.0zM489.0 204.5h1.0v1.0h-1.0zM485.9 206.5h1.0v1.0h-1.0zM488.9 207.5h1.0v1.0h-1.0zM482.2 199.6h1.0v1.0h-1.0zM488.3 193.7h1.0v1.0h-1.0zM485.4 209.8h1.0v1.0h-1.0zM486.5 199.8h1.0v1.0h-1.0zM485.4 197.2h1.0v1.0h-1.0zM491.5 201.5h1.0v1.0h-1.0zM475.4 184.6h1.0v1.0h-1.0zM487.3 205.2h1.0v1.0h-1.0zM482.6 187.4h1.0v1.0h-1.0zM484.6 193.2h1.0v1.0h-1.0zM481.5 200.0h1.0v1.0h-1.0zM480.8 202.8h1.0v1.0h-1.0zM481.0 195.1h1.0v1.0h-1.0zM484.1 216.1h1.0v1.0h-1.0zM495.1 216.8h1.0v1.0h-1.0zM481.0 199.8h1.0v1.0h-1.0zM491.0 213.2h1.0v1.0h-1.0zM475.6 196.3h1.0v1.0h-1.0zM481.0 207.3h1.0v1.0h-1.0zM489.4 198.8h1.0v1.0h-1.0zM498.5 206.3h1.0v1.0h-1.0zM500.3 208.3h1.0v1.0h-1.0zM485.0 221.0h1.0v1.0h-1.0zM482.3 195.7h1.0v1.0h-1.0zM494.5 206.5h1.0v1.0h-1.0zM488.4 191.1h1.0v1.0h-1.0zM496.4 217.8h1.0v1.0h-1.0zM487.7 210.4h1.0v1.0h-1.0zM482.5 195.8h1.0v1.0h-1.0zM476.0 200.8h1.0v1.0h-1.0zM493.0 214.7h1.0v1.0h-1.0zM491.1 212.2h1.0v1.0h-1.0zM479.9 186.1h1.0v1.0h-1.0zM489.4 205.9h1.0v1.0h-1.0zM491.5 202.6h1.0v1.0h-1.0zM480.2 203.8h1.0v1.0h-1.0zM482.1 183.9h1.0v1.0h-1.0zM481.8 191.4h1.0v1.0h-1.0zM478.7 193.1h1.0v1.0h-1.0zM488.8 171.4h1.0v1.0h-1.0zM473.9 200.1h1.0v1.0h-1.0zM486.1 219.6h1.0v1.0h-1.0zM482.3 176.1h1.0v1.0h-1.0zM491.9 186.7h1.0v1.0h-1.0zM484.3 219.7h1.0v1.0h-1.0zM480.2 200.6h1.0v1.0h-1.0zM478.0 211.8h1.0v1.0h-1.0zM492.1 188.6h1.0v1.0h-1.0zM483.7 195.4h1.0v1.0h-1.0zM490.0 215.7h1.0v1.0h-1.0zM486.8 211.9h1.0v1.0h-1.0zM488.4 207.2h1.0v1.0h-1.0zM484.6 194.2h1.0v1.0h-1.0zM488.7 196.0h1.0v1.0h-1.0zM488.6 196.4h1.0v1.0h-1.0zM484.8 212.1h1.0v1.0h-1.0zM492.1 206.4h1.0v1.0h-1.0zM484.8 202.8h1.0v1.0h-1.0zM489.4 196.3h1.0v1.0h-1.0zM501.3 210.5h1.0v1.0h-1.0zM486.1 210.3h1.0v1.0h-1.0zM488.3 204.2h1.0v1.0h-1.0zM483.5 187.5h1.0v1.0h-1.0zM480.8 199.3h1.0v1.0h-1.0zM481.7 224.9h1.0v1.0h-1.0zM498.4 207.4h1.0v1.0h-1.0zM495.2 209.3h1.0v1.0h-1.0zM489.0 188.8h1.0v1.0h-1.0zM474.7 190.3h1.0v1.0h-1.0zM489.9 215.1h1.0v1.0h-1.0zM484.9 212.2h1.0v1.0h-1.0zM475.8 188.8h1.0v1.0h-1.0zM479.7 188.7h1.0v1.0h-1.0zM495.5 198.3h1.0v1.0h-1.0zM480.5 195.5h1.0v1.0h-1.0zM490.9 200.4h1.0v1.0h-1.0zM490.0 210.0h1.0v1.0h-1.0zM481.6 176.6h1.0v1.0h-1.0zM479.9 186.8h1.0v1.0h-1.0zM495.4 200.3h1.0v1.0h-1.0zM479.0 202.5h1.0v1.0h-1.0zM485.8 193.0h1.0v1.0h-1.0zM492.1 214.8h1.0v1.0h-1.0zM487.2 195.5h1.0v1.0h-1.0zM480.2 178.9h1.0v1.0h-1.0zM487.8 207.3h1.0v1.0h-1.0zM479.9 199.4h1.0v1.0h-1.0zM505.4 201.5h1.0v1.0h-1.0zM475.1 202.7h1.0v1.0h-1.0zM482.9 195.9h1.0v1.0h-1.0zM489.3 202.9h1.0v1.0h-1.0zM491.5 210.5h1.0v1.0h-1.0zM492.6 207.1h1.0v1.0h-1.0zM472.4 208.7h1.0v1.0h-1.0zM475.2 207.0h1.0v1.0h-1.0zM487.0 189.1h1.0v1.0h-1.0zM485.9 211.1h1.0v1.0h-1.0zM479.3 199.3h1.0v1.0h-1.0zM481.0 189.7h1.0v1.0h-1.0zM481.7 212.9h1.0v1.0h-1.0zM489.7 204.1h1.0v1.0h-1.0zM485.0 203.1h1.0v1.0h-1.0zM487.2 204.9h1.0v1.0h-1.0zM475.1 205.7h1.0v1.0h-1.0zM480.3 173.4h1.0v1.0h-1.0zM489.8 192.4h1.0v1.0h-1.0zM484.6 200.7h1.0v1.0h-1.0zM481.9 205.5h1.0v1.0h-1.0zM483.8 198.5h1.0v1.0h-1.0zM479.7 196.2h1.0v1.0h-1.0zM479.2 199.2h1.0v1.0h-1.0zM493.6 216.5h1.0v1.0h-1.0zM488.1 189.9h1.0v1.0h-1.0zM491.8 214.8h1.0v1.0h-1.0zM498.0 186.3h1.0v1.0h-1.0zM485.6 198.8h1.0v1.0h-1.0zM492.1 194.8h1.0v1.0h-1.0zM483.2 224.0h1.0v1.0h-1.0zM491.6 185.4h1.0v1.0h-1.0zM485.6 215.8h1.0v1.0h-1.0zM481.7 206.1h1.0v1.0h-1.0zM486.1 187.8h1.0v1.0h-1.0zM481.7 211.4h1.0v1.0h-1.0zM492.7 199.9h1.0v1.0h-1.0zM492.4 198.6h1.0v1.0h-1.0zM487.0 202.7h1.0v1.0h-1.0zM477.9 201.3h1.0v1.0h-1.0zM483.1 173.4h1.0v1.0h-1.0zM480.4 190.9h1.0v1.0h-1.0zM480.4 189.6h1.0v1.0h-1.0zM481.3 175.3h1.0v1.0h-1.0zM490.9 205.7h1.0v1.0h-1.0zM487.1 200.2h1.0v1.0h-1.0zM485.9 199.7h1.0v1.0h-1.0zM478.9 183.4h1.0v1.0h-1.0zM486.0 212.5h1.0v1.0h-1.0zM486.9 219.0h1.0v1.0h-1.0zM477.2 195.0h1.0v1.0h-1.0zM481.7 212.4h1.0v1.0h-1.0zM495.8 202.4h1.0v1.0h-1.0zM490.0 202.0h1.0v1.0h-1.0zM479.4 197.7h1.0v1.0h-1.0zM479.2 214.2h1.0v1.0h-1.0zM489.1 215.9h1.0v1.0h-1.0zM487.7 178.9h1.0v1.0h-1.0zM490.4 205.6h1.0v1.0h-1.0zM471.0 195.3h1.0v1.0h-1.0zM479.3 206.6h1.0v1.0h-1.0zM487.5 201.4h1.0v1.0h-1.0zM483.8 206.4h1.0v1.0h-1.0zM489.0 210.5h1.0v1.0h-1.0zM483.0 187.5h1.0v1.0h-1.0zM482.1 199.9h1.0v1.0h-1.0zM490.4 187.0h1.0v1.0h-1.0zM485.5 202.5h1.0v1.0h-1.0zM493.3 191.6h1.0v1.0h-1.0zM494.1 216.9h1.0v1.0h-1.0zM486.8 188.0h1.0v1.0h-1.0zM494.4 180.4h1.0v1.0h-1.0zM480.0 216.6h1.0v1.0h-1.0zM490.2 200.2h1.0v1.0h-1.0zM481.7 185.4h1.0v1.0h-1.0zM490.2 193.4h1.0v1.0h-1.0zM484.7 209.5h1.0v1.0h-1.0zM482.3 198.8h1.0v1.0h-1.0zM493.8 189.4h1.0v1.0h-1.0zM486.0 218.4h1.0v1.0h-1.0zM484.0 196.5h1.0v1.0h-1.0zM487.4 185.4h1.0v1.0h-1.0zM484.5 206.0h1.0v1.0h-1.0zM483.4 218.5h1.0v1.0h-1.0zM474.4 200.1h1.0v1.0h-1.0zM487.1 207.0h1.0v1.0h-1.0zM478.1 215.6h1.0v1.0h-1.0zM486.8 206.2h1.0v1.0h-1.0zM485.5 197.4h1.0v1.0h-1.0zM484.2 197.5h1.0v1.0h-1.0zM485.7 217.6h1.0v1.0h-1.0zM490.0 196.7h1.0v1.0h-1.0zM484.0 202.0h1.0v1.0h-1.0zM483.0 207.3h1.0v1.0h-1.0zM487.9 187.1h1.0v1.0h-1.0zM487.1 190.2h1.0v1.0h-1.0zM484.5 196.3h1.0v1.0h-1.0zM481.6 205.7h1.0v1.0h-1.0zM483.5 217.8h1.0v1.0h-1.0zM486.7 211.7h1.0v1.0h-1.0zM483.0 221.2h1.0v1.0h-1.0zM480.9 190.4h1.0v1.0h-1.0zM475.3 212.8h1.0v1.0h-1.0zM491.8 201.1h1.0v1.0h-1.0zM474.2 187.5h1.0v1.0h-1.0zM485.3 210.0h1.0v1.0h-1.0zM491.3 212.6h1.0v1.0h-1.0zM485.9 196.1h1.0v1.0h-1.0zM468.2 206.0h1.0v1.0h-1.0zM479.5 200.0h1.0v1.0h-1.0zM492.5 187.0h1.0v1.0h-1.0zM483.2 204.6h1.0v1.0h-1.0zM478.8 185.4h1.0v1.0h-1.0zM493.6 199.1h1.0v1.0h-1.0zM482.9 212.4h1.0v1.0h-1.0zM483.9 212.2h1.0v1.0h-1.0zM472.1 199.5h1.0v1.0h-1.0zM497.3 194.9h1.0v1.0h-1.0zM469.6 197.3h1.0v1.0h-1.0zM477.5 181.3h1.0v1.0h-1.0zM469.2 210.0h1.0v1.0h-1.0zM497.4 211.5h1.0v1.0h-1.0zM488.0 194.1h1.0v1.0h-1.0zM487.5 196.7h1.0v1.0h-1.0zM485.6 190.3h1.0v1.0h-1.0zM482.0 203.8h1.0v1.0h-1.0zM488.6 187.5h1.0v1.0h-1.0zM486.6 212.6h1.0v1.0h-1.0zM478.5 205.3h1.0v1.0h-1.0zM497.0 192.1h1.0v1.0h-1.0zM481.5 192.5h1.0v1.0h-1.0zM487.3 205.4h1.0v1.0h-1.0zM477.4 196.0h1.0v1.0h-1.0zM468.8 202.8h1.0v1.0h-1.0zM480.6 204.4h1.0v1.0h-1.0zM482.2 203.4h1.0v1.0h-1.0zM493.2 200.9h1.0v1.0h-1.0zM479.2 195.7h1.0v1.0h-1.0zM485.5 211.1h1.0v1.0h-1.0zM478.8 198.9h1.0v1.0h-1.0zM493.4 204.5h1.0v1.0h-1.0zM486.0 205.7h1.0v1.0h-1.0zM488.6 211.8h1.0v1.0h-1.0zM488.1 181.8h1.0v1.0h-1.0zM486.4 220.7h1.0v1.0h-1.0zM478.3 202.8h1.0v1.0h-1.0zM483.7 200.4h1.0v1.0h-1.0zM493.9 212.8h1.0v1.0h-1.0zM483.2 191.3h1.0v1.0h-1.0zM495.5 197.9h1.0v1.0h-1.0zM484.8 205.3h1.0v1.0h-1.0zM477.0 192.4h1.0v1.0h-1.0zM485.8 205.3h1.0v1.0h-1.0zM483.9 201.4h1.0v1.0h-1.0zM484.8 187.0h1.0v1.0h-1.0zM484.3 212.6h1.0v1.0h-1.0zM485.9 208.9h1.0v1.0h-1.0zM476.1 201.8h1.0v1.0h-1.0zM479.0 214.1h1.0v1.0h-1.0zM478.1 189.4h1.0v1.0h-1.0zM479.3 207.1h1.0v1.0h-1.0zM476.8 194.4h1.0v1.0h-1.0zM490.0 210.0h1.0v1.0h-1.0zM486.9 222.8h1.0v1.0h-1.0zM492.2 206.5h1.0v1.0h-1.0zM492.8 192.4h1.0v1.0h-1.0zM484.5 192.7h1.0v1.0h-1.0zM486.6 218.9h1.0v1.0h-1.0zM482.5 216.4h1.0v1.0h-1.0zM479.3 213.1h1.0v1.0h-1.0zM475.3 188.0h1.0v1.0h-1.0zM491.5 204.3h1.0v1.0h-1.0zM486.4 202.3h1.0v1.0h-1.0zM486.6 200.8h1.0v1.0h-1.0zM482.2 179.6h1.0v1.0h-1.0zM487.5 176.7h1.0v1.0h-1.0zM489.3 189.5h1.0v1.0h-1.0zM479.0 178.4h1.0v1.0h-1.0zM485.6 181.1h1.0v1.0h-1.0zM487.5 177.5h1.0v1.0h-1.0zM486.8 181.0h1.0v1.0h-1.0zM486.6 188.4h1.0v1.0h-1.0zM487.6 173.9h1.0v1.0h-1.0zM479.4 183.8h1.0v1.0h-1.0zM485.3 178.0h1.0v1.0h-1.0zM480.4 179.5h1.0v1.0h-1.0zM486.6 177.7h1.0v1.0h-1.0zM485.3 185.3h1.0v1.0h-1.0zM490.8 183.6h1.0v1.0h-1.0zM486.2 174.5h1.0v1.0h-1.0zM490.8 188.2h1.0v1.0h-1.0zM493.2 186.6h1.0v1.0h-1.0zM488.3 182.8h1.0v1.0h-1.0zM486.9 187.0h1.0v1.0h-1.0zM485.7 191.3h1.0v1.0h-1.0zM490.8 179.5h1.0v1.0h-1.0zM487.0 173.3h1.0v1.0h-1.0zM483.4 179.6h1.0v1.0h-1.0zM498.9 177.1h1.0v1.0h-1.0zM491.5 181.4h1.0v1.0h-1.0zM485.6 184.0h1.0v1.0h-1.0zM477.3 185.5h1.0v1.0h-1.0zM496.4 182.4h1.0v1.0h-1.0zM486.7 181.8h1.0v1.0h-1.0zM490.2 178.7h1.0v1.0h-1.0zM487.6 183.4h1.0v1.0h-1.0zM485.3 182.9h1.0v1.0h-1.0zM488.6 184.4h1.0v1.0h-1.0zM482.2 178.4h1.0v1.0h-1.0zM484.9 186.7h1.0v1.0h-1.0zM488.2 173.1h1.0v1.0h-1.0zM480.8 190.3h1.0v1.0h-1.0zM488.6 174.8h1.0v1.0h-1.0zM482.6 181.7h1.0v1.0h-1.0zM493.9 188.8h1.0v1.0h-1.0zM485.2 179.6h1.0v1.0h-1.0zM496.3 176.3h1.0v1.0h-1.0zM494.6 182.6h1.0v1.0h-1.0zM487.5 187.2h1.0v1.0h-1.0zM489.3 177.0h1.0v1.0h-1.0zM479.6 181.1h1.0v1.0h-1.0zM489.5 187.6h1.0v1.0h-1.0zM474.3 187.4h1.0v1.0h-1.0zM490.0 188.3h1.0v1.0h-1.0zM490.9 182.0h1.0v1.0h-1.0zM489.1 182.9h1.0v1.0h-1.0zM484.0 180.5h1.0v1.0h-1.0zM487.6 178.8h1.0v1.0h-1.0zM479.9 174.1h1.0v1.0h-1.0zM489.5 183.5h1.0v1.0h-1.0zM487.5 175.4h1.0v1.0h-1.0zM491.1 179.1h1.0v1.0h-1.0zM476.9 188.5h1.0v1.0h-1.0zM479.8 191.8h1.0v1.0h-1.0zM489.6 178.9h1.0v1.0h-1.0zM475.6 177.6h1.0v1.0h-1.0zM494.2 187.5h1.0v1.0h-1.0zM488.3 172.8h1.0v1.0h-1.0zM485.2 179.6h1.0v1.0h-1.0zM489.2 180.4h1.0v1.0h-1.0zM488.7 173.2h1.0v1.0h-1.0zM483.9 187.9h1.0v1.0h-1.0zM479.9 185.4h1.0v1.0h-1.0zM498.2 184.1h1.0v1.0h-1.0zM473.5 194.8h1.0v1.0h-1.0zM472.1 191.3h1.0v1.0h-1.0zM476.3 194.8h1.0v1.0h-1.0zM480.9 190.7h1.0v1.0h-1.0zM482.7 193.8h1.0v1.0h-1.0zM476.1 186.2h1.0v1.0h-1.0zM484.7 188.4h1.0v1.0h-1.0zM478.7 189.6h1.0v1.0h-1.0zM476.1 183.8h1.0v1.0h-1.0zM477.1 189.6h1.0v1.0h-1.0zM480.4 188.0h1.0v1.0h-1.0zM472.9 185.9h1.0v1.0h-1.0zM477.4 191.0h1.0v1.0h-1.0zM479.6 188.5h1.0v1.0h-1.0zM479.1 190.6h1.0v1.0h-1.0zM482.4 189.8h1.0v1.0h-1.0zM477.9 192.2h1.0v1.0h-1.0zM481.1 186.5h1.0v1.0h-1.0zM476.1 188.9h1.0v1.0h-1.0zM471.3 195.0h1.0v1.0h-1.0zM480.6 190.1h1.0v1.0h-1.0zM487.3 194.9h1.0v1.0h-1.0zM483.4 196.0h1.0v1.0h-1.0zM480.1 184.5h1.0v1.0h-1.0zM482.0 191.6h1.0v1.0h-1.0zM474.0 190.2h1.0v1.0h-1.0zM479.7 193.8h1.0v1.0h-1.0zM478.0 188.0h1.0v1.0h-1.0zM479.7 187.1h1.0v1.0h-1.0zM477.3 192.9h1.0v1.0h-1.0zM473.3 191.4h1.0v1.0h-1.0zM471.8 186.4h1.0v1.0h-1.0zM473.9 189.7h1.0v1.0h-1.0zM479.6 189.8h1.0v1.0h-1.0zM480.2 190.4h1.0v1.0h-1.0zM476.9 191.9h1.0v1.0h-1.0zM476.8 190.5h1.0v1.0h-1.0zM480.5 187.8h1.0v1.0h-1.0zM480.9 185.7h1.0v1.0h-1.0zM476.9 183.3h1.0v1.0h-1.0zM476.0 196.1h1.0v1.0h-1.0zM478.5 194.9h1.0v1.0h-1.0zM473.2 186.1h1.0v1.0h-1.0zM478.9 193.2h1.0v1.0h-1.0zM479.9 183.5h1.0v1.0h-1.0zM479.0 189.7h1.0v1.0h-1.0zM477.9 191.8h1.0v1.0h-1.0zM476.7 183.5h1.0v1.0h-1.0zM474.4 184.4h1.0v1.0h-1.0zM473.7 189.5h1.0v1.0h-1.0zM481.3 187.2h1.0v1.0h-1.0zM475.3 185.6h1.0v1.0h-1.0zM472.5 190.3h1.0v1.0h-1.0zM476.1 189.1h1.0v1.0h-1.0zM474.7 191.9h1.0v1.0h-1.0zM474.0 192.1h1.0v1.0h-1.0zM475.6 193.0h1.0v1.0h-1.0zM474.9 191.7h1.0v1.0h-1.0zM478.8 189.7h1.0v1.0h-1.0zM482.3 190.7h1.0v1.0h-1.0zM474.9 192.7h1.0v1.0h-1.0zM475.1 187.9h1.0v1.0h-1.0zM477.5 190.7h1.0v1.0h-1.0zM482.5 183.3h1.0v1.0h-1.0zM476.7 194.4h1.0v1.0h-1.0zM477.0 191.2h1.0v1.0h-1.0zM482.0 185.2h1.0v1.0h-1.0zM477.6 193.1h1.0v1.0h-1.0zM475.8 183.2h1.0v1.0h-1.0zM474.6 190.8h1.0v1.0h-1.0zM478.1 197.1h1.0v1.0h-1.0zM481.4 184.0h1.0v1.0h-1.0zM480.5 193.5h1.0v1.0h-1.0zM482.2 189.4h1.0v1.0h-1.0zM475.9 190.6h1.0v1.0h-1.0zM482.0 192.4h1.0v1.0h-1.0zM482.5 193.0h1.0v1.0h-1.0zM475.8 186.1h1.0v1.0h-1.0zM482.9 184.1h1.0v1.0h-1.0zM476.5 188.8h1.0v1.0h-1.0zM474.8 187.8h1.0v1.0h-1.0zM477.5 199.2h1.0v1.0h-1.0zM477.3 188.0h1.0v1.0h-1.0zM477.9 193.6h1.0v1.0h-1.0zM475.1 188.4h1.0v1.0h-1.0zM472.4 192.7h1.0v1.0h-1.0zM479.5 195.8h1.0v1.0h-1.0zM474.0 198.4h1.0v1.0h-1.0zM480.1 188.9h1.0v1.0h-1.0zM476.4 188.8h1.0v1.0h-1.0zM474.0 193.0h1.0v1.0h-1.0zM475.7 187.2h1.0v1.0h-1.0zM479.0 190.4h1.0v1.0h-1.0zM475.8 189.1h1.0v1.0h-1.0zM476.1 195.2h1.0v1.0h-1.0zM480.4 187.2h1.0v1.0h-1.0zM477.4 195.3h1.0v1.0h-1.0zM476.7 196.9h1.0v1.0h-1.0zM478.8 192.6h1.0v1.0h-1.0zM471.4 193.3h1.0v1.0h-1.0zM478.5 192.3h1.0v1.0h-1.0zM478.9 192.0h1.0v1.0h-1.0zM476.0 193.5h1.0v1.0h-1.0zM477.7 185.9h1.0v1.0h-1.0zM474.5 190.6h1.0v1.0h-1.0zM478.5 181.5h1.0v1.0h-1.0zM471.5 194.1h1.0v1.0h-1.0zM477.5 201.0h1.0v1.0h-1.0zM473.0 189.0h1.0v1.0h-1.0zM475.7 192.2h1.0v1.0h-1.0zM450.8 177.7h1.0v1.0h-1.0zM453.7 174.0h1.0v1.0h-1.0zM455.0 170.5h1.0v1.0h-1.0zM451.7 163.5h1.0v1.0h-1.0zM453.4 173.6h1.0v1.0h-1.0zM456.1 160.0h1.0v1.0h-1.0zM458.2 168.7h1.0v1.0h-1.0zM449.9 165.2h1.0v1.0h-1.0zM451.8 176.5h1.0v1.0h-1.0zM456.2 166.5h1.0v1.0h-1.0zM452.2 165.8h1.0v1.0h-1.0zM452.6 166.9h1.0v1.0h-1.0zM496.6 212.3h1.0v1.0h-1.0zM492.9 218.1h1.0v1.0h-1.0zM491.2 171.8h1.0v1.0h-1.0zM466.8 174.9h1.0v1.0h-1.0zM475.3 196.7h1.0v1.0h-1.0zM497.9 200.1h1.0v1.0h-1.0zM482.2 179.5h1.0v1.0h-1.0zM504.3 210.2h1.0v1.0h-1.0zM478.6 167.8h1.0v1.0h-1.0zM504.3 180.4h1.0v1.0h-1.0zM498.9 172.0h1.0v1.0h-1.0zM491.1 186.4h1.0v1.0h-1.0zM500.6 182.8h1.0v1.0h-1.0zM469.0 176.9h1.0v1.0h-1.0zM490.7 205.9h1.0v1.0h-1.0z" fill="#1a1a1a"/>
<text x="287.68" y="25.80" font-size="8.29" textLength="18.32" lengthAdjust="spacingAndGlyphs" font-weight="bold" stroke="#000" stroke-width="0.05">0.0%</text>
<text x="358.18" y="25.90" font-size="8.00" textLength="18.21" lengthAdjust="spacingAndGlyphs" font-weight="bold" stroke="#000" stroke-width="0.05">0.0%</text>
<text x="354.51" y="73.30" font-size="7.14" textLength="23.30" lengthAdjust="spacingAndGlyphs" font-weight="bold" stroke="#000" stroke-width="0.05">99.3%</text>
<text x="420.01" y="26.80" font-size="7.57" textLength="23.09" lengthAdjust="spacingAndGlyphs" font-weight="bold" stroke="#000" stroke-width="0.05">67.4%</text>
<text x="491.54" y="26.30" font-size="6.86" textLength="21.55" lengthAdjust="spacingAndGlyphs" font-weight="bold" stroke="#000" stroke-width="0.05">14.6%</text>
<text x="491.81" y="101.60" font-size="7.86" textLength="18.58" lengthAdjust="spacingAndGlyphs" font-weight="bold" stroke="#000" stroke-width="0.05">6.7%</text>
<text x="286.16" y="150.00" font-size="7.86" textLength="22.64" lengthAdjust="spacingAndGlyphs" font-weight="bold" stroke="#000" stroke-width="0.05">86.9%</text>
<text x="359.82" y="150.00" font-size="7.86" textLength="17.97" lengthAdjust="spacingAndGlyphs" font-weight="bold" stroke="#000" stroke-width="0.05">9.0%</text>
<text x="359.82" y="223.00" font-size="7.43" textLength="17.97" lengthAdjust="spacingAndGlyphs" font-weight="bold" stroke="#000" stroke-width="0.05">2.6%</text>
<text x="420.20" y="149.20" font-size="7.14" textLength="18.60" lengthAdjust="spacingAndGlyphs" font-weight="bold" stroke="#000" stroke-width="0.05">3.1%</text>
<text x="489.15" y="149.20" font-size="7.14" textLength="19.36" lengthAdjust="spacingAndGlyphs" font-weight="bold" stroke="#000" stroke-width="0.05">8.6%</text>
<text x="489.47" y="225.80" font-size="8.14" textLength="23.34" lengthAdjust="spacingAndGlyphs" font-weight="bold" stroke="#000" stroke-width="0.05">73.6%</text>
<line x1="254.60" y1="55.20" x2="254.60" y2="160.00" stroke="#000" stroke-width="1.4"/>
<path d="M254.6 46.2 L250.6 56.2 L258.6 56.2Z" fill="#000"/>
<text x="259.60" y="206.23" font-size="18.00" textLength="42.32" lengthAdjust="spacingAndGlyphs" transform="rotate(-90 259.60 206.23)" stroke="#000" stroke-width="0.6">CD25</text>
<text x="300.39" y="255.30" font-size="17.29" textLength="43.19" lengthAdjust="spacingAndGlyphs" stroke="#000" stroke-width="0.6">CFSE</text>
<line x1="347.70" y1="249.00" x2="493.70" y2="249.00" stroke="#000" stroke-width="1.4"/>
<path d="M503.2 249 L492.7 244.8 L492.7 253.2Z" fill="#000"/>
<path d="M69 283.8H194.4V417.7H69Z" fill="none" stroke="#000" stroke-width="1.6"/>
<line x1="65.20" y1="283.80" x2="69.00" y2="283.80" stroke="#000" stroke-width="1.3"/>
<text x="62.30" y="286.00" font-size="6.2" text-anchor="end" font-weight="bold">70</text>
<line x1="65.20" y1="306.12" x2="69.00" y2="306.12" stroke="#000" stroke-width="1.3"/>
<text x="62.30" y="308.32" font-size="6.2" text-anchor="end" font-weight="bold">60</text>
<line x1="65.20" y1="328.43" x2="69.00" y2="328.43" stroke="#000" stroke-width="1.3"/>
<text x="62.30" y="330.63" font-size="6.2" text-anchor="end" font-weight="bold">50</text>
<line x1="65.20" y1="350.75" x2="69.00" y2="350.75" stroke="#000" stroke-width="1.3"/>
<text x="62.30" y="352.95" font-size="6.2" text-anchor="end" font-weight="bold">40</text>
<line x1="65.20" y1="373.07" x2="69.00" y2="373.07" stroke="#000" stroke-width="1.3"/>
<text x="62.30" y="375.27" font-size="6.2" text-anchor="end" font-weight="bold">30</text>
<line x1="65.20" y1="395.38" x2="69.00" y2="395.38" stroke="#000" stroke-width="1.3"/>
<text x="62.30" y="397.58" font-size="6.2" text-anchor="end" font-weight="bold">20</text>
<line x1="65.20" y1="417.70" x2="69.00" y2="417.70" stroke="#000" stroke-width="1.3"/>
<text x="62.30" y="419.90" font-size="6.2" text-anchor="end" font-weight="bold">10</text>
<line x1="69.00" y1="417.70" x2="69.00" y2="420.70" stroke="#000" stroke-width="1.3"/>
<text x="69.00" y="428.70" font-size="6.2" text-anchor="middle" font-weight="bold">0</text>
<line x1="91.70" y1="417.70" x2="91.70" y2="420.70" stroke="#000" stroke-width="1.3"/>
<text x="91.70" y="428.70" font-size="6.2" text-anchor="middle" font-weight="bold">2</text>
<line x1="114.40" y1="417.70" x2="114.40" y2="420.70" stroke="#000" stroke-width="1.3"/>
<text x="114.40" y="428.70" font-size="6.2" text-anchor="middle" font-weight="bold">4</text>
<line x1="137.10" y1="417.70" x2="137.10" y2="420.70" stroke="#000" stroke-width="1.3"/>
<text x="137.10" y="428.70" font-size="6.2" text-anchor="middle" font-weight="bold">6</text>
<line x1="159.80" y1="417.70" x2="159.80" y2="420.70" stroke="#000" stroke-width="1.3"/>
<text x="159.80" y="428.70" font-size="6.2" text-anchor="middle" font-weight="bold">8</text>
<line x1="182.50" y1="417.70" x2="182.50" y2="420.70" stroke="#000" stroke-width="1.3"/>
<text x="182.50" y="428.70" font-size="6.2" text-anchor="middle" font-weight="bold">10</text>
<polyline points="75.81,404.31 97.38,361.24 125.75,334.46 182.50,289.38" fill="none" stroke="#000" stroke-width="1.6"/>
<polyline points="75.81,416.58 97.38,355.66 125.75,347.18 182.50,304.33" fill="none" stroke="#000" stroke-width="1.6"/>
<circle cx="75.81" cy="416.58" r="3.0" fill="#000"/>
<circle cx="97.38" cy="355.66" r="3.0" fill="#000"/>
<circle cx="125.75" cy="347.18" r="3.0" fill="#000"/>
<circle cx="182.50" cy="304.33" r="3.0" fill="#000"/>
<rect x="73.21" y="401.71" width="5.2" height="5.2" fill="#fff" stroke="#000" stroke-width="1.4"/>
<rect x="94.78" y="358.64" width="5.2" height="5.2" fill="#fff" stroke="#000" stroke-width="1.4"/>
<rect x="123.15" y="331.86" width="5.2" height="5.2" fill="#fff" stroke="#000" stroke-width="1.4"/>
<rect x="179.90" y="286.78" width="5.2" height="5.2" fill="#fff" stroke="#000" stroke-width="1.4"/>
<line x1="121.80" y1="371.80" x2="151.20" y2="371.80" stroke="#000" stroke-width="1.6"/>
<rect x="133.9" y="369.2" width="5.2" height="5.2" fill="#fff" stroke="#000" stroke-width="1.4"/>
<line x1="121.80" y1="388.70" x2="151.20" y2="388.70" stroke="#000" stroke-width="1.6"/>
<circle cx="136.5" cy="388.7" r="3.0" fill="#000"/>
<text x="155.62" y="373.20" font-size="9.42" textLength="13.89" lengthAdjust="spacingAndGlyphs" font-weight="bold" stroke="#000" stroke-width="0.15">Tc1</text>
<text x="155.62" y="390.50" font-size="9.42" textLength="16.81" lengthAdjust="spacingAndGlyphs" font-weight="bold" stroke="#000" stroke-width="0.15">Treg</text>
<text x="41.70" y="403.33" font-size="13.67" textLength="108.78" lengthAdjust="spacingAndGlyphs" transform="rotate(-90 41.70 403.33)" stroke="#000" stroke-width="0.6">% DNA degradation</text>
<text x="78.00" y="446.60" font-size="12.69" textLength="107.13" lengthAdjust="spacingAndGlyphs" stroke="#000" stroke-width="0.6">effector–target ratio</text>
<rect x="309.2" y="300.8" width="96.19999999999999" height="108.5" fill="none" stroke="#000" stroke-width="1.5"/>
<rect x="416.1" y="300.8" width="97.19999999999993" height="108.5" fill="none" stroke="#000" stroke-width="1.5"/>
<line x1="305.40" y1="319.20" x2="309.20" y2="319.20" stroke="#000" stroke-width="1.3"/>
<line x1="412.80" y1="319.20" x2="416.10" y2="319.20" stroke="#000" stroke-width="1.3"/>
<line x1="305.40" y1="343.10" x2="309.20" y2="343.10" stroke="#000" stroke-width="1.3"/>
<line x1="412.80" y1="343.10" x2="416.10" y2="343.10" stroke="#000" stroke-width="1.3"/>
<line x1="305.40" y1="366.80" x2="309.20" y2="366.80" stroke="#000" stroke-width="1.3"/>
<line x1="412.80" y1="366.80" x2="416.10" y2="366.80" stroke="#000" stroke-width="1.3"/>
<line x1="305.40" y1="390.50" x2="309.20" y2="390.50" stroke="#000" stroke-width="1.3"/>
<line x1="412.80" y1="390.50" x2="416.10" y2="390.50" stroke="#000" stroke-width="1.3"/>
<text x="269.85" y="323.20" font-size="8.69" textLength="33.49" lengthAdjust="spacingAndGlyphs" stroke="#000" stroke-width="0.6">control</text>
<text x="245.25" y="347.40" font-size="10.43" textLength="56.44" lengthAdjust="spacingAndGlyphs" stroke="#000" stroke-width="0.6">+ DEX 1μM</text>
<text x="249.03" y="371.00" font-size="11.45" textLength="53.90" lengthAdjust="spacingAndGlyphs" stroke="#000" stroke-width="0.6">+ Tc1 (1:1)</text>
<text x="247.27" y="394.50" font-size="11.01" textLength="55.60" lengthAdjust="spacingAndGlyphs" stroke="#000" stroke-width="0.6">+ Treg (1:1)</text>
<text x="335.28" y="292.10" font-size="12.14" textLength="41.16" lengthAdjust="spacingAndGlyphs" stroke="#000" stroke-width="0.6">6 hours</text>
<text x="442.08" y="292.10" font-size="12.14" textLength="48.48" lengthAdjust="spacingAndGlyphs" stroke="#000" stroke-width="0.6">24 hours</text>
<line x1="309.20" y1="409.30" x2="309.20" y2="411.80" stroke="#000" stroke-width="1.2"/>
<text x="309.20" y="417.50" font-size="6.2" text-anchor="middle" font-weight="bold">0</text>
<line x1="333.25" y1="409.30" x2="333.25" y2="411.80" stroke="#000" stroke-width="1.2"/>
<text x="333.25" y="417.50" font-size="6.2" text-anchor="middle" font-weight="bold">2.5</text>
<line x1="357.30" y1="409.30" x2="357.30" y2="411.80" stroke="#000" stroke-width="1.2"/>
<text x="357.30" y="417.50" font-size="6.2" text-anchor="middle" font-weight="bold">5</text>
<line x1="381.35" y1="409.30" x2="381.35" y2="411.80" stroke="#000" stroke-width="1.2"/>
<text x="381.35" y="417.50" font-size="6.2" text-anchor="middle" font-weight="bold">7.5</text>
<line x1="405.40" y1="409.30" x2="405.40" y2="411.80" stroke="#000" stroke-width="1.2"/>
<text x="405.40" y="417.50" font-size="6.2" text-anchor="middle" font-weight="bold">10</text>
<line x1="416.10" y1="409.30" x2="416.10" y2="411.80" stroke="#000" stroke-width="1.2"/>
<text x="416.10" y="417.50" font-size="6.2" text-anchor="middle" font-weight="bold">0</text>
<line x1="448.50" y1="409.30" x2="448.50" y2="411.80" stroke="#000" stroke-width="1.2"/>
<text x="448.50" y="417.50" font-size="6.2" text-anchor="middle" font-weight="bold">10</text>
<line x1="480.90" y1="409.30" x2="480.90" y2="411.80" stroke="#000" stroke-width="1.2"/>
<text x="480.90" y="417.50" font-size="6.2" text-anchor="middle" font-weight="bold">20</text>
<line x1="513.30" y1="409.30" x2="513.30" y2="411.80" stroke="#000" stroke-width="1.2"/>
<text x="513.30" y="417.50" font-size="6.2" text-anchor="middle" font-weight="bold">30</text>
<text x="361.57" y="436.40" font-size="12.00" textLength="102.28" lengthAdjust="spacingAndGlyphs" stroke="#000" stroke-width="0.6">% CD4-gated cells</text>
<rect x="309.20" y="314.20" width="22.60" height="5.00" fill="#000"/>
<rect x="309.20" y="319.20" width="10.50" height="4.60" fill="#000"/>
<rect x="310.40" y="320.40" width="4.73" height="2.00" fill="#fff"/>
<rect x="309.20" y="337.40" width="96.20" height="5.60" fill="#000"/>
<rect x="309.20" y="343.00" width="17.80" height="5.20" fill="#000"/>
<rect x="310.40" y="344.20" width="6.23" height="2.60" fill="#fff"/>
<rect x="309.20" y="361.50" width="20.80" height="5.50" fill="#000"/>
<rect x="309.20" y="367.00" width="11.30" height="4.50" fill="#000"/>
<rect x="310.40" y="368.20" width="5.09" height="1.90" fill="#fff"/>
<rect x="309.20" y="386.30" width="13.20" height="4.80" fill="#000"/>
<rect x="309.20" y="391.10" width="7.40" height="4.70" fill="#000"/>
<rect x="310.40" y="392.30" width="2.22" height="2.10" fill="#fff"/>
<rect x="416.10" y="314.20" width="10.00" height="4.40" fill="#000"/>
<rect x="416.10" y="318.60" width="12.80" height="4.40" fill="#000"/>
<rect x="417.30" y="319.80" width="5.76" height="1.80" fill="#fff"/>
<rect x="416.10" y="336.90" width="19.00" height="6.00" fill="#000"/>
<rect x="416.10" y="342.00" width="95.40" height="5.20" fill="url(#hat2)"/>
<rect x="416.10" y="362.40" width="8.40" height="4.60" fill="#000"/>
<rect x="416.10" y="367.00" width="12.80" height="4.20" fill="#000"/>
<rect x="417.30" y="368.20" width="6.40" height="1.60" fill="#fff"/>
<rect x="416.10" y="386.00" width="9.90" height="4.40" fill="#000"/>
<rect x="416.10" y="390.40" width="12.80" height="4.40" fill="#000"/>
<rect x="417.30" y="391.60" width="3.84" height="1.80" fill="#fff"/>
<rect x="339.30" y="368.70" width="6.20" height="6.50" fill="#000"/>
<text x="349.57" y="374.80" font-size="9.50" textLength="51.54" lengthAdjust="spacingAndGlyphs" stroke="#000" stroke-width="0.6">% apoptosis</text>
<rect x="339.30" y="381.50" width="6.20" height="6.10" fill="#000"/>
<rect x="340.60" y="384.60" width="2.20" height="1.80" fill="#fff"/>
<text x="349.58" y="387.60" font-size="9.06" textLength="45.25" lengthAdjust="spacingAndGlyphs" stroke="#000" stroke-width="0.6">% necrosis</text>
<rect x="445.10" y="369.80" width="6.30" height="6.30" fill="#000"/>
<text x="455.17" y="375.50" font-size="10.07" textLength="51.74" lengthAdjust="spacingAndGlyphs" stroke="#000" stroke-width="0.6">% apoptosis</text>
<rect x="445.10" y="381.90" width="6.30" height="5.90" fill="#000"/>
<rect x="446.40" y="383.20" width="2.60" height="3.20" fill="#fff"/>
<text x="455.17" y="387.80" font-size="9.64" textLength="46.67" lengthAdjust="spacingAndGlyphs" stroke="#000" stroke-width="0.6">% necrosis</text>
<defs>
<filter id="bl1" x="-30%" y="-80%" width="160%" height="260%"><feGaussianBlur stdDeviation="0.9"/></filter>
<filter id="bl2" x="-30%" y="-30%" width="160%" height="160%"><feGaussianBlur stdDeviation="1.6"/></filter>
<filter id="bl3" x="-50%" y="-50%" width="200%" height="200%"><feGaussianBlur stdDeviation="0.6"/></filter>
<filter id="grain" x="0" y="0" width="100%" height="100%">
<feTurbulence type="fractalNoise" baseFrequency="0.9" numOctaves="1" seed="3" result="n"/>
<feColorMatrix in="n" type="matrix" values="0 0 0 0 0  0 0 0 0 0  0 0 0 0 0  0 0 0 0.5 0" result="a"/>
<feComposite in="a" in2="SourceGraphic" operator="in"/>
</filter>
<clipPath id="gclip"><rect x="56.4" y="496.9" width="137.8" height="84.1"/></clipPath>
<linearGradient id="l1u" x1="0" y1="0" x2="0" y2="1"><stop offset="0" stop-color="#3e3e3e"/><stop offset="1" stop-color="#707070"/></linearGradient>
<linearGradient id="l1d" x1="0" y1="0" x2="0" y2="1"><stop offset="0" stop-color="#7a7a7a"/><stop offset="1" stop-color="#555"/></linearGradient>
<linearGradient id="l2u" x1="0" y1="0" x2="0" y2="1"><stop offset="0" stop-color="#333"/><stop offset="1" stop-color="#555"/></linearGradient>
<linearGradient id="lx" x1="0" y1="0" x2="0" y2="1"><stop offset="0" stop-color="#262626"/><stop offset="1" stop-color="#484848"/></linearGradient>
</defs>
<g clip-path="url(#gclip)">
<rect x="56.4" y="496.9" width="137.79999999999998" height="84.10000000000002" fill="#1e1e1e"/>
<g filter="url(#bl2)">
<rect x="66" y="496.9" width="16" height="17.100000000000023" fill="url(#l1u)"/>
<rect x="66" y="521" width="16" height="16.899999999999977" fill="url(#l1d)"/>
<rect x="86.3" y="496.9" width="16" height="18.100000000000023" fill="url(#l2u)"/>
<rect x="86.3" y="520" width="16" height="17.899999999999977" fill="#4c4c4c"/>
<rect x="106.5" y="508" width="17" height="29.899999999999977" fill="url(#lx)"/>
<rect x="127.5" y="508" width="17" height="29.899999999999977" fill="url(#lx)"/>
<rect x="66.0" y="538.9" width="15.99999999999999" height="21.100000000000023" fill="#3a3a3a"/>
<rect x="66.0" y="564" width="15.99999999999999" height="17.0" fill="#666"/>
<rect x="86.3" y="538.9" width="16.099999999999998" height="21.100000000000023" fill="#3c3c3c"/>
<rect x="86.3" y="564" width="16.099999999999998" height="17.0" fill="#5e5e5e"/>
<rect x="106.39999999999999" y="538.9" width="17.599999999999998" height="21.100000000000023" fill="#3a3a3a"/>
<rect x="106.39999999999999" y="564" width="17.599999999999998" height="17.0" fill="#5a5a5a"/>
<rect x="127.39999999999999" y="538.9" width="17.199999999999992" height="21.100000000000023" fill="#383838"/>
<rect x="127.39999999999999" y="564" width="17.199999999999992" height="17.0" fill="#585858"/>
</g>
<g filter="url(#bl3)" stroke-width="1.1" fill="none">
<path d="M66.3 496.9V514M81.8 496.9V514" stroke="#8a8a8a"/>
<path d="M86.6 496.9V515M102.2 496.9V515" stroke="#6a6a6a"/>
<path d="M66.30000000000001 538.9V559M81.69999999999999 538.9V559" stroke="#666"/>
<path d="M86.60000000000001 538.9V559M102.1 538.9V559" stroke="#666"/>
<path d="M106.7 538.9V559M123.69999999999999 538.9V559" stroke="#666"/>
<path d="M127.7 538.9V559M144.29999999999998 538.9V559" stroke="#666"/>
</g>
<g filter="url(#bl1)">
<path d="M65.6 513.2H82.4V519.5Q82.4 522.6 79.4 522.6H68.6Q65.6 522.6 65.6 519.5Z" fill="#f4f4f4"/>
<path d="M85.9 514.2H102.8V518.6Q102.8 521.2 100 521.2H88.7Q85.9 521.2 85.9 518.6Z" fill="#8c8c8c"/>
<path d="M86.4 513.8V519M102.3 513.8V519" stroke="#ddd" stroke-width="1.4"/>
<path d="M65.6 558.4H82.4V563.2Q82.4 566 79.4 566H68.6Q65.6 566 65.6 563.2Z" fill="#f4f4f4"/>
<path d="M85.9 559H102.8V562.8Q102.8 565.4 100 565.4H88.7Q85.9 565.4 85.9 562.8Z" fill="#8a8a8a"/>
<path d="M86.4 558.5V564M102.3 558.5V564" stroke="#ddd" stroke-width="1.4"/>
<path d="M105.9 558.4H124.6V563.2Q124.6 566 121.6 566H108.9Q105.9 566 105.9 563.2Z" fill="#f4f4f4"/>
<path d="M126.9 558.8H145.2V563.2Q145.2 565.8 142.2 565.8H129.9Q126.9 565.8 126.9 563.2Z" fill="#e4e4e4"/>
</g>
<g fill="#fff">
<rect x="66.6" y="514.3" width="14.8" height="6.8" rx="2.2"/>
<rect x="66.6" y="559.3" width="14.8" height="5.6" rx="2.2"/>
<rect x="107" y="559.3" width="16.4" height="5.6" rx="2.2"/>
<rect x="128" y="559.6" width="16" height="5" rx="2.2" fill="#f4f4f4"/>
</g>
<g filter="url(#bl3)">
<rect x="171.3" y="498.7" width="10.8" height="2.2" fill="#4a4a4a"/>
<rect x="171.3" y="502.5" width="10.8" height="2.2" fill="#555"/>
<rect x="171.3" y="506.7" width="10.8" height="2.2" fill="#5a5a5a"/>
<rect x="171.3" y="512.4" width="10.8" height="2.2" fill="#999"/>
<rect x="171.3" y="519.6999999999999" width="10.8" height="2.2" fill="#aaa"/>
<rect x="171.3" y="529.9" width="10.8" height="2.2" fill="#bbb"/>
<rect x="171.3" y="540.1" width="10.8" height="2.2" fill="#555"/>
<rect x="171.3" y="544.6999999999999" width="10.8" height="2.2" fill="#555"/>
<rect x="171.3" y="550.4" width="10.8" height="2.2" fill="#5a5a5a"/>
<rect x="171.3" y="556.1999999999999" width="10.8" height="2.2" fill="#666"/>
<rect x="171.3" y="562.9" width="10.8" height="2.2" fill="#888"/>
<rect x="171.3" y="571.6" width="10.8" height="2.2" fill="#777"/>
</g>
<rect x="155" y="511" width="3" height="2" fill="#555"/>
<rect x="56.4" y="496.9" width="137.79999999999998" height="84.10000000000002" fill="#888" filter="url(#grain)" opacity="0.35"/>
</g>
<rect x="56.4" y="537.1999999999999" width="137.79999999999998" height="1.5" fill="#f2f2f2"/>
<text x="24.53" y="521.50" font-size="10.57" textLength="30.30" lengthAdjust="spacingAndGlyphs" stroke="#000" stroke-width="0.6">Foxp3</text>
<text x="24.93" y="565.20" font-size="10.72" textLength="29.27" lengthAdjust="spacingAndGlyphs" stroke="#000" stroke-width="0.4">HPRT</text>
<text x="77.00" y="640.81" font-size="10.00" textLength="52.53" lengthAdjust="spacingAndGlyphs" transform="rotate(-90 77.00 640.81)" stroke="#000" stroke-width="0.6">CD4+CD25</text>
<text x="76.4" y="588.0" font-size="9" transform="rotate(-90 76.4 588.0)" stroke="#000" stroke-width="0.35">+</text>
<text x="97.80" y="642.02" font-size="10.00" textLength="53.45" lengthAdjust="spacingAndGlyphs" transform="rotate(-90 97.80 642.02)" stroke="#000" stroke-width="0.6">CD4+CD25</text>
<line x1="93.60" y1="582.40" x2="93.60" y2="587.20" stroke="#000" stroke-width="1.3"/>
<text x="117.40" y="638.05" font-size="9.57" textLength="53.61" lengthAdjust="spacingAndGlyphs" transform="rotate(-90 117.40 638.05)" stroke="#000" stroke-width="0.6">CD8+ Treg</text>
<text x="139.00" y="633.34" font-size="10.71" textLength="47.43" lengthAdjust="spacingAndGlyphs" transform="rotate(-90 139.00 633.34)" stroke="#000" stroke-width="0.6">CD8+ Tc1</text>
<text x="162.70" y="630.11" font-size="10.14" textLength="43.73" lengthAdjust="spacingAndGlyphs" transform="rotate(-90 162.70 630.11)" stroke="#000" stroke-width="0.6">no cDNA</text>
<rect x="239.7" y="497.3" width="80.69999999999999" height="76.80000000000001" fill="none" stroke="#111" stroke-width="1.3"/>
<line x1="295.30" y1="497.30" x2="295.30" y2="574.10" stroke="#000" stroke-width="1.3"/>
<line x1="239.70" y1="542.90" x2="320.40" y2="542.90" stroke="#000" stroke-width="1.3"/>
<path d="M239.70 574.1v2M239.7 574.10h-2M259.88 574.1v2M239.7 554.90h-2M280.05 574.1v2M239.7 535.70h-2M300.22 574.1v2M239.7 516.50h-2M320.40 574.1v2M239.7 497.30h-2" stroke="#000" stroke-width="0.9" fill="none"/>
<text x="239.70" y="579.70" font-size="4.6" text-anchor="middle" font-weight="bold" stroke="#000" stroke-width="0.35">10</text>
<text x="235.1" y="574.4" font-size="4.6" font-weight="bold" text-anchor="middle" stroke="#000" stroke-width="0.35" transform="rotate(-90 235.1 574.4)">10</text>
<text x="259.88" y="579.70" font-size="4.6" text-anchor="middle" font-weight="bold" stroke="#000" stroke-width="0.35">10</text>
<text x="235.1" y="555.1999999999999" font-size="4.6" font-weight="bold" text-anchor="middle" stroke="#000" stroke-width="0.35" transform="rotate(-90 235.1 555.1999999999999)">10</text>
<text x="280.05" y="579.70" font-size="4.6" text-anchor="middle" font-weight="bold" stroke="#000" stroke-width="0.35">10</text>
<text x="235.1" y="536.0" font-size="4.6" font-weight="bold" text-anchor="middle" stroke="#000" stroke-width="0.35" transform="rotate(-90 235.1 536.0)">10</text>
<text x="300.22" y="579.70" font-size="4.6" text-anchor="middle" font-weight="bold" stroke="#000" stroke-width="0.35">10</text>
<text x="235.1" y="516.8" font-size="4.6" font-weight="bold" text-anchor="middle" stroke="#000" stroke-width="0.35" transform="rotate(-90 235.1 516.8)">10</text>
<text x="320.40" y="579.70" font-size="4.6" text-anchor="middle" font-weight="bold" stroke="#000" stroke-width="0.35">10</text>
<text x="235.1" y="497.6" font-size="4.6" font-weight="bold" text-anchor="middle" stroke="#000" stroke-width="0.35" transform="rotate(-90 235.1 497.6)">10</text>
<path d="M297.6 569.3h1.1v1.1h-1.1zM298.7 544.4h1.1v1.1h-1.1zM299.4 560.8h1.1v1.1h-1.1zM298.2 565.8h1.1v1.1h-1.1zM295.2 563.8h1.1v1.1h-1.1zM298.9 566.5h1.1v1.1h-1.1zM296.6 556.3h1.1v1.1h-1.1zM296.5 566.0h1.1v1.1h-1.1zM298.2 566.2h1.1v1.1h-1.1zM297.4 564.0h1.1v1.1h-1.1zM296.4 555.1h1.1v1.1h-1.1zM297.7 550.6h1.1v1.1h-1.1zM298.9 571.2h1.1v1.1h-1.1zM297.0 548.1h1.1v1.1h-1.1zM298.8 567.3h1.1v1.1h-1.1zM297.9 553.8h1.1v1.1h-1.1zM297.9 562.4h1.1v1.1h-1.1zM297.2 547.6h1.1v1.1h-1.1zM297.6 551.7h1.1v1.1h-1.1zM297.3 549.0h1.1v1.1h-1.1zM297.2 552.4h1.1v1.1h-1.1zM298.2 561.7h1.1v1.1h-1.1zM298.3 559.3h1.1v1.1h-1.1zM298.3 567.8h1.1v1.1h-1.1zM296.7 555.2h1.1v1.1h-1.1zM298.8 559.2h1.1v1.1h-1.1zM298.0 561.4h1.1v1.1h-1.1zM297.3 545.6h1.1v1.1h-1.1zM299.6 549.7h1.1v1.1h-1.1zM295.8 555.6h1.1v1.1h-1.1zM298.2 568.2h1.1v1.1h-1.1zM296.3 563.6h1.1v1.1h-1.1zM299.8 561.6h1.1v1.1h-1.1zM299.2 559.1h1.1v1.1h-1.1zM297.3 551.2h1.1v1.1h-1.1zM297.7 548.9h1.1v1.1h-1.1zM298.5 561.7h1.1v1.1h-1.1zM295.4 567.2h1.1v1.1h-1.1zM297.9 560.1h1.1v1.1h-1.1zM296.0 561.0h1.1v1.1h-1.1zM299.1 557.6h1.1v1.1h-1.1zM299.7 548.5h1.1v1.1h-1.1zM297.2 556.2h1.1v1.1h-1.1zM298.7 550.2h1.1v1.1h-1.1zM298.6 551.5h1.1v1.1h-1.1zM297.0 559.2h1.1v1.1h-1.1zM299.1 555.1h1.1v1.1h-1.1zM296.2 560.4h1.1v1.1h-1.1zM297.4 548.8h1.1v1.1h-1.1zM300.3 562.1h1.1v1.1h-1.1zM298.5 544.8h1.1v1.1h-1.1zM298.2 571.3h1.1v1.1h-1.1zM298.3 555.1h1.1v1.1h-1.1zM296.4 555.5h1.1v1.1h-1.1zM296.5 569.2h1.1v1.1h-1.1zM298.6 545.9h1.1v1.1h-1.1zM298.3 552.0h1.1v1.1h-1.1zM298.2 552.8h1.1v1.1h-1.1zM298.4 545.6h1.1v1.1h-1.1zM296.1 570.7h1.1v1.1h-1.1zM298.7 549.3h1.1v1.1h-1.1zM297.9 566.9h1.1v1.1h-1.1zM295.8 566.8h1.1v1.1h-1.1zM297.4 555.8h1.1v1.1h-1.1zM299.4 559.4h1.1v1.1h-1.1zM296.6 557.1h1.1v1.1h-1.1zM297.3 549.3h1.1v1.1h-1.1zM300.8 551.8h1.1v1.1h-1.1zM297.1 556.9h1.1v1.1h-1.1zM299.6 548.9h1.1v1.1h-1.1zM296.2 551.7h1.1v1.1h-1.1zM299.7 557.9h1.1v1.1h-1.1zM295.8 555.8h1.1v1.1h-1.1zM297.0 544.9h1.1v1.1h-1.1zM300.4 551.0h1.1v1.1h-1.1zM297.9 556.8h1.1v1.1h-1.1zM298.2 561.1h1.1v1.1h-1.1zM297.2 551.0h1.1v1.1h-1.1zM298.3 544.1h1.1v1.1h-1.1zM296.8 552.6h1.1v1.1h-1.1zM298.4 569.7h1.1v1.1h-1.1zM298.0 554.7h1.1v1.1h-1.1zM297.4 558.0h1.1v1.1h-1.1zM298.6 569.7h1.1v1.1h-1.1zM299.7 555.0h1.1v1.1h-1.1zM296.6 558.1h1.1v1.1h-1.1zM297.2 560.9h1.1v1.1h-1.1zM299.3 544.6h1.1v1.1h-1.1zM299.7 548.2h1.1v1.1h-1.1zM297.3 569.8h1.1v1.1h-1.1zM298.6 567.9h1.1v1.1h-1.1zM298.6 558.7h1.1v1.1h-1.1zM300.1 545.0h1.1v1.1h-1.1zM297.6 564.7h1.1v1.1h-1.1zM297.8 563.0h1.1v1.1h-1.1zM298.1 570.5h1.1v1.1h-1.1zM296.8 552.0h1.1v1.1h-1.1zM297.6 554.9h1.1v1.1h-1.1zM297.0 550.4h1.1v1.1h-1.1zM297.2 551.6h1.1v1.1h-1.1zM297.5 557.5h1.1v1.1h-1.1zM296.5 562.7h1.1v1.1h-1.1zM299.1 553.5h1.1v1.1h-1.1zM298.1 565.8h1.1v1.1h-1.1zM299.4 547.5h1.1v1.1h-1.1zM295.9 548.4h1.1v1.1h-1.1zM297.1 563.1h1.1v1.1h-1.1zM297.9 550.4h1.1v1.1h-1.1zM297.7 560.7h1.1v1.1h-1.1zM296.9 568.4h1.1v1.1h-1.1zM299.1 547.7h1.1v1.1h-1.1zM296.4 561.4h1.1v1.1h-1.1zM300.0 562.1h1.1v1.1h-1.1zM299.2 554.2h1.1v1.1h-1.1zM300.6 548.2h1.1v1.1h-1.1zM299.2 550.5h1.1v1.1h-1.1zM298.4 544.4h1.1v1.1h-1.1zM298.3 560.1h1.1v1.1h-1.1zM297.6 544.0h1.1v1.1h-1.1zM294.9 563.7h1.1v1.1h-1.1zM297.1 571.9h1.1v1.1h-1.1zM298.7 554.9h1.1v1.1h-1.1zM297.5 560.5h1.1v1.1h-1.1zM295.3 545.3h1.1v1.1h-1.1zM296.5 546.9h1.1v1.1h-1.1zM297.7 572.3h1.1v1.1h-1.1zM300.0 558.9h1.1v1.1h-1.1zM298.7 560.3h1.1v1.1h-1.1zM297.5 554.4h1.1v1.1h-1.1zM298.0 552.5h1.1v1.1h-1.1zM299.7 569.0h1.1v1.1h-1.1zM298.2 551.4h1.1v1.1h-1.1zM297.6 560.8h1.1v1.1h-1.1zM298.1 544.1h1.1v1.1h-1.1zM298.2 548.8h1.1v1.1h-1.1zM295.7 544.7h1.1v1.1h-1.1zM298.3 545.8h1.1v1.1h-1.1zM296.9 556.1h1.1v1.1h-1.1zM297.6 544.4h1.1v1.1h-1.1zM297.6 547.8h1.1v1.1h-1.1zM296.0 559.1h1.1v1.1h-1.1zM295.6 565.4h1.1v1.1h-1.1zM297.0 547.4h1.1v1.1h-1.1zM299.3 554.6h1.1v1.1h-1.1zM298.0 567.2h1.1v1.1h-1.1zM298.9 565.8h1.1v1.1h-1.1zM297.2 559.0h1.1v1.1h-1.1zM297.1 569.1h1.1v1.1h-1.1zM297.7 563.6h1.1v1.1h-1.1zM297.2 548.6h1.1v1.1h-1.1zM299.4 566.2h1.1v1.1h-1.1zM297.8 560.3h1.1v1.1h-1.1zM296.2 572.3h1.1v1.1h-1.1zM297.0 554.2h1.1v1.1h-1.1zM298.2 544.5h1.1v1.1h-1.1zM297.9 551.5h1.1v1.1h-1.1zM298.3 568.5h1.1v1.1h-1.1zM298.0 544.3h1.1v1.1h-1.1zM299.1 561.5h1.1v1.1h-1.1zM297.3 566.6h1.1v1.1h-1.1zM299.0 559.3h1.1v1.1h-1.1zM297.5 548.9h1.1v1.1h-1.1zM296.8 565.9h1.1v1.1h-1.1zM299.2 557.8h1.1v1.1h-1.1zM298.8 545.9h1.1v1.1h-1.1zM299.4 552.1h1.1v1.1h-1.1zM299.0 560.2h1.1v1.1h-1.1zM298.9 549.9h1.1v1.1h-1.1zM299.0 557.3h1.1v1.1h-1.1zM296.0 553.7h1.1v1.1h-1.1zM298.1 558.7h1.1v1.1h-1.1zM298.3 555.2h1.1v1.1h-1.1zM299.0 546.5h1.1v1.1h-1.1zM299.3 561.4h1.1v1.1h-1.1zM297.8 564.6h1.1v1.1h-1.1zM296.5 563.8h1.1v1.1h-1.1zM296.4 551.6h1.1v1.1h-1.1zM299.0 545.5h1.1v1.1h-1.1zM297.8 558.3h1.1v1.1h-1.1zM296.4 565.3h1.1v1.1h-1.1zM295.8 560.9h1.1v1.1h-1.1zM298.2 562.1h1.1v1.1h-1.1zM297.8 557.2h1.1v1.1h-1.1zM297.7 545.7h1.1v1.1h-1.1zM296.1 552.1h1.1v1.1h-1.1zM298.3 571.4h1.1v1.1h-1.1zM297.8 558.4h1.1v1.1h-1.1zM299.2 553.0h1.1v1.1h-1.1zM298.0 565.3h1.1v1.1h-1.1zM298.6 544.9h1.1v1.1h-1.1zM296.8 560.5h1.1v1.1h-1.1zM296.7 563.4h1.1v1.1h-1.1zM296.8 549.3h1.1v1.1h-1.1zM298.7 561.6h1.1v1.1h-1.1zM297.8 546.8h1.1v1.1h-1.1zM297.5 562.3h1.1v1.1h-1.1zM297.8 553.6h1.1v1.1h-1.1zM298.0 549.3h1.1v1.1h-1.1zM297.3 559.6h1.1v1.1h-1.1zM296.6 558.2h1.1v1.1h-1.1zM297.6 544.2h1.1v1.1h-1.1zM300.1 550.4h1.1v1.1h-1.1zM296.5 551.3h1.1v1.1h-1.1zM298.0 548.1h1.1v1.1h-1.1zM298.0 552.0h1.1v1.1h-1.1zM297.1 563.2h1.1v1.1h-1.1zM297.0 545.9h1.1v1.1h-1.1zM297.6 561.0h1.1v1.1h-1.1zM297.8 560.8h1.1v1.1h-1.1zM300.8 546.3h1.1v1.1h-1.1zM299.2 548.5h1.1v1.1h-1.1zM299.0 568.4h1.1v1.1h-1.1zM297.8 550.7h1.1v1.1h-1.1zM298.6 549.0h1.1v1.1h-1.1zM295.8 568.1h1.1v1.1h-1.1zM298.3 547.8h1.1v1.1h-1.1zM297.8 548.1h1.1v1.1h-1.1zM296.9 547.4h1.1v1.1h-1.1zM297.7 568.1h1.1v1.1h-1.1zM297.8 544.4h1.1v1.1h-1.1zM297.1 530.6h1.1v1.1h-1.1zM299.2 540.1h1.1v1.1h-1.1zM293.9 546.6h1.1v1.1h-1.1zM296.6 549.5h1.1v1.1h-1.1zM294.2 545.2h1.1v1.1h-1.1zM299.1 538.7h1.1v1.1h-1.1zM299.2 529.9h1.1v1.1h-1.1zM303.3 543.0h1.1v1.1h-1.1zM298.0 550.0h1.1v1.1h-1.1zM303.2 530.2h1.1v1.1h-1.1zM297.1 529.5h1.1v1.1h-1.1zM296.5 535.3h1.1v1.1h-1.1zM299.2 537.7h1.1v1.1h-1.1zM293.1 541.3h1.1v1.1h-1.1zM295.6 542.7h1.1v1.1h-1.1zM293.7 533.4h1.1v1.1h-1.1zM295.9 536.2h1.1v1.1h-1.1zM296.6 541.5h1.1v1.1h-1.1zM298.2 539.1h1.1v1.1h-1.1zM297.6 536.3h1.1v1.1h-1.1z" fill="#111"/>
<path d="M292.2 530.7h1.0v1.0h-1.0zM295.2 562.9h1.0v1.0h-1.0zM292.3 531.8h1.0v1.0h-1.0zM290.8 540.5h1.0v1.0h-1.0zM282.5 527.7h1.0v1.0h-1.0zM299.2 552.9h1.0v1.0h-1.0zM301.1 528.9h1.0v1.0h-1.0zM282.4 546.5h1.0v1.0h-1.0zM276.7 535.7h1.0v1.0h-1.0zM290.1 545.1h1.0v1.0h-1.0zM300.5 550.0h1.0v1.0h-1.0zM292.9 550.4h1.0v1.0h-1.0zM297.0 539.1h1.0v1.0h-1.0zM275.0 571.0h1.0v1.0h-1.0z" fill="#888"/>
<rect x="335" y="497.3" width="80.10000000000002" height="76.80000000000001" fill="none" stroke="#111" stroke-width="1.3"/>
<line x1="390.40" y1="497.30" x2="390.40" y2="574.10" stroke="#000" stroke-width="1.3"/>
<line x1="335.00" y1="542.90" x2="415.10" y2="542.90" stroke="#000" stroke-width="1.3"/>
<path d="M335.00 574.1v2M335 574.10h-2M355.02 574.1v2M335 554.90h-2M375.05 574.1v2M335 535.70h-2M395.08 574.1v2M335 516.50h-2M415.10 574.1v2M335 497.30h-2" stroke="#000" stroke-width="0.9" fill="none"/>
<text x="335.00" y="579.70" font-size="4.6" text-anchor="middle" font-weight="bold" stroke="#000" stroke-width="0.35">10</text>
<text x="330.4" y="574.4" font-size="4.6" font-weight="bold" text-anchor="middle" stroke="#000" stroke-width="0.35" transform="rotate(-90 330.4 574.4)">10</text>
<text x="355.02" y="579.70" font-size="4.6" text-anchor="middle" font-weight="bold" stroke="#000" stroke-width="0.35">10</text>
<text x="330.4" y="555.1999999999999" font-size="4.6" font-weight="bold" text-anchor="middle" stroke="#000" stroke-width="0.35" transform="rotate(-90 330.4 555.1999999999999)">10</text>
<text x="375.05" y="579.70" font-size="4.6" text-anchor="middle" font-weight="bold" stroke="#000" stroke-width="0.35">10</text>
<text x="330.4" y="536.0" font-size="4.6" font-weight="bold" text-anchor="middle" stroke="#000" stroke-width="0.35" transform="rotate(-90 330.4 536.0)">10</text>
<text x="395.08" y="579.70" font-size="4.6" text-anchor="middle" font-weight="bold" stroke="#000" stroke-width="0.35">10</text>
<text x="330.4" y="516.8" font-size="4.6" font-weight="bold" text-anchor="middle" stroke="#000" stroke-width="0.35" transform="rotate(-90 330.4 516.8)">10</text>
<text x="415.10" y="579.70" font-size="4.6" text-anchor="middle" font-weight="bold" stroke="#000" stroke-width="0.35">10</text>
<text x="330.4" y="497.6" font-size="4.6" font-weight="bold" text-anchor="middle" stroke="#000" stroke-width="0.35" transform="rotate(-90 330.4 497.6)">10</text>
<path d="M390.7 524.4h1.1v1.1h-1.1zM393.2 539.2h1.1v1.1h-1.1zM393.3 527.9h1.1v1.1h-1.1zM393.0 532.2h1.1v1.1h-1.1zM393.0 544.8h1.1v1.1h-1.1zM392.7 539.7h1.1v1.1h-1.1zM394.1 544.9h1.1v1.1h-1.1zM392.7 536.6h1.1v1.1h-1.1zM393.8 534.2h1.1v1.1h-1.1zM392.1 544.5h1.1v1.1h-1.1zM393.7 523.2h1.1v1.1h-1.1zM392.7 544.9h1.1v1.1h-1.1zM391.3 538.9h1.1v1.1h-1.1zM394.0 539.7h1.1v1.1h-1.1zM392.0 523.7h1.1v1.1h-1.1zM393.3 532.0h1.1v1.1h-1.1zM392.4 530.4h1.1v1.1h-1.1zM393.6 528.9h1.1v1.1h-1.1zM393.6 527.5h1.1v1.1h-1.1zM391.5 535.2h1.1v1.1h-1.1zM391.5 543.2h1.1v1.1h-1.1zM395.3 522.5h1.1v1.1h-1.1zM393.1 521.5h1.1v1.1h-1.1zM394.8 540.5h1.1v1.1h-1.1zM393.8 536.0h1.1v1.1h-1.1zM393.6 523.7h1.1v1.1h-1.1zM395.3 523.4h1.1v1.1h-1.1zM390.6 538.2h1.1v1.1h-1.1zM394.9 530.1h1.1v1.1h-1.1zM392.4 535.1h1.1v1.1h-1.1zM392.0 542.4h1.1v1.1h-1.1zM393.0 541.5h1.1v1.1h-1.1zM392.0 537.8h1.1v1.1h-1.1zM391.6 531.4h1.1v1.1h-1.1zM391.4 522.8h1.1v1.1h-1.1zM392.8 531.1h1.1v1.1h-1.1zM391.9 540.6h1.1v1.1h-1.1zM392.8 543.0h1.1v1.1h-1.1zM393.5 535.9h1.1v1.1h-1.1zM394.2 542.7h1.1v1.1h-1.1zM391.6 539.3h1.1v1.1h-1.1zM391.5 544.3h1.1v1.1h-1.1zM391.9 542.6h1.1v1.1h-1.1zM391.2 542.9h1.1v1.1h-1.1zM392.1 524.9h1.1v1.1h-1.1zM392.9 531.2h1.1v1.1h-1.1zM394.5 536.2h1.1v1.1h-1.1zM394.0 534.0h1.1v1.1h-1.1zM392.4 531.0h1.1v1.1h-1.1zM394.9 525.0h1.1v1.1h-1.1zM389.5 531.0h1.1v1.1h-1.1zM392.4 520.1h1.1v1.1h-1.1zM391.0 519.8h1.1v1.1h-1.1zM392.9 530.2h1.1v1.1h-1.1zM391.9 533.6h1.1v1.1h-1.1zM393.1 539.3h1.1v1.1h-1.1zM395.1 526.5h1.1v1.1h-1.1zM391.4 526.6h1.1v1.1h-1.1zM392.9 526.2h1.1v1.1h-1.1zM397.6 524.2h1.1v1.1h-1.1zM392.5 538.1h1.1v1.1h-1.1zM392.1 520.5h1.1v1.1h-1.1zM391.5 533.4h1.1v1.1h-1.1zM392.6 532.8h1.1v1.1h-1.1zM393.0 531.2h1.1v1.1h-1.1zM392.6 532.4h1.1v1.1h-1.1zM393.4 543.2h1.1v1.1h-1.1zM393.5 535.9h1.1v1.1h-1.1zM394.0 532.0h1.1v1.1h-1.1zM391.5 541.5h1.1v1.1h-1.1zM392.6 544.5h1.1v1.1h-1.1zM389.6 537.7h1.1v1.1h-1.1zM391.5 535.9h1.1v1.1h-1.1zM391.9 532.2h1.1v1.1h-1.1zM394.7 524.3h1.1v1.1h-1.1zM393.5 539.6h1.1v1.1h-1.1zM392.8 535.4h1.1v1.1h-1.1zM391.8 519.9h1.1v1.1h-1.1zM393.6 533.6h1.1v1.1h-1.1zM389.8 528.3h1.1v1.1h-1.1zM391.3 529.5h1.1v1.1h-1.1zM393.4 544.1h1.1v1.1h-1.1zM391.8 520.1h1.1v1.1h-1.1zM391.1 543.3h1.1v1.1h-1.1zM392.4 525.6h1.1v1.1h-1.1zM391.5 537.6h1.1v1.1h-1.1zM394.1 521.1h1.1v1.1h-1.1zM392.1 521.8h1.1v1.1h-1.1zM393.6 539.2h1.1v1.1h-1.1zM392.6 519.5h1.1v1.1h-1.1zM394.3 542.0h1.1v1.1h-1.1zM393.4 543.0h1.1v1.1h-1.1zM395.0 534.2h1.1v1.1h-1.1zM393.2 524.4h1.1v1.1h-1.1zM390.8 542.0h1.1v1.1h-1.1zM393.7 523.8h1.1v1.1h-1.1zM392.0 532.7h1.1v1.1h-1.1zM394.0 538.3h1.1v1.1h-1.1zM391.9 541.1h1.1v1.1h-1.1zM392.4 540.7h1.1v1.1h-1.1zM392.8 522.3h1.1v1.1h-1.1zM390.5 541.1h1.1v1.1h-1.1zM391.6 532.5h1.1v1.1h-1.1zM392.2 538.2h1.1v1.1h-1.1zM392.9 521.0h1.1v1.1h-1.1zM392.5 529.2h1.1v1.1h-1.1zM391.3 522.6h1.1v1.1h-1.1zM394.5 543.7h1.1v1.1h-1.1zM392.3 522.3h1.1v1.1h-1.1zM393.3 541.4h1.1v1.1h-1.1zM393.6 531.7h1.1v1.1h-1.1zM391.5 532.8h1.1v1.1h-1.1zM392.1 541.3h1.1v1.1h-1.1zM392.5 537.0h1.1v1.1h-1.1zM391.2 523.3h1.1v1.1h-1.1zM395.5 519.4h1.1v1.1h-1.1zM391.7 543.2h1.1v1.1h-1.1zM391.7 538.3h1.1v1.1h-1.1zM393.7 525.7h1.1v1.1h-1.1zM393.4 531.8h1.1v1.1h-1.1zM392.4 519.8h1.1v1.1h-1.1zM393.9 542.3h1.1v1.1h-1.1zM391.9 533.1h1.1v1.1h-1.1zM390.5 540.2h1.1v1.1h-1.1zM392.5 537.7h1.1v1.1h-1.1zM393.0 529.1h1.1v1.1h-1.1zM392.8 542.5h1.1v1.1h-1.1zM392.8 520.9h1.1v1.1h-1.1zM391.4 539.2h1.1v1.1h-1.1zM393.5 543.8h1.1v1.1h-1.1zM392.1 542.8h1.1v1.1h-1.1zM393.9 519.7h1.1v1.1h-1.1zM393.4 535.8h1.1v1.1h-1.1zM392.7 531.6h1.1v1.1h-1.1zM392.5 531.0h1.1v1.1h-1.1zM394.2 533.4h1.1v1.1h-1.1zM393.8 536.5h1.1v1.1h-1.1zM393.8 541.9h1.1v1.1h-1.1zM391.1 542.2h1.1v1.1h-1.1zM393.8 528.4h1.1v1.1h-1.1zM393.1 519.8h1.1v1.1h-1.1zM395.3 541.8h1.1v1.1h-1.1zM392.3 524.4h1.1v1.1h-1.1zM392.9 519.1h1.1v1.1h-1.1zM391.3 529.4h1.1v1.1h-1.1zM393.5 541.6h1.1v1.1h-1.1zM393.4 529.1h1.1v1.1h-1.1zM391.0 544.7h1.1v1.1h-1.1zM391.0 544.7h1.1v1.1h-1.1zM393.8 538.1h1.1v1.1h-1.1zM392.6 522.5h1.1v1.1h-1.1zM394.6 521.7h1.1v1.1h-1.1zM394.3 530.4h1.1v1.1h-1.1zM392.7 529.2h1.1v1.1h-1.1zM392.7 529.0h1.1v1.1h-1.1zM393.0 542.0h1.1v1.1h-1.1zM391.2 539.2h1.1v1.1h-1.1zM392.5 542.2h1.1v1.1h-1.1zM392.4 538.5h1.1v1.1h-1.1zM393.3 535.7h1.1v1.1h-1.1zM391.2 519.9h1.1v1.1h-1.1zM392.0 530.3h1.1v1.1h-1.1zM392.3 522.8h1.1v1.1h-1.1zM391.9 530.0h1.1v1.1h-1.1zM393.8 519.3h1.1v1.1h-1.1zM392.3 529.9h1.1v1.1h-1.1zM392.2 536.6h1.1v1.1h-1.1zM390.8 544.5h1.1v1.1h-1.1zM393.1 531.8h1.1v1.1h-1.1zM392.1 523.7h1.1v1.1h-1.1zM394.4 532.9h1.1v1.1h-1.1zM392.1 538.3h1.1v1.1h-1.1zM392.0 531.7h1.1v1.1h-1.1zM391.9 525.1h1.1v1.1h-1.1zM392.6 532.0h1.1v1.1h-1.1zM392.2 523.2h1.1v1.1h-1.1zM393.6 521.5h1.1v1.1h-1.1zM393.7 543.1h1.1v1.1h-1.1zM392.4 528.6h1.1v1.1h-1.1zM395.3 527.3h1.1v1.1h-1.1zM393.2 536.2h1.1v1.1h-1.1zM391.0 540.8h1.1v1.1h-1.1zM393.5 535.5h1.1v1.1h-1.1zM393.3 529.8h1.1v1.1h-1.1zM390.9 542.3h1.1v1.1h-1.1zM393.0 544.2h1.1v1.1h-1.1zM393.8 528.4h1.1v1.1h-1.1zM390.1 530.6h1.1v1.1h-1.1zM391.5 521.1h1.1v1.1h-1.1zM391.3 537.7h1.1v1.1h-1.1zM393.1 532.9h1.1v1.1h-1.1zM394.2 544.9h1.1v1.1h-1.1zM392.2 535.8h1.1v1.1h-1.1zM393.4 531.8h1.1v1.1h-1.1zM394.5 532.6h1.1v1.1h-1.1zM394.8 542.7h1.1v1.1h-1.1zM391.8 544.2h1.1v1.1h-1.1zM392.3 528.0h1.1v1.1h-1.1zM391.1 532.0h1.1v1.1h-1.1zM394.2 523.3h1.1v1.1h-1.1zM393.1 529.4h1.1v1.1h-1.1zM393.4 521.5h1.1v1.1h-1.1zM393.0 530.8h1.1v1.1h-1.1zM393.8 521.0h1.1v1.1h-1.1zM394.5 522.5h1.1v1.1h-1.1zM391.4 542.7h1.1v1.1h-1.1zM390.9 532.9h1.1v1.1h-1.1zM393.2 541.3h1.1v1.1h-1.1zM391.7 522.5h1.1v1.1h-1.1zM392.8 543.3h1.1v1.1h-1.1zM392.6 530.5h1.1v1.1h-1.1zM394.5 522.2h1.1v1.1h-1.1zM392.3 542.3h1.1v1.1h-1.1zM392.1 536.4h1.1v1.1h-1.1zM392.4 541.1h1.1v1.1h-1.1zM392.4 527.9h1.1v1.1h-1.1zM392.9 528.2h1.1v1.1h-1.1zM394.6 543.0h1.1v1.1h-1.1zM391.5 522.4h1.1v1.1h-1.1zM389.9 532.2h1.1v1.1h-1.1zM392.0 542.9h1.1v1.1h-1.1zM392.6 519.4h1.1v1.1h-1.1zM392.0 531.0h1.1v1.1h-1.1zM394.0 536.5h1.1v1.1h-1.1zM391.9 527.8h1.1v1.1h-1.1zM392.4 537.8h1.1v1.1h-1.1zM391.4 534.1h1.1v1.1h-1.1zM392.6 540.9h1.1v1.1h-1.1zM391.9 532.4h1.1v1.1h-1.1zM392.5 537.9h1.1v1.1h-1.1zM392.4 519.7h1.1v1.1h-1.1zM392.6 537.1h1.1v1.1h-1.1zM395.0 542.8h1.1v1.1h-1.1zM390.2 524.8h1.1v1.1h-1.1zM393.0 543.8h1.1v1.1h-1.1zM392.3 532.5h1.1v1.1h-1.1zM391.1 527.7h1.1v1.1h-1.1zM392.0 526.9h1.1v1.1h-1.1zM392.7 541.6h1.1v1.1h-1.1zM391.9 530.2h1.1v1.1h-1.1zM395.2 531.7h1.1v1.1h-1.1zM392.4 535.0h1.1v1.1h-1.1zM391.3 530.6h1.1v1.1h-1.1zM394.0 544.0h1.1v1.1h-1.1zM393.0 519.1h1.1v1.1h-1.1zM394.4 540.9h1.1v1.1h-1.1zM391.8 522.8h1.1v1.1h-1.1zM392.3 528.1h1.1v1.1h-1.1zM395.1 529.3h1.1v1.1h-1.1zM392.7 523.3h1.1v1.1h-1.1zM391.8 530.9h1.1v1.1h-1.1zM392.9 538.4h1.1v1.1h-1.1zM390.3 534.3h1.1v1.1h-1.1zM392.5 522.2h1.1v1.1h-1.1zM393.2 527.2h1.1v1.1h-1.1zM391.2 522.1h1.1v1.1h-1.1zM392.9 543.2h1.1v1.1h-1.1zM391.6 531.1h1.1v1.1h-1.1zM394.3 532.1h1.1v1.1h-1.1zM392.7 527.6h1.1v1.1h-1.1zM393.5 563.8h1.1v1.1h-1.1zM395.3 545.8h1.1v1.1h-1.1zM391.3 565.6h1.1v1.1h-1.1zM391.8 563.3h1.1v1.1h-1.1zM392.4 571.4h1.1v1.1h-1.1zM389.0 551.8h1.1v1.1h-1.1zM392.5 563.1h1.1v1.1h-1.1zM392.0 572.0h1.1v1.1h-1.1zM395.7 549.4h1.1v1.1h-1.1zM392.8 546.4h1.1v1.1h-1.1zM392.1 555.1h1.1v1.1h-1.1zM391.4 556.2h1.1v1.1h-1.1zM393.4 558.5h1.1v1.1h-1.1zM394.5 564.2h1.1v1.1h-1.1zM392.9 554.8h1.1v1.1h-1.1zM390.5 571.4h1.1v1.1h-1.1zM395.2 563.1h1.1v1.1h-1.1zM393.9 560.0h1.1v1.1h-1.1zM393.4 555.4h1.1v1.1h-1.1zM392.3 571.7h1.1v1.1h-1.1zM390.4 569.0h1.1v1.1h-1.1zM391.6 551.8h1.1v1.1h-1.1zM395.1 551.0h1.1v1.1h-1.1zM392.0 546.5h1.1v1.1h-1.1zM392.1 550.0h1.1v1.1h-1.1zM390.8 550.5h1.1v1.1h-1.1zM391.1 568.4h1.1v1.1h-1.1zM391.0 563.9h1.1v1.1h-1.1zM391.2 551.2h1.1v1.1h-1.1zM395.0 565.2h1.1v1.1h-1.1zM393.0 571.7h1.1v1.1h-1.1zM392.5 564.2h1.1v1.1h-1.1zM395.5 563.3h1.1v1.1h-1.1zM394.1 562.4h1.1v1.1h-1.1zM393.6 555.5h1.1v1.1h-1.1zM391.1 561.0h1.1v1.1h-1.1zM389.1 565.6h1.1v1.1h-1.1zM393.4 558.5h1.1v1.1h-1.1zM391.7 569.3h1.1v1.1h-1.1zM392.6 559.1h1.1v1.1h-1.1zM392.9 571.8h1.1v1.1h-1.1zM391.1 546.9h1.1v1.1h-1.1zM394.4 572.2h1.1v1.1h-1.1zM394.7 555.0h1.1v1.1h-1.1zM393.2 561.5h1.1v1.1h-1.1zM393.4 552.0h1.1v1.1h-1.1zM391.2 562.0h1.1v1.1h-1.1zM393.1 558.7h1.1v1.1h-1.1zM391.8 568.1h1.1v1.1h-1.1zM395.9 569.7h1.1v1.1h-1.1zM391.3 552.9h1.1v1.1h-1.1zM392.1 572.4h1.1v1.1h-1.1zM391.9 547.1h1.1v1.1h-1.1zM391.3 564.9h1.1v1.1h-1.1zM391.4 558.3h1.1v1.1h-1.1zM393.0 565.5h1.1v1.1h-1.1zM391.8 553.3h1.1v1.1h-1.1zM391.2 565.2h1.1v1.1h-1.1zM390.8 553.0h1.1v1.1h-1.1zM393.0 554.9h1.1v1.1h-1.1zM392.0 570.3h1.1v1.1h-1.1zM392.8 569.3h1.1v1.1h-1.1zM392.9 554.6h1.1v1.1h-1.1zM393.3 563.8h1.1v1.1h-1.1zM393.4 566.5h1.1v1.1h-1.1zM391.9 568.3h1.1v1.1h-1.1zM393.8 557.0h1.1v1.1h-1.1zM394.2 566.3h1.1v1.1h-1.1zM393.3 561.3h1.1v1.1h-1.1zM390.5 556.2h1.1v1.1h-1.1zM391.7 570.9h1.1v1.1h-1.1zM391.2 563.1h1.1v1.1h-1.1zM393.8 555.3h1.1v1.1h-1.1zM392.1 571.0h1.1v1.1h-1.1zM392.9 562.9h1.1v1.1h-1.1zM389.7 562.9h1.1v1.1h-1.1zM391.4 567.5h1.1v1.1h-1.1zM392.4 569.8h1.1v1.1h-1.1zM391.9 546.2h1.1v1.1h-1.1zM391.0 546.1h1.1v1.1h-1.1zM394.9 549.6h1.1v1.1h-1.1zM395.1 548.6h1.1v1.1h-1.1zM395.3 555.9h1.1v1.1h-1.1zM391.4 561.4h1.1v1.1h-1.1zM391.5 569.3h1.1v1.1h-1.1zM391.4 570.0h1.1v1.1h-1.1zM392.2 548.7h1.1v1.1h-1.1zM389.9 565.1h1.1v1.1h-1.1zM391.2 557.1h1.1v1.1h-1.1zM392.1 567.5h1.1v1.1h-1.1zM395.1 555.0h1.1v1.1h-1.1zM391.3 571.2h1.1v1.1h-1.1zM392.1 559.6h1.1v1.1h-1.1zM389.9 567.7h1.1v1.1h-1.1zM392.1 568.2h1.1v1.1h-1.1zM391.6 566.9h1.1v1.1h-1.1zM394.9 555.4h1.1v1.1h-1.1zM393.1 553.3h1.1v1.1h-1.1zM392.6 559.3h1.1v1.1h-1.1zM393.7 546.7h1.1v1.1h-1.1zM393.5 562.4h1.1v1.1h-1.1zM391.1 559.1h1.1v1.1h-1.1zM392.0 572.3h1.1v1.1h-1.1zM393.9 563.6h1.1v1.1h-1.1zM391.3 565.4h1.1v1.1h-1.1zM393.8 549.5h1.1v1.1h-1.1zM395.5 562.7h1.1v1.1h-1.1zM391.1 567.8h1.1v1.1h-1.1zM391.4 572.6h1.1v1.1h-1.1zM392.4 557.4h1.1v1.1h-1.1zM393.3 554.9h1.1v1.1h-1.1zM392.6 556.0h1.1v1.1h-1.1zM394.6 558.6h1.1v1.1h-1.1zM394.1 549.0h1.1v1.1h-1.1zM392.1 572.3h1.1v1.1h-1.1zM393.3 567.3h1.1v1.1h-1.1zM391.1 561.9h1.1v1.1h-1.1zM394.1 567.3h1.1v1.1h-1.1zM393.3 553.5h1.1v1.1h-1.1zM393.5 555.9h1.1v1.1h-1.1zM388.2 523.9h1.1v1.1h-1.1zM374.0 525.0h1.1v1.1h-1.1zM388.5 516.2h1.1v1.1h-1.1zM387.8 533.4h1.1v1.1h-1.1zM377.3 523.6h1.1v1.1h-1.1zM381.3 543.4h1.1v1.1h-1.1zM377.5 534.0h1.1v1.1h-1.1zM381.9 532.6h1.1v1.1h-1.1zM377.8 534.7h1.1v1.1h-1.1zM377.2 521.3h1.1v1.1h-1.1zM384.1 530.9h1.1v1.1h-1.1zM377.7 514.2h1.1v1.1h-1.1zM381.1 529.1h1.1v1.1h-1.1zM383.1 524.9h1.1v1.1h-1.1zM383.4 529.6h1.1v1.1h-1.1zM381.6 531.7h1.1v1.1h-1.1zM381.2 535.8h1.1v1.1h-1.1zM387.7 524.8h1.1v1.1h-1.1zM379.5 520.7h1.1v1.1h-1.1zM380.3 535.9h1.1v1.1h-1.1zM381.6 520.4h1.1v1.1h-1.1zM382.0 518.9h1.1v1.1h-1.1zM386.1 536.2h1.1v1.1h-1.1zM386.8 538.7h1.1v1.1h-1.1zM380.2 521.7h1.1v1.1h-1.1zM382.1 530.5h1.1v1.1h-1.1zM384.0 514.0h1.1v1.1h-1.1zM381.1 531.0h1.1v1.1h-1.1zM381.2 527.9h1.1v1.1h-1.1zM376.1 514.3h1.1v1.1h-1.1zM383.9 530.5h1.1v1.1h-1.1zM386.2 516.8h1.1v1.1h-1.1zM382.5 522.4h1.1v1.1h-1.1zM384.0 532.7h1.1v1.1h-1.1zM380.2 523.6h1.1v1.1h-1.1zM384.3 517.1h1.1v1.1h-1.1zM383.6 521.3h1.1v1.1h-1.1zM387.3 526.9h1.1v1.1h-1.1zM383.0 533.6h1.1v1.1h-1.1zM382.3 511.0h1.1v1.1h-1.1zM380.3 528.7h1.1v1.1h-1.1zM384.3 529.1h1.1v1.1h-1.1zM385.1 533.0h1.1v1.1h-1.1zM379.3 533.4h1.1v1.1h-1.1zM383.8 523.7h1.1v1.1h-1.1zM382.8 522.7h1.1v1.1h-1.1zM390.7 523.2h1.1v1.1h-1.1zM383.9 525.2h1.1v1.1h-1.1zM381.9 518.0h1.1v1.1h-1.1zM382.3 535.5h1.1v1.1h-1.1zM385.5 523.8h1.1v1.1h-1.1zM388.8 516.5h1.1v1.1h-1.1zM377.5 524.5h1.1v1.1h-1.1zM381.5 532.3h1.1v1.1h-1.1zM388.4 528.9h1.1v1.1h-1.1zM381.7 523.1h1.1v1.1h-1.1zM384.5 514.1h1.1v1.1h-1.1zM384.6 517.2h1.1v1.1h-1.1zM380.7 528.5h1.1v1.1h-1.1zM379.9 523.0h1.1v1.1h-1.1zM380.5 519.5h1.1v1.1h-1.1zM383.8 525.9h1.1v1.1h-1.1zM381.0 530.2h1.1v1.1h-1.1zM381.1 522.7h1.1v1.1h-1.1zM389.8 534.7h1.1v1.1h-1.1zM382.7 529.8h1.1v1.1h-1.1zM382.7 532.5h1.1v1.1h-1.1zM382.3 539.6h1.1v1.1h-1.1zM384.4 534.2h1.1v1.1h-1.1zM388.4 531.6h1.1v1.1h-1.1zM383.1 526.2h1.1v1.1h-1.1zM384.2 521.7h1.1v1.1h-1.1zM383.6 527.4h1.1v1.1h-1.1zM378.6 541.2h1.1v1.1h-1.1zM381.4 535.4h1.1v1.1h-1.1zM390.5 535.1h1.1v1.1h-1.1zM380.0 523.8h1.1v1.1h-1.1zM382.6 525.9h1.1v1.1h-1.1zM385.4 531.2h1.1v1.1h-1.1zM387.9 522.6h1.1v1.1h-1.1zM388.8 516.2h1.1v1.1h-1.1zM379.8 539.6h1.1v1.1h-1.1zM386.8 518.1h1.1v1.1h-1.1zM382.7 528.8h1.1v1.1h-1.1zM388.8 518.7h1.1v1.1h-1.1zM386.4 524.7h1.1v1.1h-1.1zM381.9 524.3h1.1v1.1h-1.1zM389.0 537.8h1.1v1.1h-1.1zM383.5 517.4h1.1v1.1h-1.1zM381.3 524.2h1.1v1.1h-1.1zM386.8 516.5h1.1v1.1h-1.1zM383.9 535.5h1.1v1.1h-1.1zM385.0 527.4h1.1v1.1h-1.1zM388.1 527.7h1.1v1.1h-1.1zM385.6 529.7h1.1v1.1h-1.1zM391.0 518.6h1.1v1.1h-1.1zM388.9 527.5h1.1v1.1h-1.1zM380.0 527.1h1.1v1.1h-1.1zM382.8 537.0h1.1v1.1h-1.1zM380.8 534.4h1.1v1.1h-1.1zM386.0 517.6h1.1v1.1h-1.1zM383.2 524.2h1.1v1.1h-1.1zM391.1 526.0h1.1v1.1h-1.1zM382.0 534.1h1.1v1.1h-1.1zM375.8 524.3h1.1v1.1h-1.1zM388.6 537.2h1.1v1.1h-1.1zM377.0 540.0h1.1v1.1h-1.1zM386.1 528.1h1.1v1.1h-1.1zM389.8 525.0h1.1v1.1h-1.1zM379.1 538.3h1.1v1.1h-1.1zM379.0 545.7h1.1v1.1h-1.1zM382.7 517.8h1.1v1.1h-1.1zM380.2 524.6h1.1v1.1h-1.1zM379.6 519.7h1.1v1.1h-1.1zM383.0 529.2h1.1v1.1h-1.1zM385.9 535.6h1.1v1.1h-1.1zM376.9 524.5h1.1v1.1h-1.1zM377.5 518.9h1.1v1.1h-1.1zM382.7 527.6h1.1v1.1h-1.1zM382.6 510.6h1.1v1.1h-1.1zM386.5 530.2h1.1v1.1h-1.1zM387.1 532.7h1.1v1.1h-1.1zM384.4 528.8h1.1v1.1h-1.1zM382.1 531.8h1.1v1.1h-1.1zM376.5 531.6h1.1v1.1h-1.1zM380.8 534.1h1.1v1.1h-1.1zM381.5 511.7h1.1v1.1h-1.1zM385.9 517.8h1.1v1.1h-1.1zM381.4 528.5h1.1v1.1h-1.1zM383.2 527.7h1.1v1.1h-1.1zM384.8 530.4h1.1v1.1h-1.1zM380.4 538.2h1.1v1.1h-1.1zM381.5 531.9h1.1v1.1h-1.1zM388.6 524.5h1.1v1.1h-1.1zM387.2 539.8h1.1v1.1h-1.1zM386.3 530.1h1.1v1.1h-1.1zM378.1 525.7h1.1v1.1h-1.1zM379.8 532.3h1.1v1.1h-1.1zM385.4 527.4h1.1v1.1h-1.1zM378.1 531.4h1.1v1.1h-1.1zM385.1 526.8h1.1v1.1h-1.1zM383.1 535.4h1.1v1.1h-1.1zM384.2 537.8h1.1v1.1h-1.1zM388.9 536.0h1.1v1.1h-1.1zM387.6 529.7h1.1v1.1h-1.1zM379.8 507.0h1.1v1.1h-1.1zM379.9 522.9h1.1v1.1h-1.1zM380.5 533.4h1.1v1.1h-1.1zM382.6 533.8h1.1v1.1h-1.1zM382.1 522.6h1.1v1.1h-1.1z" fill="#111"/>
<path d="M383.7 567.6h1.0v1.0h-1.0zM384.4 541.7h1.0v1.0h-1.0zM389.8 561.7h1.0v1.0h-1.0zM381.1 566.4h1.0v1.0h-1.0zM373.9 557.1h1.0v1.0h-1.0zM386.1 563.7h1.0v1.0h-1.0zM384.1 537.3h1.0v1.0h-1.0zM380.6 544.9h1.0v1.0h-1.0zM382.9 549.7h1.0v1.0h-1.0zM380.2 554.9h1.0v1.0h-1.0zM382.6 567.9h1.0v1.0h-1.0zM377.1 545.2h1.0v1.0h-1.0zM375.3 539.2h1.0v1.0h-1.0zM387.3 569.0h1.0v1.0h-1.0zM374.3 548.3h1.0v1.0h-1.0zM388.3 567.0h1.0v1.0h-1.0zM389.6 571.7h1.0v1.0h-1.0zM377.5 537.5h1.0v1.0h-1.0zM376.5 553.6h1.0v1.0h-1.0zM372.3 544.4h1.0v1.0h-1.0zM380.5 560.2h1.0v1.0h-1.0zM374.8 539.6h1.0v1.0h-1.0zM377.9 538.4h1.0v1.0h-1.0zM374.2 538.8h1.0v1.0h-1.0zM386.4 567.5h1.0v1.0h-1.0zM384.9 541.9h1.0v1.0h-1.0zM385.2 534.4h1.0v1.0h-1.0zM377.6 523.4h1.0v1.0h-1.0zM390.9 530.2h1.0v1.0h-1.0zM383.7 533.4h1.0v1.0h-1.0zM382.1 539.5h1.0v1.0h-1.0zM379.2 531.4h1.0v1.0h-1.0zM383.6 525.3h1.0v1.0h-1.0zM381.0 522.0h1.0v1.0h-1.0zM377.2 529.1h1.0v1.0h-1.0zM388.1 531.8h1.0v1.0h-1.0zM391.9 519.6h1.0v1.0h-1.0zM378.0 526.0h1.0v1.0h-1.0zM381.9 538.5h1.0v1.0h-1.0zM377.9 517.4h1.0v1.0h-1.0zM382.4 514.6h1.0v1.0h-1.0zM383.4 521.7h1.0v1.0h-1.0zM382.3 522.5h1.0v1.0h-1.0zM382.7 537.7h1.0v1.0h-1.0zM383.2 536.8h1.0v1.0h-1.0zM377.8 530.4h1.0v1.0h-1.0zM388.2 518.9h1.0v1.0h-1.0zM380.0 518.8h1.0v1.0h-1.0zM384.3 521.8h1.0v1.0h-1.0zM374.4 514.1h1.0v1.0h-1.0zM382.2 526.3h1.0v1.0h-1.0zM380.9 527.6h1.0v1.0h-1.0zM386.9 522.3h1.0v1.0h-1.0zM387.2 520.3h1.0v1.0h-1.0zM398.2 527.2h1.0v1.0h-1.0zM378.7 522.4h1.0v1.0h-1.0zM373.3 534.1h1.0v1.0h-1.0zM388.3 535.5h1.0v1.0h-1.0zM381.9 538.4h1.0v1.0h-1.0zM377.3 526.1h1.0v1.0h-1.0zM385.3 530.9h1.0v1.0h-1.0zM378.6 522.7h1.0v1.0h-1.0zM387.1 525.7h1.0v1.0h-1.0zM373.6 539.8h1.0v1.0h-1.0zM379.2 531.5h1.0v1.0h-1.0z" fill="#888"/>
<rect x="431.6" y="497.3" width="81.10000000000002" height="76.80000000000001" fill="none" stroke="#111" stroke-width="1.3"/>
<line x1="487.30" y1="497.30" x2="487.30" y2="574.10" stroke="#000" stroke-width="1.3"/>
<line x1="431.60" y1="542.90" x2="512.70" y2="542.90" stroke="#000" stroke-width="1.3"/>
<path d="M431.60 574.1v2M431.6 574.10h-2M451.88 574.1v2M431.6 554.90h-2M472.15 574.1v2M431.6 535.70h-2M492.43 574.1v2M431.6 516.50h-2M512.70 574.1v2M431.6 497.30h-2" stroke="#000" stroke-width="0.9" fill="none"/>
<text x="431.60" y="579.70" font-size="4.6" text-anchor="middle" font-weight="bold" stroke="#000" stroke-width="0.35">10</text>
<text x="427.0" y="574.4" font-size="4.6" font-weight="bold" text-anchor="middle" stroke="#000" stroke-width="0.35" transform="rotate(-90 427.0 574.4)">10</text>
<text x="451.88" y="579.70" font-size="4.6" text-anchor="middle" font-weight="bold" stroke="#000" stroke-width="0.35">10</text>
<text x="427.0" y="555.1999999999999" font-size="4.6" font-weight="bold" text-anchor="middle" stroke="#000" stroke-width="0.35" transform="rotate(-90 427.0 555.1999999999999)">10</text>
<text x="472.15" y="579.70" font-size="4.6" text-anchor="middle" font-weight="bold" stroke="#000" stroke-width="0.35">10</text>
<text x="427.0" y="536.0" font-size="4.6" font-weight="bold" text-anchor="middle" stroke="#000" stroke-width="0.35" transform="rotate(-90 427.0 536.0)">10</text>
<text x="492.43" y="579.70" font-size="4.6" text-anchor="middle" font-weight="bold" stroke="#000" stroke-width="0.35">10</text>
<text x="427.0" y="516.8" font-size="4.6" font-weight="bold" text-anchor="middle" stroke="#000" stroke-width="0.35" transform="rotate(-90 427.0 516.8)">10</text>
<text x="512.70" y="579.70" font-size="4.6" text-anchor="middle" font-weight="bold" stroke="#000" stroke-width="0.35">10</text>
<text x="427.0" y="497.6" font-size="4.6" font-weight="bold" text-anchor="middle" stroke="#000" stroke-width="0.35" transform="rotate(-90 427.0 497.6)">10</text>
<path d="M491.5 544.8h1.1v1.1h-1.1zM490.5 540.2h1.1v1.1h-1.1zM491.5 532.1h1.1v1.1h-1.1zM491.7 533.9h1.1v1.1h-1.1zM491.8 538.3h1.1v1.1h-1.1zM489.4 544.4h1.1v1.1h-1.1zM488.6 522.4h1.1v1.1h-1.1zM490.1 537.1h1.1v1.1h-1.1zM486.5 537.9h1.1v1.1h-1.1zM489.7 518.9h1.1v1.1h-1.1zM489.1 527.4h1.1v1.1h-1.1zM489.5 537.4h1.1v1.1h-1.1zM489.8 533.6h1.1v1.1h-1.1zM490.9 529.0h1.1v1.1h-1.1zM489.9 542.9h1.1v1.1h-1.1zM492.8 523.1h1.1v1.1h-1.1zM489.5 524.8h1.1v1.1h-1.1zM490.5 543.9h1.1v1.1h-1.1zM491.1 530.1h1.1v1.1h-1.1zM491.0 540.3h1.1v1.1h-1.1zM490.5 520.2h1.1v1.1h-1.1zM490.3 518.8h1.1v1.1h-1.1zM488.6 540.7h1.1v1.1h-1.1zM491.1 523.3h1.1v1.1h-1.1zM491.3 542.3h1.1v1.1h-1.1zM490.5 523.4h1.1v1.1h-1.1zM487.9 535.9h1.1v1.1h-1.1zM490.7 525.5h1.1v1.1h-1.1zM490.2 531.3h1.1v1.1h-1.1zM490.1 537.5h1.1v1.1h-1.1zM488.9 539.3h1.1v1.1h-1.1zM491.6 540.8h1.1v1.1h-1.1zM487.9 525.4h1.1v1.1h-1.1zM491.8 538.1h1.1v1.1h-1.1zM490.5 524.4h1.1v1.1h-1.1zM489.5 539.7h1.1v1.1h-1.1zM487.5 543.8h1.1v1.1h-1.1zM488.3 544.7h1.1v1.1h-1.1zM488.0 522.4h1.1v1.1h-1.1zM491.3 531.0h1.1v1.1h-1.1zM489.0 527.4h1.1v1.1h-1.1zM492.2 531.1h1.1v1.1h-1.1zM488.9 524.2h1.1v1.1h-1.1zM489.6 530.2h1.1v1.1h-1.1zM490.0 533.8h1.1v1.1h-1.1zM489.1 539.0h1.1v1.1h-1.1zM491.5 536.6h1.1v1.1h-1.1zM489.9 532.7h1.1v1.1h-1.1zM486.5 522.2h1.1v1.1h-1.1zM491.4 524.9h1.1v1.1h-1.1zM491.5 523.9h1.1v1.1h-1.1zM489.2 519.1h1.1v1.1h-1.1zM490.7 528.5h1.1v1.1h-1.1zM489.1 541.9h1.1v1.1h-1.1zM488.7 529.6h1.1v1.1h-1.1zM487.0 527.1h1.1v1.1h-1.1zM492.0 524.6h1.1v1.1h-1.1zM487.4 541.4h1.1v1.1h-1.1zM488.8 518.1h1.1v1.1h-1.1zM488.0 539.9h1.1v1.1h-1.1zM488.9 542.5h1.1v1.1h-1.1zM489.2 527.0h1.1v1.1h-1.1zM487.4 538.1h1.1v1.1h-1.1zM487.1 527.7h1.1v1.1h-1.1zM490.2 520.4h1.1v1.1h-1.1zM492.5 544.6h1.1v1.1h-1.1zM491.6 528.1h1.1v1.1h-1.1zM489.3 533.7h1.1v1.1h-1.1zM489.9 527.0h1.1v1.1h-1.1zM490.5 531.2h1.1v1.1h-1.1zM489.5 523.5h1.1v1.1h-1.1zM492.7 519.7h1.1v1.1h-1.1zM492.4 535.8h1.1v1.1h-1.1zM490.2 539.1h1.1v1.1h-1.1zM490.9 533.7h1.1v1.1h-1.1zM488.9 529.9h1.1v1.1h-1.1zM486.1 519.3h1.1v1.1h-1.1zM487.8 545.0h1.1v1.1h-1.1zM491.1 533.7h1.1v1.1h-1.1zM490.9 523.2h1.1v1.1h-1.1zM490.1 541.9h1.1v1.1h-1.1zM489.4 530.8h1.1v1.1h-1.1zM492.0 544.2h1.1v1.1h-1.1zM492.0 534.1h1.1v1.1h-1.1zM491.6 542.5h1.1v1.1h-1.1zM488.4 518.0h1.1v1.1h-1.1zM490.2 543.7h1.1v1.1h-1.1zM490.3 530.1h1.1v1.1h-1.1zM490.6 519.1h1.1v1.1h-1.1zM490.1 530.4h1.1v1.1h-1.1zM489.2 535.3h1.1v1.1h-1.1zM492.6 528.7h1.1v1.1h-1.1zM489.6 538.1h1.1v1.1h-1.1zM488.1 534.8h1.1v1.1h-1.1zM490.8 529.8h1.1v1.1h-1.1zM491.5 518.4h1.1v1.1h-1.1zM491.0 534.2h1.1v1.1h-1.1zM487.2 523.1h1.1v1.1h-1.1zM489.9 525.1h1.1v1.1h-1.1zM488.0 539.6h1.1v1.1h-1.1zM491.8 528.3h1.1v1.1h-1.1zM491.1 540.3h1.1v1.1h-1.1zM490.1 535.5h1.1v1.1h-1.1zM490.0 521.3h1.1v1.1h-1.1zM489.7 542.5h1.1v1.1h-1.1zM493.9 528.4h1.1v1.1h-1.1zM488.7 522.3h1.1v1.1h-1.1zM491.7 521.9h1.1v1.1h-1.1zM489.3 544.1h1.1v1.1h-1.1zM490.5 524.0h1.1v1.1h-1.1zM487.6 541.0h1.1v1.1h-1.1zM491.8 528.6h1.1v1.1h-1.1zM491.0 526.4h1.1v1.1h-1.1zM490.9 518.8h1.1v1.1h-1.1zM492.0 538.2h1.1v1.1h-1.1zM491.8 526.8h1.1v1.1h-1.1zM486.1 533.1h1.1v1.1h-1.1zM488.3 541.6h1.1v1.1h-1.1zM490.9 543.0h1.1v1.1h-1.1zM489.8 520.7h1.1v1.1h-1.1zM491.0 535.2h1.1v1.1h-1.1zM491.6 520.8h1.1v1.1h-1.1zM488.5 520.8h1.1v1.1h-1.1zM489.6 538.4h1.1v1.1h-1.1zM488.2 529.8h1.1v1.1h-1.1zM488.8 543.8h1.1v1.1h-1.1zM493.0 527.8h1.1v1.1h-1.1zM489.1 530.4h1.1v1.1h-1.1zM491.5 518.5h1.1v1.1h-1.1zM491.6 519.2h1.1v1.1h-1.1zM489.9 519.2h1.1v1.1h-1.1zM487.8 539.7h1.1v1.1h-1.1zM489.6 523.7h1.1v1.1h-1.1zM487.1 520.1h1.1v1.1h-1.1zM490.3 528.2h1.1v1.1h-1.1zM489.3 541.5h1.1v1.1h-1.1zM488.0 532.6h1.1v1.1h-1.1zM491.0 518.5h1.1v1.1h-1.1zM490.4 534.7h1.1v1.1h-1.1zM491.2 543.4h1.1v1.1h-1.1zM491.4 528.6h1.1v1.1h-1.1zM490.2 527.8h1.1v1.1h-1.1zM491.2 520.0h1.1v1.1h-1.1zM492.7 529.3h1.1v1.1h-1.1zM490.2 531.9h1.1v1.1h-1.1zM489.8 535.5h1.1v1.1h-1.1zM490.1 530.9h1.1v1.1h-1.1zM487.2 535.8h1.1v1.1h-1.1zM494.7 522.2h1.1v1.1h-1.1zM491.1 531.7h1.1v1.1h-1.1zM487.2 531.5h1.1v1.1h-1.1zM490.5 538.9h1.1v1.1h-1.1zM489.3 544.7h1.1v1.1h-1.1zM488.1 519.2h1.1v1.1h-1.1zM490.1 519.9h1.1v1.1h-1.1zM488.3 542.2h1.1v1.1h-1.1zM491.1 524.7h1.1v1.1h-1.1zM489.0 521.3h1.1v1.1h-1.1zM489.9 543.9h1.1v1.1h-1.1zM490.7 518.1h1.1v1.1h-1.1zM491.8 541.3h1.1v1.1h-1.1zM489.7 535.9h1.1v1.1h-1.1zM493.0 519.9h1.1v1.1h-1.1zM491.2 536.6h1.1v1.1h-1.1zM490.1 522.1h1.1v1.1h-1.1zM492.0 521.1h1.1v1.1h-1.1zM491.5 518.7h1.1v1.1h-1.1zM490.2 532.0h1.1v1.1h-1.1zM489.5 539.1h1.1v1.1h-1.1zM490.9 525.2h1.1v1.1h-1.1zM490.9 529.5h1.1v1.1h-1.1zM491.0 543.2h1.1v1.1h-1.1zM491.0 520.0h1.1v1.1h-1.1zM490.1 519.0h1.1v1.1h-1.1zM488.1 518.6h1.1v1.1h-1.1zM490.4 539.8h1.1v1.1h-1.1zM491.3 528.0h1.1v1.1h-1.1zM488.3 524.1h1.1v1.1h-1.1zM488.8 530.7h1.1v1.1h-1.1zM489.0 519.4h1.1v1.1h-1.1zM492.3 543.7h1.1v1.1h-1.1zM489.1 524.8h1.1v1.1h-1.1zM490.1 533.3h1.1v1.1h-1.1zM491.3 519.1h1.1v1.1h-1.1zM487.9 529.3h1.1v1.1h-1.1zM486.2 523.3h1.1v1.1h-1.1zM487.4 535.9h1.1v1.1h-1.1zM493.1 543.3h1.1v1.1h-1.1zM492.3 520.1h1.1v1.1h-1.1zM492.3 519.4h1.1v1.1h-1.1zM489.0 528.6h1.1v1.1h-1.1zM489.9 539.0h1.1v1.1h-1.1zM487.7 542.9h1.1v1.1h-1.1zM489.9 541.6h1.1v1.1h-1.1zM488.1 529.9h1.1v1.1h-1.1zM489.9 521.3h1.1v1.1h-1.1zM491.3 528.3h1.1v1.1h-1.1zM490.0 533.2h1.1v1.1h-1.1zM486.9 532.8h1.1v1.1h-1.1zM488.5 524.0h1.1v1.1h-1.1zM490.7 521.1h1.1v1.1h-1.1zM489.2 539.2h1.1v1.1h-1.1zM492.6 544.8h1.1v1.1h-1.1zM488.8 536.1h1.1v1.1h-1.1zM487.3 518.1h1.1v1.1h-1.1zM489.7 524.5h1.1v1.1h-1.1zM488.5 522.2h1.1v1.1h-1.1zM492.4 533.3h1.1v1.1h-1.1zM492.9 537.6h1.1v1.1h-1.1zM488.5 530.8h1.1v1.1h-1.1zM491.4 537.1h1.1v1.1h-1.1zM492.2 525.6h1.1v1.1h-1.1zM490.9 526.2h1.1v1.1h-1.1zM487.3 544.5h1.1v1.1h-1.1zM492.0 541.5h1.1v1.1h-1.1zM492.1 530.9h1.1v1.1h-1.1zM490.2 538.9h1.1v1.1h-1.1zM489.9 544.0h1.1v1.1h-1.1zM490.0 519.0h1.1v1.1h-1.1zM490.5 527.3h1.1v1.1h-1.1zM489.6 531.3h1.1v1.1h-1.1zM486.8 527.7h1.1v1.1h-1.1zM489.2 519.6h1.1v1.1h-1.1zM488.4 541.9h1.1v1.1h-1.1zM486.6 522.8h1.1v1.1h-1.1zM488.4 523.6h1.1v1.1h-1.1zM493.5 518.9h1.1v1.1h-1.1zM490.1 530.9h1.1v1.1h-1.1zM488.3 523.9h1.1v1.1h-1.1zM492.0 529.7h1.1v1.1h-1.1zM490.8 553.0h1.1v1.1h-1.1zM488.7 552.5h1.1v1.1h-1.1zM492.1 562.6h1.1v1.1h-1.1zM488.4 563.0h1.1v1.1h-1.1zM486.5 558.5h1.1v1.1h-1.1zM486.6 565.8h1.1v1.1h-1.1zM490.3 565.3h1.1v1.1h-1.1zM488.0 569.1h1.1v1.1h-1.1zM491.6 545.6h1.1v1.1h-1.1zM487.1 561.7h1.1v1.1h-1.1zM488.2 570.9h1.1v1.1h-1.1zM491.5 545.6h1.1v1.1h-1.1zM489.0 566.5h1.1v1.1h-1.1zM488.6 568.5h1.1v1.1h-1.1zM492.2 559.7h1.1v1.1h-1.1zM489.7 553.9h1.1v1.1h-1.1zM492.3 558.7h1.1v1.1h-1.1zM490.0 571.1h1.1v1.1h-1.1zM487.5 554.8h1.1v1.1h-1.1zM487.0 546.8h1.1v1.1h-1.1zM490.3 563.5h1.1v1.1h-1.1zM490.8 555.0h1.1v1.1h-1.1zM490.9 560.5h1.1v1.1h-1.1zM488.3 559.3h1.1v1.1h-1.1zM489.1 553.8h1.1v1.1h-1.1zM490.9 555.6h1.1v1.1h-1.1zM491.3 546.9h1.1v1.1h-1.1zM490.5 565.4h1.1v1.1h-1.1zM489.4 562.9h1.1v1.1h-1.1zM492.3 546.5h1.1v1.1h-1.1zM490.9 567.1h1.1v1.1h-1.1zM489.9 568.6h1.1v1.1h-1.1zM488.6 554.3h1.1v1.1h-1.1zM490.5 548.3h1.1v1.1h-1.1zM490.4 570.3h1.1v1.1h-1.1zM490.2 564.7h1.1v1.1h-1.1zM491.3 563.1h1.1v1.1h-1.1zM491.4 552.8h1.1v1.1h-1.1zM494.9 561.5h1.1v1.1h-1.1zM489.0 555.2h1.1v1.1h-1.1zM491.7 548.3h1.1v1.1h-1.1zM491.8 548.3h1.1v1.1h-1.1zM490.7 547.8h1.1v1.1h-1.1zM490.8 553.6h1.1v1.1h-1.1zM490.1 555.9h1.1v1.1h-1.1zM489.7 564.3h1.1v1.1h-1.1zM489.3 555.8h1.1v1.1h-1.1zM483.6 563.1h1.1v1.1h-1.1zM488.4 545.9h1.1v1.1h-1.1zM492.9 563.1h1.1v1.1h-1.1zM491.1 561.3h1.1v1.1h-1.1zM495.9 560.9h1.1v1.1h-1.1zM488.9 545.5h1.1v1.1h-1.1zM492.7 560.1h1.1v1.1h-1.1zM491.1 561.5h1.1v1.1h-1.1zM488.6 550.6h1.1v1.1h-1.1zM493.0 553.4h1.1v1.1h-1.1zM489.5 549.9h1.1v1.1h-1.1zM493.9 558.3h1.1v1.1h-1.1zM487.8 562.4h1.1v1.1h-1.1zM492.2 563.4h1.1v1.1h-1.1zM491.5 546.9h1.1v1.1h-1.1zM488.0 554.3h1.1v1.1h-1.1zM492.4 554.3h1.1v1.1h-1.1zM489.2 549.8h1.1v1.1h-1.1zM490.1 551.8h1.1v1.1h-1.1zM487.7 550.6h1.1v1.1h-1.1zM490.3 559.4h1.1v1.1h-1.1zM488.0 552.5h1.1v1.1h-1.1zM490.3 552.5h1.1v1.1h-1.1zM488.4 562.8h1.1v1.1h-1.1zM492.7 554.3h1.1v1.1h-1.1zM487.2 546.7h1.1v1.1h-1.1zM492.7 551.3h1.1v1.1h-1.1zM488.8 561.1h1.1v1.1h-1.1zM491.1 556.3h1.1v1.1h-1.1zM492.2 547.0h1.1v1.1h-1.1zM490.5 571.7h1.1v1.1h-1.1zM491.8 545.1h1.1v1.1h-1.1zM488.5 552.9h1.1v1.1h-1.1zM489.4 561.5h1.1v1.1h-1.1zM487.0 570.1h1.1v1.1h-1.1zM492.3 552.9h1.1v1.1h-1.1zM487.1 567.3h1.1v1.1h-1.1zM487.8 563.1h1.1v1.1h-1.1zM490.0 559.5h1.1v1.1h-1.1zM485.1 555.6h1.1v1.1h-1.1zM491.3 545.7h1.1v1.1h-1.1zM490.9 551.5h1.1v1.1h-1.1zM489.4 562.6h1.1v1.1h-1.1zM488.1 552.4h1.1v1.1h-1.1zM488.7 564.9h1.1v1.1h-1.1zM489.2 551.2h1.1v1.1h-1.1zM488.4 559.4h1.1v1.1h-1.1zM486.2 565.5h1.1v1.1h-1.1zM491.7 555.1h1.1v1.1h-1.1zM488.7 549.8h1.1v1.1h-1.1zM491.4 545.4h1.1v1.1h-1.1zM488.9 562.4h1.1v1.1h-1.1zM489.5 563.2h1.1v1.1h-1.1zM486.6 561.5h1.1v1.1h-1.1zM488.9 561.8h1.1v1.1h-1.1zM491.2 549.3h1.1v1.1h-1.1zM495.0 551.0h1.1v1.1h-1.1zM492.0 557.6h1.1v1.1h-1.1zM489.0 551.7h1.1v1.1h-1.1zM488.8 548.6h1.1v1.1h-1.1zM488.4 567.3h1.1v1.1h-1.1zM491.4 566.4h1.1v1.1h-1.1zM491.5 560.8h1.1v1.1h-1.1zM474.6 528.4h1.1v1.1h-1.1zM477.1 537.1h1.1v1.1h-1.1zM479.1 527.3h1.1v1.1h-1.1zM477.9 525.4h1.1v1.1h-1.1zM478.1 530.2h1.1v1.1h-1.1zM485.2 524.1h1.1v1.1h-1.1zM483.8 531.0h1.1v1.1h-1.1zM475.3 543.3h1.1v1.1h-1.1zM480.4 522.9h1.1v1.1h-1.1zM477.4 527.8h1.1v1.1h-1.1zM474.6 531.7h1.1v1.1h-1.1zM478.7 539.8h1.1v1.1h-1.1zM478.0 519.2h1.1v1.1h-1.1zM483.6 537.9h1.1v1.1h-1.1zM475.9 540.1h1.1v1.1h-1.1zM479.3 523.8h1.1v1.1h-1.1zM481.6 532.7h1.1v1.1h-1.1zM477.2 534.1h1.1v1.1h-1.1zM476.3 531.0h1.1v1.1h-1.1zM480.0 535.0h1.1v1.1h-1.1zM480.9 515.8h1.1v1.1h-1.1zM477.4 533.5h1.1v1.1h-1.1zM481.8 524.5h1.1v1.1h-1.1zM482.9 525.1h1.1v1.1h-1.1zM483.5 532.1h1.1v1.1h-1.1zM479.9 521.9h1.1v1.1h-1.1zM476.1 532.4h1.1v1.1h-1.1zM479.9 529.8h1.1v1.1h-1.1zM477.8 539.9h1.1v1.1h-1.1zM476.4 534.6h1.1v1.1h-1.1zM482.3 533.6h1.1v1.1h-1.1zM479.6 523.0h1.1v1.1h-1.1zM485.2 540.2h1.1v1.1h-1.1zM475.6 525.4h1.1v1.1h-1.1zM475.2 521.5h1.1v1.1h-1.1zM478.6 524.5h1.1v1.1h-1.1zM479.1 533.9h1.1v1.1h-1.1zM476.3 522.9h1.1v1.1h-1.1zM482.2 536.8h1.1v1.1h-1.1zM478.2 525.0h1.1v1.1h-1.1zM480.6 532.5h1.1v1.1h-1.1zM482.4 532.0h1.1v1.1h-1.1zM476.6 525.7h1.1v1.1h-1.1zM479.4 521.1h1.1v1.1h-1.1zM475.9 536.6h1.1v1.1h-1.1zM481.9 534.6h1.1v1.1h-1.1zM484.1 529.0h1.1v1.1h-1.1zM476.6 531.7h1.1v1.1h-1.1zM482.2 524.5h1.1v1.1h-1.1zM486.1 539.1h1.1v1.1h-1.1zM474.2 525.4h1.1v1.1h-1.1zM481.6 533.2h1.1v1.1h-1.1zM483.0 533.7h1.1v1.1h-1.1zM478.5 527.6h1.1v1.1h-1.1zM480.5 534.1h1.1v1.1h-1.1zM476.3 528.9h1.1v1.1h-1.1zM479.1 528.2h1.1v1.1h-1.1zM474.7 534.3h1.1v1.1h-1.1zM473.2 530.8h1.1v1.1h-1.1zM476.0 531.0h1.1v1.1h-1.1zM484.1 545.6h1.1v1.1h-1.1zM481.7 529.6h1.1v1.1h-1.1zM474.6 529.3h1.1v1.1h-1.1zM480.2 520.5h1.1v1.1h-1.1zM476.8 533.2h1.1v1.1h-1.1zM480.2 528.1h1.1v1.1h-1.1zM475.1 532.7h1.1v1.1h-1.1zM475.2 544.1h1.1v1.1h-1.1zM478.1 527.5h1.1v1.1h-1.1zM483.2 524.9h1.1v1.1h-1.1zM476.8 535.2h1.1v1.1h-1.1zM473.6 533.1h1.1v1.1h-1.1zM476.4 522.9h1.1v1.1h-1.1zM478.9 530.0h1.1v1.1h-1.1zM478.7 533.7h1.1v1.1h-1.1zM475.2 537.9h1.1v1.1h-1.1zM485.3 521.0h1.1v1.1h-1.1zM476.8 530.4h1.1v1.1h-1.1zM473.7 532.9h1.1v1.1h-1.1zM478.3 529.1h1.1v1.1h-1.1zM481.0 528.0h1.1v1.1h-1.1zM477.0 534.5h1.1v1.1h-1.1zM479.4 534.7h1.1v1.1h-1.1zM483.2 524.0h1.1v1.1h-1.1zM480.2 538.9h1.1v1.1h-1.1zM479.4 530.9h1.1v1.1h-1.1zM480.7 534.5h1.1v1.1h-1.1zM479.8 527.8h1.1v1.1h-1.1zM480.3 527.2h1.1v1.1h-1.1zM479.5 529.8h1.1v1.1h-1.1zM471.3 529.9h1.1v1.1h-1.1zM480.3 533.7h1.1v1.1h-1.1zM478.7 524.6h1.1v1.1h-1.1zM473.8 517.4h1.1v1.1h-1.1zM479.9 537.2h1.1v1.1h-1.1zM483.8 542.6h1.1v1.1h-1.1zM474.5 535.1h1.1v1.1h-1.1zM475.7 518.4h1.1v1.1h-1.1zM478.5 527.4h1.1v1.1h-1.1zM481.0 535.3h1.1v1.1h-1.1zM479.5 540.5h1.1v1.1h-1.1zM485.8 528.8h1.1v1.1h-1.1zM482.3 540.8h1.1v1.1h-1.1zM478.1 528.2h1.1v1.1h-1.1zM479.7 527.4h1.1v1.1h-1.1zM481.4 537.4h1.1v1.1h-1.1zM477.7 536.1h1.1v1.1h-1.1zM478.5 544.3h1.1v1.1h-1.1zM481.4 541.2h1.1v1.1h-1.1zM482.0 526.6h1.1v1.1h-1.1zM477.2 534.5h1.1v1.1h-1.1zM475.5 539.3h1.1v1.1h-1.1zM478.5 545.1h1.1v1.1h-1.1zM476.0 523.9h1.1v1.1h-1.1zM483.1 529.7h1.1v1.1h-1.1zM473.5 540.8h1.1v1.1h-1.1zM479.8 531.3h1.1v1.1h-1.1zM476.5 533.0h1.1v1.1h-1.1zM479.8 528.0h1.1v1.1h-1.1zM478.5 534.9h1.1v1.1h-1.1zM475.8 541.6h1.1v1.1h-1.1zM478.8 527.3h1.1v1.1h-1.1zM480.1 523.0h1.1v1.1h-1.1zM481.3 539.8h1.1v1.1h-1.1zM472.9 530.4h1.1v1.1h-1.1zM479.7 525.9h1.1v1.1h-1.1zM474.0 524.0h1.1v1.1h-1.1zM473.5 534.5h1.1v1.1h-1.1zM474.1 532.5h1.1v1.1h-1.1zM477.2 540.1h1.1v1.1h-1.1zM477.1 534.3h1.1v1.1h-1.1zM480.3 527.5h1.1v1.1h-1.1zM476.5 535.9h1.1v1.1h-1.1zM477.8 523.3h1.1v1.1h-1.1zM479.4 536.1h1.1v1.1h-1.1zM477.8 539.1h1.1v1.1h-1.1zM475.2 516.7h1.1v1.1h-1.1zM475.1 539.1h1.1v1.1h-1.1zM474.8 529.1h1.1v1.1h-1.1zM478.7 532.7h1.1v1.1h-1.1zM484.4 537.9h1.1v1.1h-1.1zM482.7 527.3h1.1v1.1h-1.1zM482.1 536.5h1.1v1.1h-1.1zM472.5 530.9h1.1v1.1h-1.1zM474.9 512.6h1.1v1.1h-1.1zM476.5 538.9h1.1v1.1h-1.1zM476.7 543.3h1.1v1.1h-1.1zM482.9 534.1h1.1v1.1h-1.1zM479.5 528.7h1.1v1.1h-1.1zM476.9 531.2h1.1v1.1h-1.1zM473.2 538.2h1.1v1.1h-1.1zM486.2 540.5h1.1v1.1h-1.1zM478.9 542.6h1.1v1.1h-1.1zM478.2 519.0h1.1v1.1h-1.1zM480.2 540.3h1.1v1.1h-1.1zM476.8 536.4h1.1v1.1h-1.1zM480.8 529.2h1.1v1.1h-1.1zM475.5 534.6h1.1v1.1h-1.1zM482.6 535.7h1.1v1.1h-1.1zM482.3 539.5h1.1v1.1h-1.1zM482.6 534.5h1.1v1.1h-1.1zM487.7 538.2h1.1v1.1h-1.1zM482.3 528.3h1.1v1.1h-1.1zM477.0 525.3h1.1v1.1h-1.1zM475.6 527.9h1.1v1.1h-1.1zM477.4 518.8h1.1v1.1h-1.1zM480.0 527.4h1.1v1.1h-1.1zM477.1 524.3h1.1v1.1h-1.1zM485.7 538.0h1.1v1.1h-1.1zM480.4 524.1h1.1v1.1h-1.1zM478.7 534.1h1.1v1.1h-1.1zM479.0 534.9h1.1v1.1h-1.1zM475.5 529.2h1.1v1.1h-1.1zM483.0 533.5h1.1v1.1h-1.1zM479.5 536.2h1.1v1.1h-1.1zM473.4 532.9h1.1v1.1h-1.1zM482.1 536.0h1.1v1.1h-1.1zM480.5 520.2h1.1v1.1h-1.1zM478.2 518.4h1.1v1.1h-1.1zM478.7 539.4h1.1v1.1h-1.1zM478.9 534.4h1.1v1.1h-1.1zM479.5 529.4h1.1v1.1h-1.1zM477.2 532.8h1.1v1.1h-1.1zM478.2 551.2h1.1v1.1h-1.1zM483.3 524.1h1.1v1.1h-1.1zM481.7 528.3h1.1v1.1h-1.1zM477.9 527.8h1.1v1.1h-1.1zM482.1 530.1h1.1v1.1h-1.1zM472.4 529.6h1.1v1.1h-1.1zM476.7 517.0h1.1v1.1h-1.1zM481.0 533.8h1.1v1.1h-1.1zM482.1 515.1h1.1v1.1h-1.1zM470.7 540.8h1.1v1.1h-1.1zM479.9 523.3h1.1v1.1h-1.1zM480.1 532.6h1.1v1.1h-1.1zM477.6 526.4h1.1v1.1h-1.1zM477.1 531.3h1.1v1.1h-1.1zM473.0 527.8h1.1v1.1h-1.1zM480.1 531.9h1.1v1.1h-1.1zM473.1 521.1h1.1v1.1h-1.1zM476.6 535.6h1.1v1.1h-1.1zM478.1 526.6h1.1v1.1h-1.1zM472.6 529.6h1.1v1.1h-1.1zM487.2 524.7h1.1v1.1h-1.1zM487.8 515.8h1.1v1.1h-1.1zM474.0 539.5h1.1v1.1h-1.1zM474.6 526.1h1.1v1.1h-1.1zM482.1 521.0h1.1v1.1h-1.1zM475.4 519.0h1.1v1.1h-1.1zM483.1 532.6h1.1v1.1h-1.1zM483.5 533.4h1.1v1.1h-1.1zM480.8 530.5h1.1v1.1h-1.1zM480.1 522.8h1.1v1.1h-1.1zM476.8 521.8h1.1v1.1h-1.1zM483.1 521.5h1.1v1.1h-1.1zM477.4 536.0h1.1v1.1h-1.1zM480.7 534.8h1.1v1.1h-1.1zM479.3 533.1h1.1v1.1h-1.1zM477.3 525.8h1.1v1.1h-1.1zM476.9 524.8h1.1v1.1h-1.1zM472.2 539.1h1.1v1.1h-1.1zM470.4 537.4h1.1v1.1h-1.1zM478.2 542.0h1.1v1.1h-1.1zM478.5 530.0h1.1v1.1h-1.1zM482.3 518.6h1.1v1.1h-1.1zM477.9 542.1h1.1v1.1h-1.1zM483.7 526.8h1.1v1.1h-1.1zM474.5 525.7h1.1v1.1h-1.1zM481.1 522.4h1.1v1.1h-1.1zM482.4 521.4h1.1v1.1h-1.1z" fill="#111"/>
<path d="M493.7 542.8h1.0v1.0h-1.0zM470.5 570.1h1.0v1.0h-1.0zM475.2 566.1h1.0v1.0h-1.0zM480.9 547.2h1.0v1.0h-1.0zM470.3 553.7h1.0v1.0h-1.0zM486.2 541.7h1.0v1.0h-1.0zM470.3 549.2h1.0v1.0h-1.0zM493.8 564.0h1.0v1.0h-1.0zM476.9 552.9h1.0v1.0h-1.0zM481.2 562.7h1.0v1.0h-1.0zM477.7 551.4h1.0v1.0h-1.0zM483.6 547.6h1.0v1.0h-1.0zM481.6 563.9h1.0v1.0h-1.0zM483.6 541.8h1.0v1.0h-1.0zM479.4 558.2h1.0v1.0h-1.0zM476.3 552.4h1.0v1.0h-1.0zM485.1 551.7h1.0v1.0h-1.0zM474.9 568.0h1.0v1.0h-1.0zM471.8 569.0h1.0v1.0h-1.0zM472.6 557.7h1.0v1.0h-1.0zM484.7 553.1h1.0v1.0h-1.0zM486.9 568.3h1.0v1.0h-1.0zM478.6 541.9h1.0v1.0h-1.0zM475.4 568.1h1.0v1.0h-1.0zM486.2 564.1h1.0v1.0h-1.0zM481.8 525.6h1.0v1.0h-1.0zM481.8 527.2h1.0v1.0h-1.0zM473.0 535.0h1.0v1.0h-1.0zM477.5 524.2h1.0v1.0h-1.0zM485.4 538.5h1.0v1.0h-1.0zM475.9 531.9h1.0v1.0h-1.0zM476.7 526.4h1.0v1.0h-1.0zM475.6 528.7h1.0v1.0h-1.0zM475.1 533.4h1.0v1.0h-1.0zM482.7 528.9h1.0v1.0h-1.0zM471.2 538.1h1.0v1.0h-1.0zM476.3 544.3h1.0v1.0h-1.0zM482.6 530.5h1.0v1.0h-1.0zM486.9 522.4h1.0v1.0h-1.0zM479.4 536.6h1.0v1.0h-1.0zM479.7 530.9h1.0v1.0h-1.0zM473.5 541.7h1.0v1.0h-1.0zM472.9 508.7h1.0v1.0h-1.0zM476.0 539.1h1.0v1.0h-1.0zM479.1 528.4h1.0v1.0h-1.0zM478.7 534.1h1.0v1.0h-1.0zM476.9 525.4h1.0v1.0h-1.0zM477.1 524.4h1.0v1.0h-1.0zM482.8 529.8h1.0v1.0h-1.0zM482.0 525.4h1.0v1.0h-1.0zM472.9 549.8h1.0v1.0h-1.0zM485.5 535.5h1.0v1.0h-1.0zM481.2 529.5h1.0v1.0h-1.0zM483.7 513.7h1.0v1.0h-1.0zM479.7 539.4h1.0v1.0h-1.0zM482.9 526.6h1.0v1.0h-1.0zM476.3 525.7h1.0v1.0h-1.0zM483.3 541.5h1.0v1.0h-1.0zM473.4 528.0h1.0v1.0h-1.0zM479.2 521.8h1.0v1.0h-1.0zM486.2 523.7h1.0v1.0h-1.0zM481.0 529.5h1.0v1.0h-1.0zM477.9 523.7h1.0v1.0h-1.0zM472.9 537.3h1.0v1.0h-1.0zM482.4 534.9h1.0v1.0h-1.0z" fill="#888"/>
<rect x="286.3" y="613.8" width="81.19999999999999" height="78.0" fill="none" stroke="#111" stroke-width="1.3"/>
<line x1="342.00" y1="613.80" x2="342.00" y2="691.80" stroke="#000" stroke-width="1.3"/>
<line x1="286.30" y1="660.00" x2="367.50" y2="660.00" stroke="#000" stroke-width="1.3"/>
<path d="M286.30 691.8v2M286.3 691.80h-2M306.60 691.8v2M286.3 672.30h-2M326.90 691.8v2M286.3 652.80h-2M347.20 691.8v2M286.3 633.30h-2M367.50 691.8v2M286.3 613.80h-2" stroke="#000" stroke-width="0.9" fill="none"/>
<text x="286.30" y="697.40" font-size="4.6" text-anchor="middle" font-weight="bold" stroke="#000" stroke-width="0.35">10</text>
<text x="281.7" y="692.0999999999999" font-size="4.6" font-weight="bold" text-anchor="middle" stroke="#000" stroke-width="0.35" transform="rotate(-90 281.7 692.0999999999999)">10</text>
<text x="306.60" y="697.40" font-size="4.6" text-anchor="middle" font-weight="bold" stroke="#000" stroke-width="0.35">10</text>
<text x="281.7" y="672.5999999999999" font-size="4.6" font-weight="bold" text-anchor="middle" stroke="#000" stroke-width="0.35" transform="rotate(-90 281.7 672.5999999999999)">10</text>
<text x="326.90" y="697.40" font-size="4.6" text-anchor="middle" font-weight="bold" stroke="#000" stroke-width="0.35">10</text>
<text x="281.7" y="653.0999999999999" font-size="4.6" font-weight="bold" text-anchor="middle" stroke="#000" stroke-width="0.35" transform="rotate(-90 281.7 653.0999999999999)">10</text>
<text x="347.20" y="697.40" font-size="4.6" text-anchor="middle" font-weight="bold" stroke="#000" stroke-width="0.35">10</text>
<text x="281.7" y="633.5999999999999" font-size="4.6" font-weight="bold" text-anchor="middle" stroke="#000" stroke-width="0.35" transform="rotate(-90 281.7 633.5999999999999)">10</text>
<text x="367.50" y="697.40" font-size="4.6" text-anchor="middle" font-weight="bold" stroke="#000" stroke-width="0.35">10</text>
<text x="281.7" y="614.0999999999999" font-size="4.6" font-weight="bold" text-anchor="middle" stroke="#000" stroke-width="0.35" transform="rotate(-90 281.7 614.0999999999999)">10</text>
<path d="M344.2 676.7h1.1v1.1h-1.1zM344.1 680.4h1.1v1.1h-1.1zM346.4 681.7h1.1v1.1h-1.1zM346.8 664.0h1.1v1.1h-1.1zM344.1 682.0h1.1v1.1h-1.1zM343.8 667.6h1.1v1.1h-1.1zM345.3 681.1h1.1v1.1h-1.1zM344.7 676.4h1.1v1.1h-1.1zM344.3 683.7h1.1v1.1h-1.1zM346.1 665.3h1.1v1.1h-1.1zM344.4 675.7h1.1v1.1h-1.1zM344.1 665.9h1.1v1.1h-1.1zM346.4 672.3h1.1v1.1h-1.1zM345.8 674.3h1.1v1.1h-1.1zM343.5 687.2h1.1v1.1h-1.1zM345.9 673.5h1.1v1.1h-1.1zM343.4 682.8h1.1v1.1h-1.1zM345.1 682.3h1.1v1.1h-1.1zM343.4 664.2h1.1v1.1h-1.1zM345.3 668.3h1.1v1.1h-1.1zM343.1 672.2h1.1v1.1h-1.1zM342.6 666.5h1.1v1.1h-1.1zM347.1 672.9h1.1v1.1h-1.1zM343.6 689.8h1.1v1.1h-1.1zM345.6 667.0h1.1v1.1h-1.1zM345.8 678.4h1.1v1.1h-1.1zM343.5 669.3h1.1v1.1h-1.1zM346.3 684.2h1.1v1.1h-1.1zM345.2 674.6h1.1v1.1h-1.1zM343.9 666.8h1.1v1.1h-1.1zM346.4 679.9h1.1v1.1h-1.1zM345.2 668.4h1.1v1.1h-1.1zM345.1 678.4h1.1v1.1h-1.1zM344.7 688.2h1.1v1.1h-1.1zM345.3 682.3h1.1v1.1h-1.1zM344.8 678.2h1.1v1.1h-1.1zM344.2 673.6h1.1v1.1h-1.1zM344.6 673.7h1.1v1.1h-1.1zM345.6 683.0h1.1v1.1h-1.1zM344.9 688.2h1.1v1.1h-1.1zM344.8 690.2h1.1v1.1h-1.1zM345.9 669.2h1.1v1.1h-1.1zM344.7 669.0h1.1v1.1h-1.1zM347.1 669.5h1.1v1.1h-1.1zM346.7 668.0h1.1v1.1h-1.1zM345.3 673.9h1.1v1.1h-1.1zM343.9 668.8h1.1v1.1h-1.1zM344.2 676.6h1.1v1.1h-1.1zM344.1 678.3h1.1v1.1h-1.1zM346.2 685.9h1.1v1.1h-1.1zM343.8 673.3h1.1v1.1h-1.1zM343.2 687.5h1.1v1.1h-1.1zM346.2 677.4h1.1v1.1h-1.1zM344.3 682.1h1.1v1.1h-1.1zM344.8 674.8h1.1v1.1h-1.1zM344.2 676.8h1.1v1.1h-1.1zM344.9 664.7h1.1v1.1h-1.1zM344.4 670.8h1.1v1.1h-1.1zM345.6 671.6h1.1v1.1h-1.1zM344.4 680.8h1.1v1.1h-1.1zM347.6 654.1h1.1v1.1h-1.1zM345.3 657.3h1.1v1.1h-1.1zM345.5 651.1h1.1v1.1h-1.1zM347.7 647.0h1.1v1.1h-1.1zM349.2 649.3h1.1v1.1h-1.1zM349.1 646.9h1.1v1.1h-1.1z" fill="#111"/>
<path d="M330.5 677.1h1.0v1.0h-1.0zM331.9 672.8h1.0v1.0h-1.0zM331.4 681.0h1.0v1.0h-1.0zM337.8 679.9h1.0v1.0h-1.0zM330.6 661.4h1.0v1.0h-1.0zM336.0 662.4h1.0v1.0h-1.0zM337.6 675.9h1.0v1.0h-1.0zM340.2 683.7h1.0v1.0h-1.0zM336.9 684.0h1.0v1.0h-1.0zM335.1 668.4h1.0v1.0h-1.0zM329.7 680.4h1.0v1.0h-1.0zM337.0 678.3h1.0v1.0h-1.0zM335.1 673.2h1.0v1.0h-1.0zM340.0 670.9h1.0v1.0h-1.0zM330.7 687.6h1.0v1.0h-1.0zM338.1 686.0h1.0v1.0h-1.0zM340.8 672.7h1.0v1.0h-1.0zM330.9 674.3h1.0v1.0h-1.0zM334.9 671.2h1.0v1.0h-1.0zM338.4 667.3h1.0v1.0h-1.0zM340.6 666.2h1.0v1.0h-1.0zM332.4 684.1h1.0v1.0h-1.0zM329.7 644.5h1.0v1.0h-1.0zM330.5 638.2h1.0v1.0h-1.0zM334.4 634.9h1.0v1.0h-1.0zM341.5 648.8h1.0v1.0h-1.0zM343.5 633.2h1.0v1.0h-1.0z" fill="#888"/>
<rect x="396.7" y="613.7" width="79.69999999999999" height="78.0" fill="none" stroke="#111" stroke-width="1.3"/>
<line x1="451.40" y1="613.70" x2="451.40" y2="691.70" stroke="#000" stroke-width="1.3"/>
<line x1="396.70" y1="660.00" x2="476.40" y2="660.00" stroke="#000" stroke-width="1.3"/>
<path d="M396.70 691.7v2M396.7 691.70h-2M416.62 691.7v2M396.7 672.20h-2M436.55 691.7v2M396.7 652.70h-2M456.47 691.7v2M396.7 633.20h-2M476.40 691.7v2M396.7 613.70h-2" stroke="#000" stroke-width="0.9" fill="none"/>
<text x="396.70" y="697.30" font-size="4.6" text-anchor="middle" font-weight="bold" stroke="#000" stroke-width="0.35">10</text>
<text x="392.09999999999997" y="692.0" font-size="4.6" font-weight="bold" text-anchor="middle" stroke="#000" stroke-width="0.35" transform="rotate(-90 392.09999999999997 692.0)">10</text>
<text x="416.62" y="697.30" font-size="4.6" text-anchor="middle" font-weight="bold" stroke="#000" stroke-width="0.35">10</text>
<text x="392.09999999999997" y="672.5" font-size="4.6" font-weight="bold" text-anchor="middle" stroke="#000" stroke-width="0.35" transform="rotate(-90 392.09999999999997 672.5)">10</text>
<text x="436.55" y="697.30" font-size="4.6" text-anchor="middle" font-weight="bold" stroke="#000" stroke-width="0.35">10</text>
<text x="392.09999999999997" y="653.0" font-size="4.6" font-weight="bold" text-anchor="middle" stroke="#000" stroke-width="0.35" transform="rotate(-90 392.09999999999997 653.0)">10</text>
<text x="456.47" y="697.30" font-size="4.6" text-anchor="middle" font-weight="bold" stroke="#000" stroke-width="0.35">10</text>
<text x="392.09999999999997" y="633.5" font-size="4.6" font-weight="bold" text-anchor="middle" stroke="#000" stroke-width="0.35" transform="rotate(-90 392.09999999999997 633.5)">10</text>
<text x="476.40" y="697.30" font-size="4.6" text-anchor="middle" font-weight="bold" stroke="#000" stroke-width="0.35">10</text>
<text x="392.09999999999997" y="614.0" font-size="4.6" font-weight="bold" text-anchor="middle" stroke="#000" stroke-width="0.35" transform="rotate(-90 392.09999999999997 614.0)">10</text>
<path d="M456.9 646.8h1.1v1.1h-1.1zM455.6 651.8h1.1v1.1h-1.1zM459.6 648.2h1.1v1.1h-1.1zM454.2 659.2h1.1v1.1h-1.1zM454.9 655.8h1.1v1.1h-1.1zM455.6 646.5h1.1v1.1h-1.1zM454.9 652.0h1.1v1.1h-1.1zM456.2 642.7h1.1v1.1h-1.1zM454.9 654.8h1.1v1.1h-1.1zM454.7 660.0h1.1v1.1h-1.1zM455.9 654.5h1.1v1.1h-1.1zM453.9 643.2h1.1v1.1h-1.1zM454.8 640.5h1.1v1.1h-1.1zM456.9 658.0h1.1v1.1h-1.1zM453.2 657.3h1.1v1.1h-1.1zM454.8 649.6h1.1v1.1h-1.1zM452.8 651.5h1.1v1.1h-1.1zM456.6 647.1h1.1v1.1h-1.1zM453.2 655.9h1.1v1.1h-1.1zM454.3 662.2h1.1v1.1h-1.1zM454.4 665.6h1.1v1.1h-1.1zM456.3 646.0h1.1v1.1h-1.1zM453.6 647.7h1.1v1.1h-1.1zM455.0 664.3h1.1v1.1h-1.1zM457.0 664.9h1.1v1.1h-1.1zM457.0 643.4h1.1v1.1h-1.1zM451.4 643.7h1.1v1.1h-1.1zM455.1 655.4h1.1v1.1h-1.1zM454.4 646.0h1.1v1.1h-1.1zM456.6 654.0h1.1v1.1h-1.1zM454.4 646.5h1.1v1.1h-1.1zM450.8 652.6h1.1v1.1h-1.1zM455.2 650.9h1.1v1.1h-1.1zM453.6 655.1h1.1v1.1h-1.1zM459.4 651.2h1.1v1.1h-1.1zM453.6 651.5h1.1v1.1h-1.1zM456.8 641.8h1.1v1.1h-1.1zM456.5 659.7h1.1v1.1h-1.1zM455.5 647.4h1.1v1.1h-1.1zM454.2 658.7h1.1v1.1h-1.1zM453.2 665.2h1.1v1.1h-1.1zM453.8 644.2h1.1v1.1h-1.1zM454.2 658.0h1.1v1.1h-1.1zM455.1 651.6h1.1v1.1h-1.1zM455.2 664.2h1.1v1.1h-1.1zM454.4 660.0h1.1v1.1h-1.1zM454.3 646.2h1.1v1.1h-1.1zM454.2 647.1h1.1v1.1h-1.1zM454.0 662.2h1.1v1.1h-1.1zM456.8 650.2h1.1v1.1h-1.1zM454.6 648.7h1.1v1.1h-1.1zM454.4 662.4h1.1v1.1h-1.1zM457.2 642.0h1.1v1.1h-1.1zM455.0 648.6h1.1v1.1h-1.1zM455.8 650.0h1.1v1.1h-1.1zM457.7 656.2h1.1v1.1h-1.1zM454.4 648.3h1.1v1.1h-1.1zM452.9 660.3h1.1v1.1h-1.1zM458.5 654.7h1.1v1.1h-1.1zM454.6 641.9h1.1v1.1h-1.1zM456.7 661.0h1.1v1.1h-1.1zM455.2 659.7h1.1v1.1h-1.1zM454.5 659.8h1.1v1.1h-1.1zM455.4 647.0h1.1v1.1h-1.1zM457.3 655.4h1.1v1.1h-1.1zM455.5 647.5h1.1v1.1h-1.1zM455.2 660.5h1.1v1.1h-1.1zM457.0 665.6h1.1v1.1h-1.1zM456.2 658.3h1.1v1.1h-1.1zM454.2 641.7h1.1v1.1h-1.1zM454.0 662.3h1.1v1.1h-1.1zM456.7 655.3h1.1v1.1h-1.1zM457.3 644.7h1.1v1.1h-1.1zM453.3 642.2h1.1v1.1h-1.1zM455.4 662.6h1.1v1.1h-1.1zM455.8 649.1h1.1v1.1h-1.1zM453.9 647.5h1.1v1.1h-1.1zM454.9 660.3h1.1v1.1h-1.1zM454.1 662.4h1.1v1.1h-1.1zM454.3 645.8h1.1v1.1h-1.1zM456.4 646.2h1.1v1.1h-1.1zM457.8 654.6h1.1v1.1h-1.1zM454.3 662.4h1.1v1.1h-1.1zM455.6 647.9h1.1v1.1h-1.1zM454.0 656.4h1.1v1.1h-1.1zM456.7 659.1h1.1v1.1h-1.1zM456.6 654.7h1.1v1.1h-1.1zM457.5 662.0h1.1v1.1h-1.1zM455.9 660.0h1.1v1.1h-1.1zM454.7 661.9h1.1v1.1h-1.1zM452.9 665.2h1.1v1.1h-1.1zM454.3 642.0h1.1v1.1h-1.1zM454.5 655.0h1.1v1.1h-1.1zM452.6 654.6h1.1v1.1h-1.1zM456.3 643.4h1.1v1.1h-1.1zM456.0 658.6h1.1v1.1h-1.1zM457.6 642.1h1.1v1.1h-1.1zM453.6 662.3h1.1v1.1h-1.1zM452.8 657.9h1.1v1.1h-1.1zM456.6 659.6h1.1v1.1h-1.1zM457.1 651.7h1.1v1.1h-1.1zM455.5 660.5h1.1v1.1h-1.1zM455.2 661.5h1.1v1.1h-1.1zM457.4 645.6h1.1v1.1h-1.1zM456.4 662.6h1.1v1.1h-1.1zM454.2 651.2h1.1v1.1h-1.1zM455.1 647.6h1.1v1.1h-1.1zM456.0 651.5h1.1v1.1h-1.1zM455.1 647.2h1.1v1.1h-1.1zM456.4 642.2h1.1v1.1h-1.1zM454.1 660.3h1.1v1.1h-1.1zM456.9 653.9h1.1v1.1h-1.1zM454.2 650.3h1.1v1.1h-1.1zM454.7 651.9h1.1v1.1h-1.1zM456.0 655.2h1.1v1.1h-1.1zM455.5 662.2h1.1v1.1h-1.1zM453.4 649.7h1.1v1.1h-1.1zM454.7 643.0h1.1v1.1h-1.1zM453.3 663.0h1.1v1.1h-1.1zM453.7 643.3h1.1v1.1h-1.1zM457.1 644.5h1.1v1.1h-1.1zM454.4 651.7h1.1v1.1h-1.1zM454.5 653.5h1.1v1.1h-1.1zM455.7 647.5h1.1v1.1h-1.1zM456.2 652.5h1.1v1.1h-1.1zM452.2 641.4h1.1v1.1h-1.1zM455.1 654.9h1.1v1.1h-1.1zM455.5 651.9h1.1v1.1h-1.1zM455.5 665.3h1.1v1.1h-1.1zM454.2 647.2h1.1v1.1h-1.1zM456.4 651.3h1.1v1.1h-1.1zM458.0 662.5h1.1v1.1h-1.1zM452.7 660.2h1.1v1.1h-1.1zM455.0 641.2h1.1v1.1h-1.1zM456.1 650.5h1.1v1.1h-1.1zM455.6 648.4h1.1v1.1h-1.1zM452.6 660.8h1.1v1.1h-1.1zM453.3 664.8h1.1v1.1h-1.1zM453.9 655.7h1.1v1.1h-1.1zM455.0 655.7h1.1v1.1h-1.1zM456.2 648.0h1.1v1.1h-1.1zM454.5 651.2h1.1v1.1h-1.1zM454.6 659.4h1.1v1.1h-1.1zM458.5 658.2h1.1v1.1h-1.1zM456.1 648.0h1.1v1.1h-1.1zM457.5 656.5h1.1v1.1h-1.1zM456.8 657.2h1.1v1.1h-1.1zM456.7 651.7h1.1v1.1h-1.1zM455.3 664.8h1.1v1.1h-1.1zM455.2 644.7h1.1v1.1h-1.1zM455.7 660.2h1.1v1.1h-1.1zM454.8 654.9h1.1v1.1h-1.1zM455.9 641.1h1.1v1.1h-1.1zM454.2 663.6h1.1v1.1h-1.1zM455.7 650.4h1.1v1.1h-1.1zM455.0 640.7h1.1v1.1h-1.1zM454.7 656.9h1.1v1.1h-1.1zM452.0 641.2h1.1v1.1h-1.1zM456.3 645.9h1.1v1.1h-1.1zM454.6 642.1h1.1v1.1h-1.1zM455.6 646.0h1.1v1.1h-1.1zM456.8 651.1h1.1v1.1h-1.1zM456.7 654.4h1.1v1.1h-1.1zM454.5 661.6h1.1v1.1h-1.1zM454.8 659.2h1.1v1.1h-1.1zM458.3 642.7h1.1v1.1h-1.1zM455.9 658.2h1.1v1.1h-1.1zM453.5 666.0h1.1v1.1h-1.1zM457.4 641.1h1.1v1.1h-1.1zM457.2 641.0h1.1v1.1h-1.1zM454.6 654.6h1.1v1.1h-1.1zM458.8 656.4h1.1v1.1h-1.1zM457.6 648.4h1.1v1.1h-1.1zM453.8 658.6h1.1v1.1h-1.1zM456.0 659.2h1.1v1.1h-1.1zM455.9 661.0h1.1v1.1h-1.1zM454.1 660.4h1.1v1.1h-1.1zM454.7 643.2h1.1v1.1h-1.1zM455.2 665.8h1.1v1.1h-1.1zM455.4 651.7h1.1v1.1h-1.1zM457.2 665.3h1.1v1.1h-1.1zM455.7 653.8h1.1v1.1h-1.1zM453.9 660.4h1.1v1.1h-1.1zM454.0 644.2h1.1v1.1h-1.1zM458.0 641.8h1.1v1.1h-1.1zM454.8 640.7h1.1v1.1h-1.1zM454.0 655.2h1.1v1.1h-1.1zM456.7 645.6h1.1v1.1h-1.1zM455.8 654.3h1.1v1.1h-1.1zM456.2 651.8h1.1v1.1h-1.1zM456.7 665.9h1.1v1.1h-1.1zM455.2 655.9h1.1v1.1h-1.1zM455.8 652.5h1.1v1.1h-1.1zM454.8 650.4h1.1v1.1h-1.1zM456.0 650.2h1.1v1.1h-1.1zM454.2 641.2h1.1v1.1h-1.1zM457.2 657.2h1.1v1.1h-1.1zM455.0 649.1h1.1v1.1h-1.1zM455.0 648.4h1.1v1.1h-1.1zM453.1 656.0h1.1v1.1h-1.1zM455.0 685.2h1.1v1.1h-1.1zM453.9 688.5h1.1v1.1h-1.1zM454.4 683.9h1.1v1.1h-1.1zM455.0 683.6h1.1v1.1h-1.1zM454.2 666.6h1.1v1.1h-1.1zM456.4 677.8h1.1v1.1h-1.1zM453.9 677.3h1.1v1.1h-1.1zM454.8 670.6h1.1v1.1h-1.1zM453.5 682.2h1.1v1.1h-1.1zM455.0 686.4h1.1v1.1h-1.1zM455.4 683.9h1.1v1.1h-1.1zM455.9 690.0h1.1v1.1h-1.1zM453.6 688.1h1.1v1.1h-1.1zM456.3 672.1h1.1v1.1h-1.1zM453.3 680.2h1.1v1.1h-1.1zM455.9 671.1h1.1v1.1h-1.1zM455.0 677.3h1.1v1.1h-1.1zM454.6 684.4h1.1v1.1h-1.1zM455.3 685.4h1.1v1.1h-1.1zM453.9 690.2h1.1v1.1h-1.1zM456.1 684.7h1.1v1.1h-1.1zM455.2 667.7h1.1v1.1h-1.1zM456.8 680.2h1.1v1.1h-1.1zM455.8 674.0h1.1v1.1h-1.1zM456.1 683.0h1.1v1.1h-1.1zM451.3 688.9h1.1v1.1h-1.1zM455.3 684.3h1.1v1.1h-1.1zM455.4 675.5h1.1v1.1h-1.1zM455.8 684.3h1.1v1.1h-1.1zM454.9 668.8h1.1v1.1h-1.1zM454.0 689.2h1.1v1.1h-1.1zM454.5 689.6h1.1v1.1h-1.1zM455.7 689.6h1.1v1.1h-1.1zM457.3 678.4h1.1v1.1h-1.1zM455.3 683.8h1.1v1.1h-1.1zM455.2 680.7h1.1v1.1h-1.1zM453.4 674.0h1.1v1.1h-1.1zM453.7 680.1h1.1v1.1h-1.1zM454.2 679.5h1.1v1.1h-1.1zM457.1 667.8h1.1v1.1h-1.1zM453.3 674.4h1.1v1.1h-1.1zM454.9 678.9h1.1v1.1h-1.1zM453.1 676.0h1.1v1.1h-1.1zM455.4 666.0h1.1v1.1h-1.1zM454.7 666.6h1.1v1.1h-1.1zM456.9 670.6h1.1v1.1h-1.1zM454.1 686.5h1.1v1.1h-1.1zM454.9 680.6h1.1v1.1h-1.1zM453.9 684.6h1.1v1.1h-1.1zM456.0 679.0h1.1v1.1h-1.1zM454.7 674.5h1.1v1.1h-1.1zM455.0 673.2h1.1v1.1h-1.1zM455.7 690.0h1.1v1.1h-1.1zM456.4 679.2h1.1v1.1h-1.1zM454.6 676.3h1.1v1.1h-1.1zM453.9 675.9h1.1v1.1h-1.1zM455.8 678.3h1.1v1.1h-1.1zM455.4 667.9h1.1v1.1h-1.1zM454.9 684.5h1.1v1.1h-1.1zM453.7 687.7h1.1v1.1h-1.1zM453.8 681.2h1.1v1.1h-1.1zM453.3 688.9h1.1v1.1h-1.1zM454.9 671.7h1.1v1.1h-1.1zM457.6 681.0h1.1v1.1h-1.1zM454.3 685.9h1.1v1.1h-1.1zM457.1 688.8h1.1v1.1h-1.1zM453.8 683.8h1.1v1.1h-1.1zM456.4 668.0h1.1v1.1h-1.1zM455.1 676.7h1.1v1.1h-1.1zM457.5 669.5h1.1v1.1h-1.1zM454.3 669.2h1.1v1.1h-1.1zM455.0 683.2h1.1v1.1h-1.1zM454.9 676.5h1.1v1.1h-1.1zM454.4 689.3h1.1v1.1h-1.1zM455.8 669.4h1.1v1.1h-1.1zM454.7 679.2h1.1v1.1h-1.1zM454.2 669.2h1.1v1.1h-1.1zM456.6 685.2h1.1v1.1h-1.1zM457.0 668.4h1.1v1.1h-1.1zM456.4 681.4h1.1v1.1h-1.1zM451.8 678.3h1.1v1.1h-1.1zM454.7 667.2h1.1v1.1h-1.1zM456.6 666.8h1.1v1.1h-1.1zM458.6 678.8h1.1v1.1h-1.1zM455.2 674.5h1.1v1.1h-1.1zM456.6 668.0h1.1v1.1h-1.1zM454.4 671.1h1.1v1.1h-1.1zM455.0 673.7h1.1v1.1h-1.1zM456.7 686.9h1.1v1.1h-1.1zM455.3 688.3h1.1v1.1h-1.1zM456.3 668.3h1.1v1.1h-1.1zM458.1 678.4h1.1v1.1h-1.1zM455.3 672.3h1.1v1.1h-1.1zM454.7 678.0h1.1v1.1h-1.1zM453.8 687.8h1.1v1.1h-1.1zM455.4 682.1h1.1v1.1h-1.1zM456.7 674.5h1.1v1.1h-1.1zM455.4 669.1h1.1v1.1h-1.1zM456.4 671.5h1.1v1.1h-1.1zM457.7 686.1h1.1v1.1h-1.1zM454.2 678.8h1.1v1.1h-1.1zM456.7 685.3h1.1v1.1h-1.1zM453.0 678.9h1.1v1.1h-1.1zM455.1 684.9h1.1v1.1h-1.1zM455.2 672.5h1.1v1.1h-1.1zM454.5 676.7h1.1v1.1h-1.1zM453.9 677.8h1.1v1.1h-1.1zM454.9 672.4h1.1v1.1h-1.1zM455.8 671.7h1.1v1.1h-1.1zM452.9 670.3h1.1v1.1h-1.1zM456.3 673.7h1.1v1.1h-1.1zM456.7 690.0h1.1v1.1h-1.1zM451.6 667.5h1.1v1.1h-1.1zM452.8 672.6h1.1v1.1h-1.1zM456.1 688.5h1.1v1.1h-1.1zM454.7 672.7h1.1v1.1h-1.1zM455.0 682.5h1.1v1.1h-1.1zM454.4 670.8h1.1v1.1h-1.1zM456.1 675.0h1.1v1.1h-1.1zM454.6 686.4h1.1v1.1h-1.1zM451.6 654.5h1.1v1.1h-1.1zM441.4 652.1h1.1v1.1h-1.1zM441.0 663.3h1.1v1.1h-1.1zM445.5 640.6h1.1v1.1h-1.1zM447.1 645.0h1.1v1.1h-1.1zM444.8 646.0h1.1v1.1h-1.1zM452.0 659.6h1.1v1.1h-1.1zM437.5 647.3h1.1v1.1h-1.1zM442.1 641.1h1.1v1.1h-1.1zM449.4 639.6h1.1v1.1h-1.1zM439.1 650.9h1.1v1.1h-1.1zM442.5 650.6h1.1v1.1h-1.1zM447.1 652.6h1.1v1.1h-1.1zM442.3 648.9h1.1v1.1h-1.1zM446.7 633.9h1.1v1.1h-1.1zM446.2 648.8h1.1v1.1h-1.1zM451.9 651.7h1.1v1.1h-1.1zM440.7 646.0h1.1v1.1h-1.1zM444.5 646.2h1.1v1.1h-1.1zM441.8 660.4h1.1v1.1h-1.1zM445.1 640.4h1.1v1.1h-1.1zM452.2 645.8h1.1v1.1h-1.1zM443.7 648.3h1.1v1.1h-1.1zM444.3 657.2h1.1v1.1h-1.1zM452.9 637.0h1.1v1.1h-1.1zM447.5 653.0h1.1v1.1h-1.1zM450.0 652.2h1.1v1.1h-1.1zM452.5 644.4h1.1v1.1h-1.1zM443.9 646.9h1.1v1.1h-1.1zM447.6 654.0h1.1v1.1h-1.1zM451.3 649.6h1.1v1.1h-1.1zM447.6 644.4h1.1v1.1h-1.1zM448.6 658.9h1.1v1.1h-1.1zM445.7 633.4h1.1v1.1h-1.1zM451.5 649.4h1.1v1.1h-1.1zM442.1 646.4h1.1v1.1h-1.1zM447.5 656.2h1.1v1.1h-1.1zM449.3 648.6h1.1v1.1h-1.1zM444.7 646.1h1.1v1.1h-1.1zM446.3 645.1h1.1v1.1h-1.1zM444.0 643.9h1.1v1.1h-1.1zM440.6 644.5h1.1v1.1h-1.1zM448.0 655.9h1.1v1.1h-1.1zM447.2 640.5h1.1v1.1h-1.1zM441.5 665.1h1.1v1.1h-1.1zM453.5 657.6h1.1v1.1h-1.1zM444.2 639.4h1.1v1.1h-1.1zM444.7 647.4h1.1v1.1h-1.1zM449.0 649.4h1.1v1.1h-1.1zM441.9 641.5h1.1v1.1h-1.1zM447.8 657.7h1.1v1.1h-1.1zM448.7 649.7h1.1v1.1h-1.1zM448.1 638.7h1.1v1.1h-1.1zM445.1 641.7h1.1v1.1h-1.1zM445.3 647.0h1.1v1.1h-1.1zM442.7 656.5h1.1v1.1h-1.1zM445.7 661.4h1.1v1.1h-1.1zM446.2 648.4h1.1v1.1h-1.1zM442.7 645.1h1.1v1.1h-1.1zM448.0 651.6h1.1v1.1h-1.1zM452.4 655.2h1.1v1.1h-1.1zM443.8 642.8h1.1v1.1h-1.1zM444.4 659.8h1.1v1.1h-1.1zM450.3 627.0h1.1v1.1h-1.1zM443.8 665.6h1.1v1.1h-1.1zM441.8 650.7h1.1v1.1h-1.1zM447.7 652.4h1.1v1.1h-1.1zM444.4 649.1h1.1v1.1h-1.1zM443.9 650.3h1.1v1.1h-1.1zM444.9 664.7h1.1v1.1h-1.1zM449.8 642.3h1.1v1.1h-1.1zM445.6 664.8h1.1v1.1h-1.1zM444.9 652.9h1.1v1.1h-1.1zM451.6 644.3h1.1v1.1h-1.1zM448.6 648.8h1.1v1.1h-1.1zM448.4 648.9h1.1v1.1h-1.1zM448.7 657.1h1.1v1.1h-1.1zM452.8 643.6h1.1v1.1h-1.1zM449.2 655.5h1.1v1.1h-1.1zM441.0 662.0h1.1v1.1h-1.1zM453.4 664.9h1.1v1.1h-1.1zM443.1 643.8h1.1v1.1h-1.1zM452.0 649.7h1.1v1.1h-1.1zM445.3 642.1h1.1v1.1h-1.1zM449.9 632.3h1.1v1.1h-1.1zM443.6 654.8h1.1v1.1h-1.1zM439.4 658.3h1.1v1.1h-1.1zM445.6 651.5h1.1v1.1h-1.1zM445.9 652.0h1.1v1.1h-1.1zM444.5 642.4h1.1v1.1h-1.1zM446.0 661.2h1.1v1.1h-1.1zM448.2 652.3h1.1v1.1h-1.1zM443.5 651.4h1.1v1.1h-1.1zM452.2 649.5h1.1v1.1h-1.1zM445.9 644.3h1.1v1.1h-1.1zM454.1 649.9h1.1v1.1h-1.1zM448.9 635.1h1.1v1.1h-1.1zM448.3 653.9h1.1v1.1h-1.1zM442.7 650.0h1.1v1.1h-1.1zM445.3 658.1h1.1v1.1h-1.1zM447.4 648.1h1.1v1.1h-1.1zM444.5 666.1h1.1v1.1h-1.1zM447.9 652.0h1.1v1.1h-1.1zM447.1 653.8h1.1v1.1h-1.1zM446.7 648.6h1.1v1.1h-1.1zM450.6 647.4h1.1v1.1h-1.1zM443.5 643.8h1.1v1.1h-1.1zM445.7 647.6h1.1v1.1h-1.1zM445.2 650.9h1.1v1.1h-1.1zM445.9 655.8h1.1v1.1h-1.1z" fill="#111"/>
<path d="M444.3 647.5h1.0v1.0h-1.0zM442.7 650.6h1.0v1.0h-1.0zM445.6 671.2h1.0v1.0h-1.0zM448.7 679.0h1.0v1.0h-1.0zM442.8 662.0h1.0v1.0h-1.0zM441.3 651.5h1.0v1.0h-1.0zM443.6 678.9h1.0v1.0h-1.0zM436.8 669.9h1.0v1.0h-1.0zM440.8 663.9h1.0v1.0h-1.0zM440.0 668.8h1.0v1.0h-1.0zM443.4 652.4h1.0v1.0h-1.0zM442.7 640.2h1.0v1.0h-1.0zM437.5 676.3h1.0v1.0h-1.0zM437.2 655.9h1.0v1.0h-1.0zM446.0 641.5h1.0v1.0h-1.0zM450.0 648.3h1.0v1.0h-1.0zM450.4 657.3h1.0v1.0h-1.0zM444.8 664.2h1.0v1.0h-1.0zM437.3 660.2h1.0v1.0h-1.0zM447.2 671.6h1.0v1.0h-1.0zM447.0 667.2h1.0v1.0h-1.0zM437.9 656.4h1.0v1.0h-1.0zM443.6 641.6h1.0v1.0h-1.0zM447.5 644.1h1.0v1.0h-1.0zM444.5 650.7h1.0v1.0h-1.0zM438.4 678.1h1.0v1.0h-1.0zM445.3 669.3h1.0v1.0h-1.0zM445.1 662.6h1.0v1.0h-1.0zM449.1 642.5h1.0v1.0h-1.0zM441.7 648.8h1.0v1.0h-1.0zM444.4 642.8h1.0v1.0h-1.0zM443.1 657.4h1.0v1.0h-1.0zM444.3 648.3h1.0v1.0h-1.0zM457.1 649.1h1.0v1.0h-1.0zM440.8 639.6h1.0v1.0h-1.0zM451.8 660.5h1.0v1.0h-1.0zM452.4 653.6h1.0v1.0h-1.0zM455.0 670.8h1.0v1.0h-1.0zM451.0 652.4h1.0v1.0h-1.0zM445.2 662.9h1.0v1.0h-1.0zM455.4 654.5h1.0v1.0h-1.0zM442.2 655.1h1.0v1.0h-1.0zM439.7 651.3h1.0v1.0h-1.0zM453.6 646.2h1.0v1.0h-1.0zM447.4 660.4h1.0v1.0h-1.0zM439.6 651.4h1.0v1.0h-1.0zM451.3 647.1h1.0v1.0h-1.0zM441.6 650.4h1.0v1.0h-1.0zM452.1 655.3h1.0v1.0h-1.0zM445.3 650.9h1.0v1.0h-1.0zM451.7 682.2h1.0v1.0h-1.0zM444.5 665.3h1.0v1.0h-1.0zM446.4 655.4h1.0v1.0h-1.0zM448.6 658.7h1.0v1.0h-1.0zM450.4 677.0h1.0v1.0h-1.0zM445.5 636.6h1.0v1.0h-1.0zM453.9 649.5h1.0v1.0h-1.0zM444.2 657.5h1.0v1.0h-1.0zM443.7 656.3h1.0v1.0h-1.0zM445.6 660.7h1.0v1.0h-1.0z" fill="#888"/>
<text x="245.00" y="507.00" font-size="6.9" text-anchor="start" font-weight="bold" stroke="#000" stroke-width="0.1">2.4%</text>
<text x="316.70" y="507.00" font-size="6.9" text-anchor="end" font-weight="bold" stroke="#000" stroke-width="0.1">3.8%</text>
<text x="245.00" y="569.00" font-size="6.9" text-anchor="start" font-weight="bold" stroke="#000" stroke-width="0.1">5.5%</text>
<text x="340.80" y="507.00" font-size="6.9" text-anchor="start" font-weight="bold" stroke="#000" stroke-width="0.1">25.4%</text>
<text x="412.80" y="507.00" font-size="6.9" text-anchor="end" font-weight="bold" stroke="#000" stroke-width="0.1">41.3%</text>
<text x="340.80" y="569.00" font-size="6.9" text-anchor="start" font-weight="bold" stroke="#000" stroke-width="0.1">2.9%</text>
<text x="437.40" y="507.00" font-size="6.9" text-anchor="start" font-weight="bold" stroke="#000" stroke-width="0.1">41.3%</text>
<text x="509.20" y="507.00" font-size="6.9" text-anchor="end" font-weight="bold" stroke="#000" stroke-width="0.1">29.7%</text>
<text x="437.40" y="569.00" font-size="6.9" text-anchor="start" font-weight="bold" stroke="#000" stroke-width="0.1">7.7%</text>
<text x="295.00" y="624.50" font-size="6.9" text-anchor="start" font-weight="bold" stroke="#000" stroke-width="0.1">4.7%</text>
<text x="363.00" y="624.50" font-size="6.9" text-anchor="end" font-weight="bold" stroke="#000" stroke-width="0.1">5.3%</text>
<text x="293.00" y="686.00" font-size="6.9" text-anchor="start" font-weight="bold" stroke="#000" stroke-width="0.1">12.6%</text>
<text x="401.00" y="624.40" font-size="6.9" text-anchor="start" font-weight="bold" stroke="#000" stroke-width="0.1">15.4%</text>
<text x="475.60" y="624.40" font-size="6.9" text-anchor="end" font-weight="bold" stroke="#000" stroke-width="0.1">27.1%</text>
<text x="401.00" y="685.50" font-size="6.9" text-anchor="start" font-weight="bold" stroke="#000" stroke-width="0.1">6.6%</text>
<line x1="223.80" y1="525.30" x2="223.80" y2="628.40" stroke="#000" stroke-width="1.4"/>
<path d="M223.8 516.8 L220.10000000000002 526.3 L227.5 526.3Z" fill="#000"/>
<text x="228.70" y="675.53" font-size="17.43" textLength="42.42" lengthAdjust="spacingAndGlyphs" transform="rotate(-90 228.70 675.53)" stroke="#000" stroke-width="0.6">CD25</text>
<text x="279.59" y="718.60" font-size="17.14" textLength="43.09" lengthAdjust="spacingAndGlyphs" stroke="#000" stroke-width="0.6">CFSE</text>
<text x="263.55" y="479.70" font-size="10.29" textLength="35.00" lengthAdjust="spacingAndGlyphs" stroke="#000" stroke-width="0.35">PBS <tspan font-style="italic">i/v</tspan></text>
<text x="263.53" y="491.10" font-size="10.57" textLength="36.07" lengthAdjust="spacingAndGlyphs" stroke="#000" stroke-width="0.35">PBS <tspan font-style="italic">i/n</tspan></text>
<text x="356.64" y="479.70" font-size="10.29" textLength="39.20" lengthAdjust="spacingAndGlyphs" stroke="#000" stroke-width="0.35">PBS <tspan font-style="italic">i/v</tspan></text>
<text x="357.06" y="491.10" font-size="10.57" textLength="39.53" lengthAdjust="spacingAndGlyphs" stroke="#000" stroke-width="0.35">OVA <tspan font-style="italic">i/n</tspan></text>
<text x="456.28" y="479.70" font-size="10.43" textLength="31.26" lengthAdjust="spacingAndGlyphs" stroke="#000" stroke-width="0.35">Tc1 <tspan font-style="italic">i/v</tspan></text>
<text x="455.18" y="491.10" font-size="10.57" textLength="37.98" lengthAdjust="spacingAndGlyphs" stroke="#000" stroke-width="0.35">OVA <tspan font-style="italic">i/n</tspan></text>
<text x="308.20" y="597.30" font-size="10.87" textLength="32.47" lengthAdjust="spacingAndGlyphs" stroke="#000" stroke-width="0.35">Treg <tspan font-style="italic">i/v</tspan></text>
<text x="307.90" y="608.20" font-size="10.57" textLength="37.05" lengthAdjust="spacingAndGlyphs" stroke="#000" stroke-width="0.35">OVA <tspan font-style="italic">i/n</tspan></text>
<text x="421.40" y="597.30" font-size="10.87" textLength="33.07" lengthAdjust="spacingAndGlyphs" stroke="#000" stroke-width="0.35">Treg <tspan font-style="italic">i/v</tspan></text>
<text x="395.79" y="608.20" font-size="10.57" textLength="84.19" lengthAdjust="spacingAndGlyphs" stroke="#000" stroke-width="0.35">OVA+αCD28  <tspan font-style="italic">i/n</tspan></text>
<line x1="327.00" y1="712.30" x2="475.00" y2="712.30" stroke="#000" stroke-width="1.4"/>
<path d="M483.7 712.3 L474.0 708.5 L474.0 716.0999999999999Z" fill="#000"/>
</svg></body></html>
